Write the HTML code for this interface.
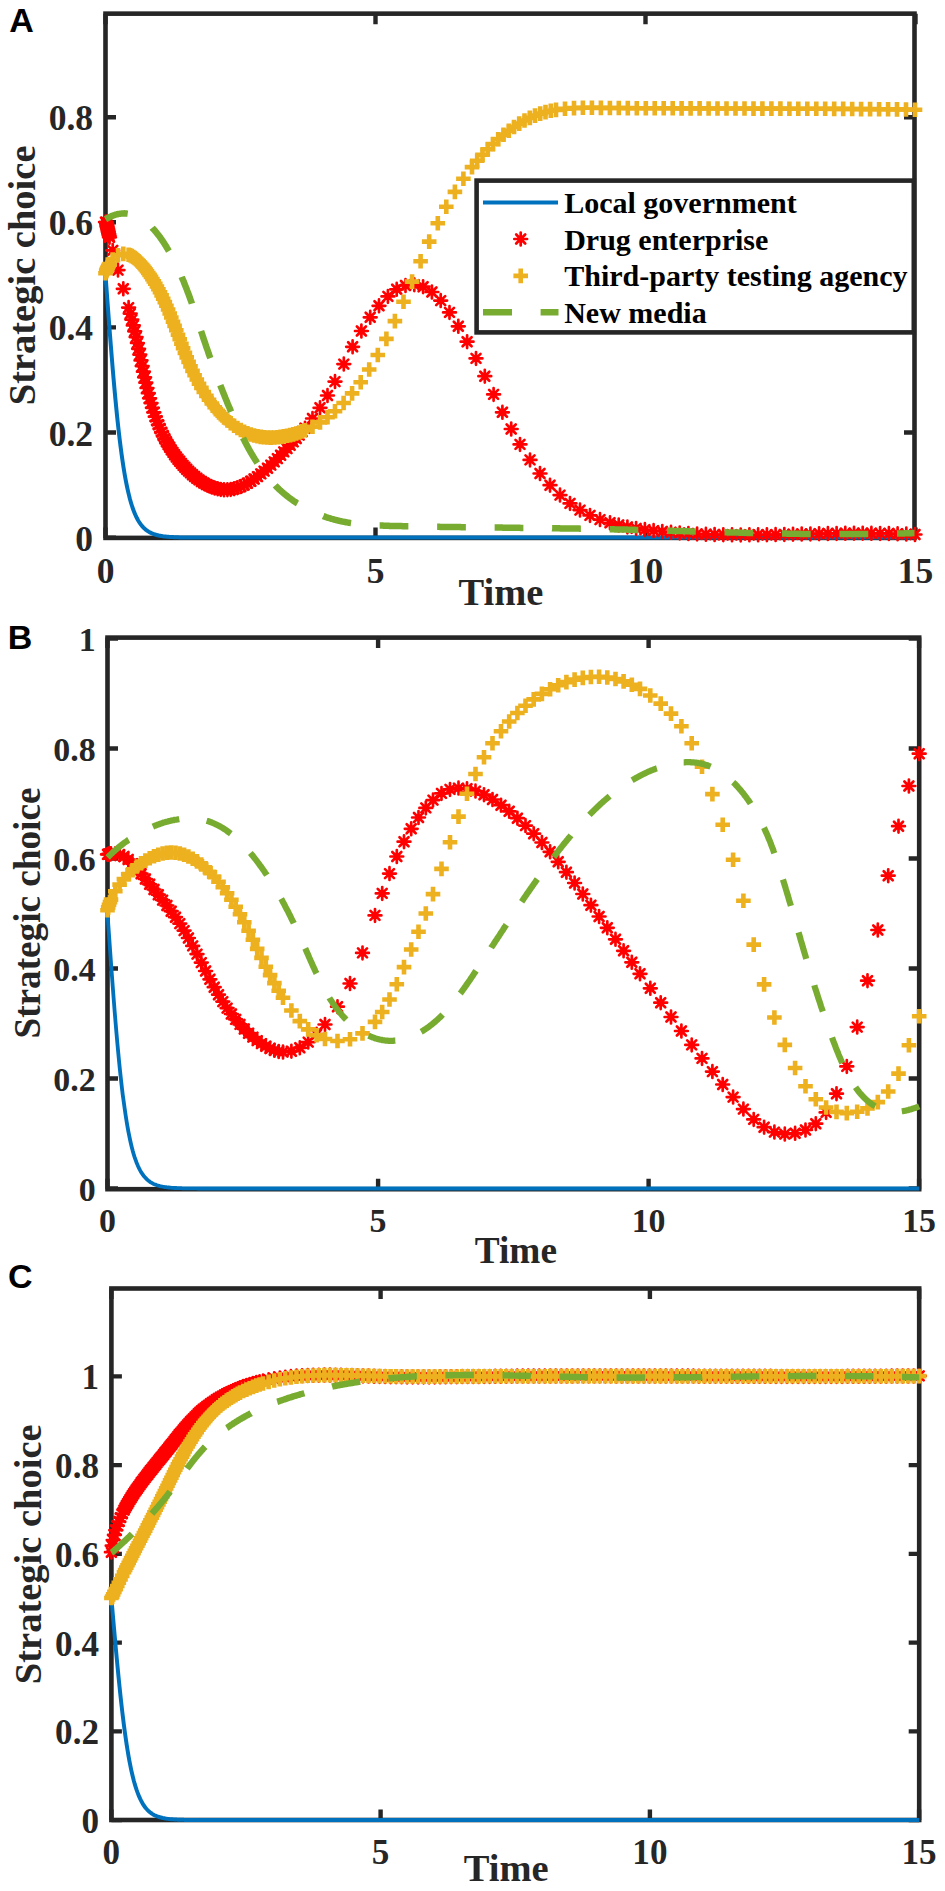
<!DOCTYPE html>
<html><head><meta charset="utf-8"><style>
html,body{margin:0;padding:0;background:#fff;width:945px;height:1891px;overflow:hidden}
svg{display:block}
.tl{font-family:"Liberation Serif",serif;font-weight:bold;font-size:35px;fill:#262626}
.al{font-family:"Liberation Serif",serif;font-weight:bold;font-size:38.5px;fill:#262626}
.lg{font-family:"Liberation Serif",serif;font-weight:bold;font-size:30px;fill:#000}
.pl{font-family:"Liberation Sans",sans-serif;font-weight:bold;font-size:34px;fill:#000}
</style></head><body>
<svg width="945" height="1891" viewBox="0 0 945 1891">
<defs>
<path id="ast" d="M-6.4,0H6.4M0,-6.4V6.4M-4.5,-4.5L4.5,4.5M-4.5,4.5L4.5,-4.5" stroke="#FF0000" stroke-width="2.7" stroke-linecap="round" fill="none"/>
<path id="pls" d="M-7.3,0H7.3M0,-7.3V7.3" stroke="#EDB120" stroke-width="4.6" fill="none"/>
</defs>
<rect width="945" height="1891" fill="#fff"/>
<rect x="105.5" y="13.65" width="809.0" height="524.25" fill="none" stroke="#262626" stroke-width="4.6"/>
<path d="M105.5,537.6h10.5M914.5,537.6h-10.5M105.5,432.5h10.5M914.5,432.5h-10.5M105.5,327.4h10.5M914.5,327.4h-10.5M105.5,222.3h10.5M914.5,222.3h-10.5M105.5,117.2h10.5M914.5,117.2h-10.5M105.5,537.9v-10.5M105.5,13.65v10.5M375.5,537.9v-10.5M375.5,13.65v10.5M645.5,537.9v-10.5M645.5,13.65v10.5M915.5,537.9v-10.5M915.5,13.65v10.5" stroke="#262626" stroke-width="4.4" fill="none"/>
<path d="M105.5,274.9 L106.4,287.1 L107.3,299.3 L108.2,311.4 L109.1,323.3 L110.0,335.1 L110.9,346.5 L111.8,357.7 L112.7,368.6 L113.6,379.1 L114.5,389.3 L115.4,399.0 L116.3,408.3 L117.2,417.2 L118.1,425.6 L119.0,433.6 L119.9,441.2 L120.8,448.3 L121.7,455.0 L122.6,461.3 L123.5,467.2 L124.4,472.7 L125.3,477.8 L126.2,482.6 L127.1,487.0 L128.0,491.1 L128.9,494.9 L129.8,498.5 L130.7,501.7 L131.6,504.7 L132.5,507.5 L133.4,510.0 L134.3,512.4 L135.2,514.5 L136.1,516.5 L137.0,518.3 L137.9,520.0 L138.8,521.5 L139.7,522.9 L140.6,524.2 L141.5,525.3 L142.4,526.4 L143.3,527.4 L144.2,528.3 L145.1,529.1 L146.0,529.8 L146.9,530.5 L147.8,531.1 L148.7,531.7 L149.6,532.2 L150.5,532.7 L151.4,533.1 L152.3,533.5 L153.2,533.9 L154.1,534.2 L155.0,534.5 L155.9,534.8 L156.8,535.0 L157.7,535.3 L158.6,535.5 L159.5,535.7 L160.4,535.8 L161.3,536.0 L162.2,536.1 L163.1,536.3 L164.0,536.4 L164.9,536.5 L165.8,536.6 L166.7,536.7 L167.6,536.8 L168.5,536.8 L169.4,536.9 L170.3,537.0 L171.2,537.0 L172.1,537.1 L173.0,537.1 L173.9,537.2 L174.8,537.2 L175.7,537.2 L176.6,537.3 L177.5,537.3 L178.4,537.3 L179.3,537.4 L180.2,537.4 L181.1,537.4 L182.0,537.4 L182.9,537.4 L183.8,537.4 L184.7,537.5 L185.6,537.5 L186.5,537.5 L187.4,537.5 L188.3,537.5 L189.2,537.5 L190.1,537.5 L191.0,537.5 L191.9,537.5 L192.8,537.5 L193.7,537.5 L194.6,537.5 L195.5,537.6 L196.4,537.6 L197.3,537.6 L198.2,537.6 L199.1,537.6 L200.0,537.6 L200.9,537.6 L201.8,537.6 L202.7,537.6 L203.6,537.6 L204.5,537.6 L205.4,537.6 L206.3,537.6 L207.2,537.6 L208.1,537.6 L209.0,537.6 L209.9,537.6 L210.8,537.6 L211.7,537.6 L212.6,537.6 L213.5,537.6 L214.4,537.6 L215.3,537.6 L216.2,537.6 L217.1,537.6 L218.0,537.6 L218.9,537.6 L219.8,537.6 L220.7,537.6 L221.6,537.6 L222.5,537.6 L223.4,537.6 L224.3,537.6 L225.2,537.6 L226.1,537.6 L227.0,537.6 L227.9,537.6 L228.8,537.6 L229.7,537.6 L230.6,537.6 L231.5,537.6 L232.4,537.6 L233.3,537.6 L234.2,537.6 L235.1,537.6 L236.0,537.6 L236.9,537.6 L237.8,537.6 L238.7,537.6 L239.6,537.6 L240.5,537.6 L241.4,537.6 L242.3,537.6 L243.2,537.6 L244.1,537.6 L245.0,537.6 L245.9,537.6 L246.8,537.6 L247.7,537.6 L248.6,537.6 L249.5,537.6 L250.4,537.6 L251.3,537.6 L252.2,537.6 L253.1,537.6 L254.0,537.6 L254.9,537.6 L255.8,537.6 L256.7,537.6 L257.6,537.6 L258.5,537.6 L259.4,537.6 L260.3,537.6 L261.2,537.6 L262.1,537.6 L263.0,537.6 L263.9,537.6 L264.8,537.6 L265.7,537.6 L266.6,537.6 L267.5,537.6 L268.4,537.6 L269.3,537.6 L270.2,537.6 L271.1,537.6 L272.0,537.6 L272.9,537.6 L273.8,537.6 L274.7,537.6 L275.6,537.6 L276.5,537.6 L277.4,537.6 L278.3,537.6 L279.2,537.6 L280.1,537.6 L281.0,537.6 L281.9,537.6 L282.8,537.6 L283.7,537.6 L284.6,537.6 L285.5,537.6 L286.4,537.6 L287.3,537.6 L288.2,537.6 L289.1,537.6 L290.0,537.6 L290.9,537.6 L291.8,537.6 L292.7,537.6 L293.6,537.6 L294.5,537.6 L295.4,537.6 L296.3,537.6 L297.2,537.6 L298.1,537.6 L299.0,537.6 L299.9,537.6 L300.8,537.6 L301.7,537.6 L302.6,537.6 L303.5,537.6 L304.4,537.6 L305.3,537.6 L306.2,537.6 L307.1,537.6 L308.0,537.6 L308.9,537.6 L309.8,537.6 L310.7,537.6 L311.6,537.6 L312.5,537.6 L313.4,537.6 L314.3,537.6 L315.2,537.6 L316.1,537.6 L317.0,537.6 L317.9,537.6 L318.8,537.6 L319.7,537.6 L320.6,537.6 L321.5,537.6 L322.4,537.6 L323.3,537.6 L324.2,537.6 L325.1,537.6 L326.0,537.6 L326.9,537.6 L327.8,537.6 L328.7,537.6 L329.6,537.6 L330.5,537.6 L331.4,537.6 L332.3,537.6 L333.2,537.6 L334.1,537.6 L335.0,537.6 L335.9,537.6 L336.8,537.6 L337.7,537.6 L338.6,537.6 L339.5,537.6 L340.4,537.6 L341.3,537.6 L342.2,537.6 L343.1,537.6 L344.0,537.6 L344.9,537.6 L345.8,537.6 L346.7,537.6 L347.6,537.6 L348.5,537.6 L349.4,537.6 L350.3,537.6 L351.2,537.6 L352.1,537.6 L353.0,537.6 L353.9,537.6 L354.8,537.6 L355.7,537.6 L356.6,537.6 L357.5,537.6 L358.4,537.6 L359.3,537.6 L360.2,537.6 L361.1,537.6 L362.0,537.6 L362.9,537.6 L363.8,537.6 L364.7,537.6 L365.6,537.6 L366.5,537.6 L367.4,537.6 L368.3,537.6 L369.2,537.6 L370.1,537.6 L371.0,537.6 L371.9,537.6 L372.8,537.6 L373.7,537.6 L374.6,537.6 L375.5,537.6 L376.4,537.6 L377.3,537.6 L378.2,537.6 L379.1,537.6 L380.0,537.6 L380.9,537.6 L381.8,537.6 L382.7,537.6 L383.6,537.6 L384.5,537.6 L385.4,537.6 L386.3,537.6 L387.2,537.6 L388.1,537.6 L389.0,537.6 L389.9,537.6 L390.8,537.6 L391.7,537.6 L392.6,537.6 L393.5,537.6 L394.4,537.6 L395.3,537.6 L396.2,537.6 L397.1,537.6 L398.0,537.6 L398.9,537.6 L399.8,537.6 L400.7,537.6 L401.6,537.6 L402.5,537.6 L403.4,537.6 L404.3,537.6 L405.2,537.6 L406.1,537.6 L407.0,537.6 L407.9,537.6 L408.8,537.6 L409.7,537.6 L410.6,537.6 L411.5,537.6 L412.4,537.6 L413.3,537.6 L414.2,537.6 L415.1,537.6 L416.0,537.6 L416.9,537.6 L417.8,537.6 L418.7,537.6 L419.6,537.6 L420.5,537.6 L421.4,537.6 L422.3,537.6 L423.2,537.6 L424.1,537.6 L425.0,537.6 L425.9,537.6 L426.8,537.6 L427.7,537.6 L428.6,537.6 L429.5,537.6 L430.4,537.6 L431.3,537.6 L432.2,537.6 L433.1,537.6 L434.0,537.6 L434.9,537.6 L435.8,537.6 L436.7,537.6 L437.6,537.6 L438.5,537.6 L439.4,537.6 L440.3,537.6 L441.2,537.6 L442.1,537.6 L443.0,537.6 L443.9,537.6 L444.8,537.6 L445.7,537.6 L446.6,537.6 L447.5,537.6 L448.4,537.6 L449.3,537.6 L450.2,537.6 L451.1,537.6 L452.0,537.6 L452.9,537.6 L453.8,537.6 L454.7,537.6 L455.6,537.6 L456.5,537.6 L457.4,537.6 L458.3,537.6 L459.2,537.6 L460.1,537.6 L461.0,537.6 L461.9,537.6 L462.8,537.6 L463.7,537.6 L464.6,537.6 L465.5,537.6 L466.4,537.6 L467.3,537.6 L468.2,537.6 L469.1,537.6 L470.0,537.6 L470.9,537.6 L471.8,537.6 L472.7,537.6 L473.6,537.6 L474.5,537.6 L475.4,537.6 L476.3,537.6 L477.2,537.6 L478.1,537.6 L479.0,537.6 L479.9,537.6 L480.8,537.6 L481.7,537.6 L482.6,537.6 L483.5,537.6 L484.4,537.6 L485.3,537.6 L486.2,537.6 L487.1,537.6 L488.0,537.6 L488.9,537.6 L489.8,537.6 L490.7,537.6 L491.6,537.6 L492.5,537.6 L493.4,537.6 L494.3,537.6 L495.2,537.6 L496.1,537.6 L497.0,537.6 L497.9,537.6 L498.8,537.6 L499.7,537.6 L500.6,537.6 L501.5,537.6 L502.4,537.6 L503.3,537.6 L504.2,537.6 L505.1,537.6 L506.0,537.6 L506.9,537.6 L507.8,537.6 L508.7,537.6 L509.6,537.6 L510.4,537.6 L511.3,537.6 L512.2,537.6 L513.1,537.6 L514.0,537.6 L514.9,537.6 L515.8,537.6 L516.7,537.6 L517.6,537.6 L518.5,537.6 L519.4,537.6 L520.3,537.6 L521.2,537.6 L522.1,537.6 L523.0,537.6 L523.9,537.6 L524.8,537.6 L525.7,537.6 L526.6,537.6 L527.5,537.6 L528.4,537.6 L529.3,537.6 L530.2,537.6 L531.1,537.6 L532.0,537.6 L532.9,537.6 L533.8,537.6 L534.7,537.6 L535.6,537.6 L536.5,537.6 L537.4,537.6 L538.3,537.6 L539.2,537.6 L540.1,537.6 L541.0,537.6 L541.9,537.6 L542.8,537.6 L543.7,537.6 L544.6,537.6 L545.5,537.6 L546.4,537.6 L547.3,537.6 L548.2,537.6 L549.1,537.6 L550.0,537.6 L550.9,537.6 L551.8,537.6 L552.7,537.6 L553.6,537.6 L554.5,537.6 L555.4,537.6 L556.3,537.6 L557.2,537.6 L558.1,537.6 L559.0,537.6 L559.9,537.6 L560.8,537.6 L561.7,537.6 L562.6,537.6 L563.5,537.6 L564.4,537.6 L565.3,537.6 L566.2,537.6 L567.1,537.6 L568.0,537.6 L568.9,537.6 L569.8,537.6 L570.7,537.6 L571.6,537.6 L572.5,537.6 L573.4,537.6 L574.3,537.6 L575.2,537.6 L576.1,537.6 L577.0,537.6 L577.9,537.6 L578.8,537.6 L579.7,537.6 L580.6,537.6 L581.5,537.6 L582.4,537.6 L583.3,537.6 L584.2,537.6 L585.1,537.6 L586.0,537.6 L586.9,537.6 L587.8,537.6 L588.7,537.6 L589.6,537.6 L590.5,537.6 L591.4,537.6 L592.3,537.6 L593.2,537.6 L594.1,537.6 L595.0,537.6 L595.9,537.6 L596.8,537.6 L597.7,537.6 L598.6,537.6 L599.5,537.6 L600.4,537.6 L601.3,537.6 L602.2,537.6 L603.1,537.6 L604.0,537.6 L604.9,537.6 L605.8,537.6 L606.7,537.6 L607.6,537.6 L608.5,537.6 L609.4,537.6 L610.3,537.6 L611.2,537.6 L612.1,537.6 L613.0,537.6 L613.9,537.6 L614.8,537.6 L615.7,537.6 L616.6,537.6 L617.5,537.6 L618.4,537.6 L619.3,537.6 L620.2,537.6 L621.1,537.6 L622.0,537.6 L622.9,537.6 L623.8,537.6 L624.7,537.6 L625.6,537.6 L626.5,537.6 L627.4,537.6 L628.3,537.6 L629.2,537.6 L630.1,537.6 L631.0,537.6 L631.9,537.6 L632.8,537.6 L633.7,537.6 L634.6,537.6 L635.5,537.6 L636.4,537.6 L637.3,537.6 L638.2,537.6 L639.1,537.6 L640.0,537.6 L640.9,537.6 L641.8,537.6 L642.7,537.6 L643.6,537.6 L644.5,537.6 L645.4,537.6 L646.3,537.6 L647.2,537.6 L648.1,537.6 L649.0,537.6 L649.9,537.6 L650.8,537.6 L651.7,537.6 L652.6,537.6 L653.5,537.6 L654.4,537.6 L655.3,537.6 L656.2,537.6 L657.1,537.6 L658.0,537.6 L658.9,537.6 L659.8,537.6 L660.7,537.6 L661.6,537.6 L662.5,537.6 L663.4,537.6 L664.3,537.6 L665.2,537.6 L666.1,537.6 L667.0,537.6 L667.9,537.6 L668.8,537.6 L669.7,537.6 L670.6,537.6 L671.5,537.6 L672.4,537.6 L673.3,537.6 L674.2,537.6 L675.1,537.6 L676.0,537.6 L676.9,537.6 L677.8,537.6 L678.7,537.6 L679.6,537.6 L680.5,537.6 L681.4,537.6 L682.3,537.6 L683.2,537.6 L684.1,537.6 L685.0,537.6 L685.9,537.6 L686.8,537.6 L687.7,537.6 L688.6,537.6 L689.5,537.6 L690.4,537.6 L691.3,537.6 L692.2,537.6 L693.1,537.6 L694.0,537.6 L694.9,537.6 L695.8,537.6 L696.7,537.6 L697.6,537.6 L698.5,537.6 L699.4,537.6 L700.3,537.6 L701.2,537.6 L702.1,537.6 L703.0,537.6 L703.9,537.6 L704.8,537.6 L705.7,537.6 L706.6,537.6 L707.5,537.6 L708.4,537.6 L709.3,537.6 L710.2,537.6 L711.1,537.6 L712.0,537.6 L712.9,537.6 L713.8,537.6 L714.7,537.6 L715.6,537.6 L716.5,537.6 L717.4,537.6 L718.3,537.6 L719.2,537.6 L720.1,537.6 L721.0,537.6 L721.9,537.6 L722.8,537.6 L723.7,537.6 L724.6,537.6 L725.5,537.6 L726.4,537.6 L727.3,537.6 L728.2,537.6 L729.1,537.6 L730.0,537.6 L730.9,537.6 L731.8,537.6 L732.7,537.6 L733.6,537.6 L734.5,537.6 L735.4,537.6 L736.3,537.6 L737.2,537.6 L738.1,537.6 L739.0,537.6 L739.9,537.6 L740.8,537.6 L741.7,537.6 L742.6,537.6 L743.5,537.6 L744.4,537.6 L745.3,537.6 L746.2,537.6 L747.1,537.6 L748.0,537.6 L748.9,537.6 L749.8,537.6 L750.7,537.6 L751.6,537.6 L752.5,537.6 L753.4,537.6 L754.3,537.6 L755.2,537.6 L756.1,537.6 L757.0,537.6 L757.9,537.6 L758.8,537.6 L759.7,537.6 L760.6,537.6 L761.5,537.6 L762.4,537.6 L763.3,537.6 L764.2,537.6 L765.1,537.6 L766.0,537.6 L766.9,537.6 L767.8,537.6 L768.7,537.6 L769.6,537.6 L770.5,537.6 L771.4,537.6 L772.3,537.6 L773.2,537.6 L774.1,537.6 L775.0,537.6 L775.9,537.6 L776.8,537.6 L777.7,537.6 L778.6,537.6 L779.5,537.6 L780.4,537.6 L781.3,537.6 L782.2,537.6 L783.1,537.6 L784.0,537.6 L784.9,537.6 L785.8,537.6 L786.7,537.6 L787.6,537.6 L788.5,537.6 L789.4,537.6 L790.3,537.6 L791.2,537.6 L792.1,537.6 L793.0,537.6 L793.9,537.6 L794.8,537.6 L795.7,537.6 L796.6,537.6 L797.5,537.6 L798.4,537.6 L799.3,537.6 L800.2,537.6 L801.1,537.6 L802.0,537.6 L802.9,537.6 L803.8,537.6 L804.7,537.6 L805.6,537.6 L806.5,537.6 L807.4,537.6 L808.3,537.6 L809.2,537.6 L810.1,537.6 L811.0,537.6 L811.9,537.6 L812.8,537.6 L813.7,537.6 L814.6,537.6 L815.5,537.6 L816.4,537.6 L817.3,537.6 L818.2,537.6 L819.1,537.6 L820.0,537.6 L820.9,537.6 L821.8,537.6 L822.7,537.6 L823.6,537.6 L824.5,537.6 L825.4,537.6 L826.3,537.6 L827.2,537.6 L828.1,537.6 L829.0,537.6 L829.9,537.6 L830.8,537.6 L831.7,537.6 L832.6,537.6 L833.5,537.6 L834.4,537.6 L835.3,537.6 L836.2,537.6 L837.1,537.6 L838.0,537.6 L838.9,537.6 L839.8,537.6 L840.7,537.6 L841.6,537.6 L842.5,537.6 L843.4,537.6 L844.3,537.6 L845.2,537.6 L846.1,537.6 L847.0,537.6 L847.9,537.6 L848.8,537.6 L849.7,537.6 L850.6,537.6 L851.5,537.6 L852.4,537.6 L853.3,537.6 L854.2,537.6 L855.1,537.6 L856.0,537.6 L856.9,537.6 L857.8,537.6 L858.7,537.6 L859.6,537.6 L860.5,537.6 L861.4,537.6 L862.3,537.6 L863.2,537.6 L864.1,537.6 L865.0,537.6 L865.9,537.6 L866.8,537.6 L867.7,537.6 L868.6,537.6 L869.5,537.6 L870.4,537.6 L871.3,537.6 L872.2,537.6 L873.1,537.6 L874.0,537.6 L874.9,537.6 L875.8,537.6 L876.7,537.6 L877.6,537.6 L878.5,537.6 L879.4,537.6 L880.3,537.6 L881.2,537.6 L882.1,537.6 L883.0,537.6 L883.9,537.6 L884.8,537.6 L885.7,537.6 L886.6,537.6 L887.5,537.6 L888.4,537.6 L889.3,537.6 L890.2,537.6 L891.1,537.6 L892.0,537.6 L892.9,537.6 L893.8,537.6 L894.7,537.6 L895.6,537.6 L896.5,537.6 L897.4,537.6 L898.3,537.6 L899.2,537.6 L900.1,537.6 L901.0,537.6 L901.9,537.6 L902.8,537.6 L903.7,537.6 L904.6,537.6 L905.5,537.6 L906.4,537.6 L907.3,537.6 L908.2,537.6 L909.1,537.6 L910.0,537.6 L910.9,537.6 L911.8,537.6 L912.7,537.6 L913.6,537.6 L914.5,537.6" fill="none" stroke="#0072BD" stroke-width="4.00" stroke-linejoin="round"/>
<g>
<use href="#ast" transform="translate(105.5,222.1) scale(1.0)"/>
<use href="#ast" transform="translate(106.2,222.1) scale(1.0)"/>
<use href="#ast" transform="translate(106.6,223.7) scale(1.0)"/>
<use href="#ast" transform="translate(106.9,225.4) scale(1.0)"/>
<use href="#ast" transform="translate(107.2,227.0) scale(1.0)"/>
<use href="#ast" transform="translate(107.6,228.7) scale(1.0)"/>
<use href="#ast" transform="translate(108.0,230.4) scale(1.0)"/>
<use href="#ast" transform="translate(108.3,232.1) scale(1.0)"/>
<use href="#ast" transform="translate(108.7,233.8) scale(1.0)"/>
<use href="#ast" transform="translate(109.1,235.6) scale(1.0)"/>
<use href="#ast" transform="translate(109.5,237.3) scale(1.0)"/>
<use href="#ast" transform="translate(112.7,250.4) scale(1.0)"/>
<use href="#ast" transform="translate(118.0,270.1) scale(1.0)"/>
<use href="#ast" transform="translate(123.3,288.8) scale(1.0)"/>
<use href="#ast" transform="translate(128.6,307.6) scale(1.0)"/>
<use href="#ast" transform="translate(130.2,313.6) scale(1.0)"/>
<use href="#ast" transform="translate(131.8,319.6) scale(1.0)"/>
<use href="#ast" transform="translate(133.3,325.4) scale(1.0)"/>
<use href="#ast" transform="translate(134.7,331.3) scale(1.0)"/>
<use href="#ast" transform="translate(136.1,337.1) scale(1.0)"/>
<use href="#ast" transform="translate(137.4,343.0) scale(1.0)"/>
<use href="#ast" transform="translate(138.6,348.8) scale(1.0)"/>
<use href="#ast" transform="translate(139.8,354.6) scale(1.0)"/>
<use href="#ast" transform="translate(141.0,360.4) scale(1.0)"/>
<use href="#ast" transform="translate(142.2,366.1) scale(1.0)"/>
<use href="#ast" transform="translate(143.4,371.7) scale(1.0)"/>
<use href="#ast" transform="translate(144.6,377.3) scale(1.0)"/>
<use href="#ast" transform="translate(145.8,382.7) scale(1.0)"/>
<use href="#ast" transform="translate(147.0,388.0) scale(1.0)"/>
<use href="#ast" transform="translate(148.3,393.2) scale(1.0)"/>
<use href="#ast" transform="translate(149.6,398.3) scale(1.0)"/>
<use href="#ast" transform="translate(151.0,403.1) scale(1.0)"/>
<use href="#ast" transform="translate(152.4,407.8) scale(1.0)"/>
<use href="#ast" transform="translate(153.8,412.4) scale(1.0)"/>
<use href="#ast" transform="translate(155.3,416.7) scale(1.0)"/>
<use href="#ast" transform="translate(156.9,420.8) scale(1.0)"/>
<use href="#ast" transform="translate(158.4,424.8) scale(1.0)"/>
<use href="#ast" transform="translate(160.0,428.5) scale(1.0)"/>
<use href="#ast" transform="translate(161.6,432.1) scale(1.0)"/>
<use href="#ast" transform="translate(163.2,435.5) scale(1.0)"/>
<use href="#ast" transform="translate(164.8,438.7) scale(1.0)"/>
<use href="#ast" transform="translate(166.4,441.7) scale(1.0)"/>
<use href="#ast" transform="translate(168.1,444.6) scale(1.0)"/>
<use href="#ast" transform="translate(169.7,447.3) scale(1.0)"/>
<use href="#ast" transform="translate(171.3,449.9) scale(1.0)"/>
<use href="#ast" transform="translate(173.0,452.4) scale(1.0)"/>
<use href="#ast" transform="translate(174.6,454.8) scale(1.0)"/>
<use href="#ast" transform="translate(176.3,457.0) scale(1.0)"/>
<use href="#ast" transform="translate(178.0,459.2) scale(1.0)"/>
<use href="#ast" transform="translate(179.7,461.3) scale(1.0)"/>
<use href="#ast" transform="translate(181.4,463.4) scale(1.0)"/>
<use href="#ast" transform="translate(183.1,465.4) scale(1.0)"/>
<use href="#ast" transform="translate(184.9,467.3) scale(1.0)"/>
<use href="#ast" transform="translate(186.7,469.2) scale(1.0)"/>
<use href="#ast" transform="translate(188.6,471.1) scale(1.0)"/>
<use href="#ast" transform="translate(190.5,472.9) scale(1.0)"/>
<use href="#ast" transform="translate(192.5,474.8) scale(1.0)"/>
<use href="#ast" transform="translate(194.6,476.5) scale(1.0)"/>
<use href="#ast" transform="translate(196.8,478.2) scale(1.0)"/>
<use href="#ast" transform="translate(199.0,479.9) scale(1.0)"/>
<use href="#ast" transform="translate(201.4,481.5) scale(1.0)"/>
<use href="#ast" transform="translate(203.8,483.0) scale(1.0)"/>
<use href="#ast" transform="translate(206.4,484.5) scale(1.0)"/>
<use href="#ast" transform="translate(209.0,485.8) scale(1.0)"/>
<use href="#ast" transform="translate(211.8,487.0) scale(1.0)"/>
<use href="#ast" transform="translate(214.7,488.0) scale(1.0)"/>
<use href="#ast" transform="translate(217.7,488.8) scale(1.0)"/>
<use href="#ast" transform="translate(220.8,489.4) scale(1.0)"/>
<use href="#ast" transform="translate(224.0,489.8) scale(1.0)"/>
<use href="#ast" transform="translate(227.4,489.7) scale(1.0)"/>
<use href="#ast" transform="translate(230.7,489.4) scale(1.0)"/>
<use href="#ast" transform="translate(234.1,488.7) scale(1.0)"/>
<use href="#ast" transform="translate(237.4,487.7) scale(1.0)"/>
<use href="#ast" transform="translate(240.8,486.5) scale(1.0)"/>
<use href="#ast" transform="translate(244.1,485.0) scale(1.0)"/>
<use href="#ast" transform="translate(247.4,483.2) scale(1.0)"/>
<use href="#ast" transform="translate(250.8,481.2) scale(1.0)"/>
<use href="#ast" transform="translate(254.1,479.0) scale(1.0)"/>
<use href="#ast" transform="translate(257.5,476.6) scale(1.0)"/>
<use href="#ast" transform="translate(260.8,473.9) scale(1.0)"/>
<use href="#ast" transform="translate(264.1,471.1) scale(1.0)"/>
<use href="#ast" transform="translate(267.5,468.2) scale(1.0)"/>
<use href="#ast" transform="translate(270.8,465.1) scale(1.0)"/>
<use href="#ast" transform="translate(274.2,461.9) scale(1.0)"/>
<use href="#ast" transform="translate(277.4,458.6) scale(1.0)"/>
<use href="#ast" transform="translate(280.6,455.3) scale(1.0)"/>
<use href="#ast" transform="translate(283.8,451.9) scale(1.0)"/>
<use href="#ast" transform="translate(287.0,448.6) scale(1.0)"/>
<use href="#ast" transform="translate(290.1,445.2) scale(1.0)"/>
<use href="#ast" transform="translate(293.2,441.9) scale(1.0)"/>
<use href="#ast" transform="translate(296.2,438.5) scale(1.0)"/>
<use href="#ast" transform="translate(299.2,435.1) scale(1.0)"/>
<use href="#ast" transform="translate(302.1,431.6) scale(1.0)"/>
<use href="#ast" transform="translate(305.0,428.2) scale(1.0)"/>
<use href="#ast" transform="translate(312.5,418.5) scale(1.0)"/>
<use href="#ast" transform="translate(320.0,407.8) scale(1.0)"/>
<use href="#ast" transform="translate(327.5,395.5) scale(1.0)"/>
<use href="#ast" transform="translate(335.0,381.6) scale(1.0)"/>
<use href="#ast" transform="translate(343.8,364.1) scale(1.0)"/>
<use href="#ast" transform="translate(352.6,346.8) scale(1.0)"/>
<use href="#ast" transform="translate(361.4,331.0) scale(1.0)"/>
<use href="#ast" transform="translate(370.2,317.3) scale(1.0)"/>
<use href="#ast" transform="translate(379.0,305.8) scale(1.0)"/>
<use href="#ast" transform="translate(387.9,296.4) scale(1.0)"/>
<use href="#ast" transform="translate(396.7,289.3) scale(1.0)"/>
<use href="#ast" transform="translate(405.5,285.5) scale(1.0)"/>
<use href="#ast" transform="translate(414.3,284.7) scale(1.0)"/>
<use href="#ast" transform="translate(423.1,286.7) scale(1.0)"/>
<use href="#ast" transform="translate(431.9,292.0) scale(1.0)"/>
<use href="#ast" transform="translate(440.7,300.6) scale(1.0)"/>
<use href="#ast" transform="translate(449.5,312.4) scale(1.0)"/>
<use href="#ast" transform="translate(458.3,326.3) scale(1.0)"/>
<use href="#ast" transform="translate(467.1,341.7) scale(1.0)"/>
<use href="#ast" transform="translate(476.0,358.4) scale(1.0)"/>
<use href="#ast" transform="translate(484.8,376.2) scale(1.0)"/>
<use href="#ast" transform="translate(493.6,394.4) scale(1.0)"/>
<use href="#ast" transform="translate(502.4,412.3) scale(1.0)"/>
<use href="#ast" transform="translate(511.2,429.0) scale(1.0)"/>
<use href="#ast" transform="translate(520.0,444.4) scale(1.0)"/>
<use href="#ast" transform="translate(530.0,459.9) scale(1.0)"/>
<use href="#ast" transform="translate(540.0,473.5) scale(1.0)"/>
<use href="#ast" transform="translate(550.0,485.2) scale(1.0)"/>
<use href="#ast" transform="translate(560.0,495.1) scale(1.0)"/>
<use href="#ast" transform="translate(570.0,503.4) scale(1.0)"/>
<use href="#ast" transform="translate(580.0,510.1) scale(1.0)"/>
<use href="#ast" transform="translate(590.0,515.4) scale(1.0)"/>
<use href="#ast" transform="translate(600.0,519.6) scale(1.0)"/>
<use href="#ast" transform="translate(610.0,522.8) scale(1.0)"/>
<use href="#ast" transform="translate(618.7,525.0) scale(1.0)"/>
<use href="#ast" transform="translate(627.4,526.9) scale(1.0)"/>
<use href="#ast" transform="translate(636.1,528.4) scale(1.0)"/>
<use href="#ast" transform="translate(644.9,529.6) scale(1.0)"/>
<use href="#ast" transform="translate(653.6,530.6) scale(1.0)"/>
<use href="#ast" transform="translate(662.3,531.5) scale(1.0)"/>
<use href="#ast" transform="translate(671.0,532.3) scale(1.0)"/>
<use href="#ast" transform="translate(679.7,532.9) scale(1.0)"/>
<use href="#ast" transform="translate(688.4,533.5) scale(1.0)"/>
<use href="#ast" transform="translate(697.1,533.9) scale(1.0)"/>
<use href="#ast" transform="translate(705.9,534.3) scale(1.0)"/>
<use href="#ast" transform="translate(714.6,534.5) scale(1.0)"/>
<use href="#ast" transform="translate(723.3,534.7) scale(1.0)"/>
<use href="#ast" transform="translate(732.0,534.8) scale(1.0)"/>
<use href="#ast" transform="translate(740.7,534.9) scale(1.0)"/>
<use href="#ast" transform="translate(749.4,534.8) scale(1.0)"/>
<use href="#ast" transform="translate(758.1,534.8) scale(1.0)"/>
<use href="#ast" transform="translate(766.9,534.7) scale(1.0)"/>
<use href="#ast" transform="translate(775.6,534.6) scale(1.0)"/>
<use href="#ast" transform="translate(784.3,534.4) scale(1.0)"/>
<use href="#ast" transform="translate(793.0,534.2) scale(1.0)"/>
<use href="#ast" transform="translate(801.7,534.0) scale(1.0)"/>
<use href="#ast" transform="translate(810.4,533.9) scale(1.0)"/>
<use href="#ast" transform="translate(819.1,533.7) scale(1.0)"/>
<use href="#ast" transform="translate(827.9,533.5) scale(1.0)"/>
<use href="#ast" transform="translate(836.6,533.4) scale(1.0)"/>
<use href="#ast" transform="translate(845.3,533.3) scale(1.0)"/>
<use href="#ast" transform="translate(854.0,533.2) scale(1.0)"/>
<use href="#ast" transform="translate(862.7,533.2) scale(1.0)"/>
<use href="#ast" transform="translate(871.4,533.3) scale(1.0)"/>
<use href="#ast" transform="translate(880.1,533.4) scale(1.0)"/>
<use href="#ast" transform="translate(888.9,533.5) scale(1.0)"/>
<use href="#ast" transform="translate(897.6,533.8) scale(1.0)"/>
<use href="#ast" transform="translate(906.3,534.1) scale(1.0)"/>
<use href="#ast" transform="translate(915.0,534.5) scale(1.0)"/>
</g><g>
<use href="#pls" transform="translate(105.5,273.2) scale(1.0)"/>
<use href="#pls" transform="translate(106.2,271.1) scale(1.0)"/>
<use href="#pls" transform="translate(106.6,270.2) scale(1.0)"/>
<use href="#pls" transform="translate(106.9,269.4) scale(1.0)"/>
<use href="#pls" transform="translate(107.2,268.6) scale(1.0)"/>
<use href="#pls" transform="translate(107.6,267.8) scale(1.0)"/>
<use href="#pls" transform="translate(108.0,267.0) scale(1.0)"/>
<use href="#pls" transform="translate(108.3,266.2) scale(1.0)"/>
<use href="#pls" transform="translate(108.7,265.5) scale(1.0)"/>
<use href="#pls" transform="translate(109.1,264.7) scale(1.0)"/>
<use href="#pls" transform="translate(109.5,264.0) scale(1.0)"/>
<use href="#pls" transform="translate(112.7,259.5) scale(1.0)"/>
<use href="#pls" transform="translate(118.0,255.3) scale(1.0)"/>
<use href="#pls" transform="translate(123.3,253.9) scale(1.0)"/>
<use href="#pls" transform="translate(128.6,254.7) scale(1.0)"/>
<use href="#pls" transform="translate(130.2,255.3) scale(1.0)"/>
<use href="#pls" transform="translate(131.8,256.1) scale(1.0)"/>
<use href="#pls" transform="translate(133.3,257.0) scale(1.0)"/>
<use href="#pls" transform="translate(134.7,258.0) scale(1.0)"/>
<use href="#pls" transform="translate(136.1,259.1) scale(1.0)"/>
<use href="#pls" transform="translate(137.4,260.2) scale(1.0)"/>
<use href="#pls" transform="translate(138.6,261.3) scale(1.0)"/>
<use href="#pls" transform="translate(139.8,262.5) scale(1.0)"/>
<use href="#pls" transform="translate(141.0,263.8) scale(1.0)"/>
<use href="#pls" transform="translate(142.2,265.1) scale(1.0)"/>
<use href="#pls" transform="translate(143.4,266.5) scale(1.0)"/>
<use href="#pls" transform="translate(144.6,268.0) scale(1.0)"/>
<use href="#pls" transform="translate(145.8,269.5) scale(1.0)"/>
<use href="#pls" transform="translate(147.0,271.2) scale(1.0)"/>
<use href="#pls" transform="translate(148.3,273.0) scale(1.0)"/>
<use href="#pls" transform="translate(149.6,274.9) scale(1.0)"/>
<use href="#pls" transform="translate(151.0,276.9) scale(1.0)"/>
<use href="#pls" transform="translate(152.4,279.1) scale(1.0)"/>
<use href="#pls" transform="translate(153.8,281.4) scale(1.0)"/>
<use href="#pls" transform="translate(155.3,283.8) scale(1.0)"/>
<use href="#pls" transform="translate(156.9,286.5) scale(1.0)"/>
<use href="#pls" transform="translate(158.4,289.3) scale(1.0)"/>
<use href="#pls" transform="translate(160.0,292.2) scale(1.0)"/>
<use href="#pls" transform="translate(161.6,295.4) scale(1.0)"/>
<use href="#pls" transform="translate(163.2,298.7) scale(1.0)"/>
<use href="#pls" transform="translate(164.8,302.1) scale(1.0)"/>
<use href="#pls" transform="translate(166.4,305.8) scale(1.0)"/>
<use href="#pls" transform="translate(168.1,309.5) scale(1.0)"/>
<use href="#pls" transform="translate(169.7,313.5) scale(1.0)"/>
<use href="#pls" transform="translate(171.3,317.5) scale(1.0)"/>
<use href="#pls" transform="translate(173.0,321.7) scale(1.0)"/>
<use href="#pls" transform="translate(174.6,325.9) scale(1.0)"/>
<use href="#pls" transform="translate(176.3,330.3) scale(1.0)"/>
<use href="#pls" transform="translate(178.0,334.8) scale(1.0)"/>
<use href="#pls" transform="translate(179.7,339.2) scale(1.0)"/>
<use href="#pls" transform="translate(181.4,343.8) scale(1.0)"/>
<use href="#pls" transform="translate(183.1,348.3) scale(1.0)"/>
<use href="#pls" transform="translate(184.9,352.9) scale(1.0)"/>
<use href="#pls" transform="translate(186.7,357.4) scale(1.0)"/>
<use href="#pls" transform="translate(188.6,361.9) scale(1.0)"/>
<use href="#pls" transform="translate(190.5,366.4) scale(1.0)"/>
<use href="#pls" transform="translate(192.5,370.9) scale(1.0)"/>
<use href="#pls" transform="translate(194.6,375.2) scale(1.0)"/>
<use href="#pls" transform="translate(196.8,379.5) scale(1.0)"/>
<use href="#pls" transform="translate(199.0,383.8) scale(1.0)"/>
<use href="#pls" transform="translate(201.4,387.9) scale(1.0)"/>
<use href="#pls" transform="translate(203.8,392.0) scale(1.0)"/>
<use href="#pls" transform="translate(206.4,395.9) scale(1.0)"/>
<use href="#pls" transform="translate(209.0,399.8) scale(1.0)"/>
<use href="#pls" transform="translate(211.8,403.5) scale(1.0)"/>
<use href="#pls" transform="translate(214.7,407.2) scale(1.0)"/>
<use href="#pls" transform="translate(217.7,410.7) scale(1.0)"/>
<use href="#pls" transform="translate(220.8,414.1) scale(1.0)"/>
<use href="#pls" transform="translate(224.0,417.4) scale(1.0)"/>
<use href="#pls" transform="translate(227.4,420.5) scale(1.0)"/>
<use href="#pls" transform="translate(230.7,423.2) scale(1.0)"/>
<use href="#pls" transform="translate(234.1,425.7) scale(1.0)"/>
<use href="#pls" transform="translate(237.4,428.0) scale(1.0)"/>
<use href="#pls" transform="translate(240.8,430.0) scale(1.0)"/>
<use href="#pls" transform="translate(244.1,431.7) scale(1.0)"/>
<use href="#pls" transform="translate(247.4,433.2) scale(1.0)"/>
<use href="#pls" transform="translate(250.8,434.5) scale(1.0)"/>
<use href="#pls" transform="translate(254.1,435.5) scale(1.0)"/>
<use href="#pls" transform="translate(257.5,436.3) scale(1.0)"/>
<use href="#pls" transform="translate(260.8,436.9) scale(1.0)"/>
<use href="#pls" transform="translate(264.1,437.3) scale(1.0)"/>
<use href="#pls" transform="translate(267.5,437.5) scale(1.0)"/>
<use href="#pls" transform="translate(270.8,437.6) scale(1.0)"/>
<use href="#pls" transform="translate(274.2,437.5) scale(1.0)"/>
<use href="#pls" transform="translate(277.4,437.3) scale(1.0)"/>
<use href="#pls" transform="translate(280.6,436.9) scale(1.0)"/>
<use href="#pls" transform="translate(283.8,436.4) scale(1.0)"/>
<use href="#pls" transform="translate(287.0,435.8) scale(1.0)"/>
<use href="#pls" transform="translate(290.1,435.1) scale(1.0)"/>
<use href="#pls" transform="translate(293.2,434.4) scale(1.0)"/>
<use href="#pls" transform="translate(296.2,433.5) scale(1.0)"/>
<use href="#pls" transform="translate(299.2,432.5) scale(1.0)"/>
<use href="#pls" transform="translate(302.1,431.4) scale(1.0)"/>
<use href="#pls" transform="translate(305.0,430.2) scale(1.0)"/>
<use href="#pls" transform="translate(312.5,426.7) scale(1.0)"/>
<use href="#pls" transform="translate(320.0,422.4) scale(1.0)"/>
<use href="#pls" transform="translate(327.5,417.2) scale(1.0)"/>
<use href="#pls" transform="translate(335.0,411.2) scale(1.0)"/>
<use href="#pls" transform="translate(343.6,403.0) scale(1.0)"/>
<use href="#pls" transform="translate(352.1,393.4) scale(1.0)"/>
<use href="#pls" transform="translate(360.7,382.2) scale(1.0)"/>
<use href="#pls" transform="translate(369.2,369.5) scale(1.0)"/>
<use href="#pls" transform="translate(377.8,355.0) scale(1.0)"/>
<use href="#pls" transform="translate(386.4,338.9) scale(1.0)"/>
<use href="#pls" transform="translate(394.9,321.1) scale(1.0)"/>
<use href="#pls" transform="translate(403.5,301.8) scale(1.0)"/>
<use href="#pls" transform="translate(412.1,281.6) scale(1.0)"/>
<use href="#pls" transform="translate(420.6,261.3) scale(1.0)"/>
<use href="#pls" transform="translate(429.2,241.6) scale(1.0)"/>
<use href="#pls" transform="translate(437.8,223.3) scale(1.0)"/>
<use href="#pls" transform="translate(446.3,206.7) scale(1.0)"/>
<use href="#pls" transform="translate(454.9,191.9) scale(1.0)"/>
<use href="#pls" transform="translate(463.4,178.8) scale(1.0)"/>
<use href="#pls" transform="translate(472.0,167.1) scale(1.0)"/>
<use href="#pls" transform="translate(477.2,160.7) scale(1.0)"/>
<use href="#pls" transform="translate(482.5,154.7) scale(1.0)"/>
<use href="#pls" transform="translate(487.8,149.2) scale(1.0)"/>
<use href="#pls" transform="translate(493.0,144.0) scale(1.0)"/>
<use href="#pls" transform="translate(498.2,139.2) scale(1.0)"/>
<use href="#pls" transform="translate(503.5,134.8) scale(1.0)"/>
<use href="#pls" transform="translate(508.8,130.7) scale(1.0)"/>
<use href="#pls" transform="translate(514.0,127.0) scale(1.0)"/>
<use href="#pls" transform="translate(519.2,123.6) scale(1.0)"/>
<use href="#pls" transform="translate(524.5,120.5) scale(1.0)"/>
<use href="#pls" transform="translate(529.8,117.9) scale(1.0)"/>
<use href="#pls" transform="translate(535.0,115.6) scale(1.0)"/>
<use href="#pls" transform="translate(540.2,113.6) scale(1.0)"/>
<use href="#pls" transform="translate(545.5,112.1) scale(1.0)"/>
<use href="#pls" transform="translate(550.8,110.8) scale(1.0)"/>
<use href="#pls" transform="translate(556.0,109.9) scale(1.0)"/>
<use href="#pls" transform="translate(565.0,108.7) scale(1.0)"/>
<use href="#pls" transform="translate(574.0,108.1) scale(1.0)"/>
<use href="#pls" transform="translate(582.9,107.8) scale(1.0)"/>
<use href="#pls" transform="translate(591.9,107.8) scale(1.0)"/>
<use href="#pls" transform="translate(600.9,107.9) scale(1.0)"/>
<use href="#pls" transform="translate(609.9,108.0) scale(1.0)"/>
<use href="#pls" transform="translate(618.8,108.0) scale(1.0)"/>
<use href="#pls" transform="translate(627.8,108.1) scale(1.0)"/>
<use href="#pls" transform="translate(636.8,108.2) scale(1.0)"/>
<use href="#pls" transform="translate(645.8,108.2) scale(1.0)"/>
<use href="#pls" transform="translate(654.7,108.3) scale(1.0)"/>
<use href="#pls" transform="translate(663.7,108.3) scale(1.0)"/>
<use href="#pls" transform="translate(672.7,108.3) scale(1.0)"/>
<use href="#pls" transform="translate(681.6,108.4) scale(1.0)"/>
<use href="#pls" transform="translate(690.6,108.4) scale(1.0)"/>
<use href="#pls" transform="translate(699.6,108.4) scale(1.0)"/>
<use href="#pls" transform="translate(708.6,108.5) scale(1.0)"/>
<use href="#pls" transform="translate(717.5,108.5) scale(1.0)"/>
<use href="#pls" transform="translate(726.5,108.5) scale(1.0)"/>
<use href="#pls" transform="translate(735.5,108.5) scale(1.0)"/>
<use href="#pls" transform="translate(744.5,108.5) scale(1.0)"/>
<use href="#pls" transform="translate(753.5,108.6) scale(1.0)"/>
<use href="#pls" transform="translate(762.4,108.6) scale(1.0)"/>
<use href="#pls" transform="translate(771.4,108.6) scale(1.0)"/>
<use href="#pls" transform="translate(780.4,108.6) scale(1.0)"/>
<use href="#pls" transform="translate(789.4,108.7) scale(1.0)"/>
<use href="#pls" transform="translate(798.3,108.7) scale(1.0)"/>
<use href="#pls" transform="translate(807.3,108.7) scale(1.0)"/>
<use href="#pls" transform="translate(816.3,108.8) scale(1.0)"/>
<use href="#pls" transform="translate(825.2,108.8) scale(1.0)"/>
<use href="#pls" transform="translate(834.2,108.9) scale(1.0)"/>
<use href="#pls" transform="translate(843.2,108.9) scale(1.0)"/>
<use href="#pls" transform="translate(852.2,109.0) scale(1.0)"/>
<use href="#pls" transform="translate(861.1,109.1) scale(1.0)"/>
<use href="#pls" transform="translate(870.1,109.1) scale(1.0)"/>
<use href="#pls" transform="translate(879.1,109.2) scale(1.0)"/>
<use href="#pls" transform="translate(888.1,109.3) scale(1.0)"/>
<use href="#pls" transform="translate(897.0,109.4) scale(1.0)"/>
<use href="#pls" transform="translate(906.0,109.5) scale(1.0)"/>
<use href="#pls" transform="translate(915.0,109.7) scale(1.0)"/>
</g>
<path d="M105.5,219.3 L106.2,218.9 L106.8,218.5 L107.5,218.1 L108.2,217.7 L108.9,217.4 L109.5,217.0 L110.2,216.7 L110.9,216.4 L111.6,216.1 L112.2,215.8 L112.9,215.6 L113.6,215.3 L114.3,215.1 L114.9,214.9 L115.6,214.7 L116.3,214.5 L117.0,214.3 L117.6,214.2 L118.3,214.0 L119.0,213.9 L119.7,213.8 L120.3,213.7 L121.0,213.6 L121.7,213.5 L122.4,213.5 L123.0,213.5 L123.7,213.5 L124.4,213.4 L125.1,213.5 L125.7,213.5 L126.4,213.5 L127.1,213.6 L127.8,213.7 L128.4,213.8 L129.1,213.9 L129.8,214.0 L130.5,214.2 L131.1,214.3 L131.8,214.5 L132.5,214.7 L133.2,214.9 L133.8,215.1 L134.5,215.4 L135.2,215.6 L135.9,215.9 L136.5,216.2 L137.2,216.5 L137.9,216.8 L138.6,217.1 L139.2,217.5 L139.9,217.9 L140.6,218.3 L141.3,218.7 L141.9,219.1 L142.6,219.6 L143.3,220.0 L144.0,220.5 L144.6,221.0 L145.3,221.5 L146.0,222.0 L146.7,222.6 L147.3,223.2 L148.0,223.7 L148.7,224.4 L149.4,225.0 L150.0,225.6 L150.7,226.3 L151.4,227.0 L152.1,227.6 L152.7,228.4 L153.4,229.1 L154.1,229.8 L154.8,230.6 L155.4,231.4 L156.1,232.2 L156.8,233.0 L157.5,233.9 L158.1,234.7 L158.8,235.6 L159.5,236.5 L160.2,237.4 L160.8,238.4 L161.5,239.3 L162.2,240.3 L162.9,241.3 L163.5,242.3 L164.2,243.3 L164.9,244.4 L165.6,245.5 L166.2,246.5 L166.9,247.7 L167.6,248.8 L168.2,249.9 L168.9,251.1 L169.6,252.3 L170.3,253.4 L170.9,254.7 L171.6,255.9 L172.3,257.2 L173.0,258.4 L173.6,259.7 L174.3,261.0 L175.0,262.4 L175.7,263.7 L176.3,265.1 L177.0,266.5 L177.7,267.9 L178.4,269.4 L179.0,270.9 L179.7,272.3 L180.4,273.9 L181.1,275.4 L181.7,277.0 L182.4,278.6 L183.1,280.2 L183.8,281.8 L184.4,283.5 L185.1,285.2 L185.8,286.9 L186.5,288.7 L187.1,290.4 L187.8,292.2 L188.5,294.0 L189.2,295.9 L189.8,297.7 L190.5,299.6 L191.2,301.5 L191.9,303.5 L192.5,305.4 L193.2,307.4 L193.9,309.4 L194.6,311.4 L195.2,313.4 L195.9,315.4 L196.6,317.4 L197.3,319.5 L197.9,321.5 L198.6,323.6 L199.3,325.6 L200.0,327.7 L200.6,329.7 L201.3,331.8 L202.0,333.8 L202.7,335.9 L203.3,337.9 L204.0,339.9 L204.7,341.9 L205.4,343.9 L206.0,345.9 L206.7,347.8 L207.4,349.8 L208.1,351.7 L208.7,353.7 L209.4,355.6 L210.1,357.5 L210.8,359.4 L211.4,361.3 L212.1,363.2 L212.8,365.1 L213.5,366.9 L214.1,368.8 L214.8,370.6 L215.5,372.4 L216.2,374.3 L216.8,376.1 L217.5,377.9 L218.2,379.6 L218.9,381.4 L219.5,383.2 L220.2,384.9 L220.9,386.7 L221.6,388.4 L222.2,390.1 L222.9,391.8 L223.6,393.5 L224.3,395.2 L224.9,396.9 L225.6,398.5 L226.3,400.2 L227.0,401.8 L227.6,403.5 L228.3,405.1 L229.0,406.7 L229.7,408.3 L230.3,409.9 L231.0,411.5 L231.7,413.1 L232.3,414.7 L233.0,416.2 L233.7,417.8 L234.4,419.3 L235.0,420.8 L235.7,422.4 L236.4,423.9 L237.1,425.3 L237.7,426.8 L238.4,428.3 L239.1,429.7 L239.8,431.2 L240.4,432.6 L241.1,434.0 L241.8,435.4 L242.5,436.7 L243.1,438.1 L243.8,439.4 L244.5,440.8 L245.2,442.1 L245.8,443.4 L246.5,444.7 L247.2,445.9 L247.9,447.2 L248.5,448.4 L249.2,449.6 L249.9,450.8 L250.6,452.0 L251.2,453.2 L251.9,454.3 L252.6,455.4 L253.3,456.6 L253.9,457.7 L254.6,458.8 L255.3,459.8 L256.0,460.9 L256.6,461.9 L257.3,463.0 L258.0,464.0 L258.7,465.0 L259.3,466.0 L260.0,466.9 L260.7,467.9 L261.4,468.8 L262.0,469.8 L262.7,470.7 L263.4,471.6 L264.1,472.5 L264.7,473.4 L265.4,474.2 L266.1,475.1 L266.8,475.9 L267.4,476.8 L268.1,477.6 L268.8,478.4 L269.5,479.2 L270.1,479.9 L270.8,480.7 L271.5,481.5 L272.2,482.2 L272.8,482.9 L273.5,483.7 L274.2,484.4 L274.9,485.1 L275.5,485.8 L276.2,486.4 L276.9,487.1 L277.6,487.8 L278.2,488.4 L278.9,489.1 L279.6,489.7 L280.3,490.3 L280.9,490.9 L281.6,491.5 L282.3,492.1 L283.0,492.7 L283.6,493.3 L284.3,493.8 L285.0,494.4 L285.7,494.9 L286.3,495.5 L287.0,496.0 L287.7,496.5 L288.4,497.1 L289.0,497.6 L289.7,498.1 L290.4,498.6 L291.1,499.1 L291.7,499.6 L292.4,500.0 L293.1,500.5 L293.7,501.0 L294.4,501.4 L295.1,501.9 L295.8,502.3 L296.4,502.8 L297.1,503.2 L297.8,503.6 L298.5,504.1 L299.1,504.5 L299.8,504.9 L300.5,505.3 L301.2,505.7 L301.8,506.1 L302.5,506.5 L303.2,506.9 L303.9,507.2 L304.5,507.6 L305.2,508.0 L305.9,508.4 L306.6,508.7 L307.2,509.1 L307.9,509.4 L308.6,509.8 L309.3,510.1 L309.9,510.4 L310.6,510.8 L311.3,511.1 L312.0,511.4 L312.6,511.7 L313.3,512.0 L314.0,512.3 L314.7,512.6 L315.3,512.9 L316.0,513.2 L316.7,513.5 L317.4,513.8 L318.0,514.1 L318.7,514.4 L319.4,514.6 L320.1,514.9 L320.7,515.2 L321.4,515.4 L322.1,515.7 L322.8,515.9 L323.4,516.2 L324.1,516.4 L324.8,516.7 L325.5,516.9 L326.1,517.1 L326.8,517.3 L327.5,517.6 L328.2,517.8 L328.8,518.0 L329.5,518.2 L330.2,518.4 L330.9,518.6 L331.5,518.8 L332.2,519.0 L332.9,519.2 L333.6,519.4 L334.2,519.6 L334.9,519.8 L335.6,519.9 L336.3,520.1 L336.9,520.3 L337.6,520.4 L338.3,520.6 L339.0,520.8 L339.6,520.9 L340.3,521.1 L341.0,521.2 L341.7,521.4 L342.3,521.5 L343.0,521.6 L343.7,521.8 L344.4,521.9 L345.0,522.0 L345.7,522.2 L346.4,522.3 L347.1,522.4 L347.7,522.5 L348.4,522.6 L349.1,522.8 L349.8,522.9 L350.4,523.0 L351.1,523.1 L351.8,523.2 L352.5,523.3 L353.1,523.4 L353.8,523.5 L354.5,523.5 L355.1,523.6 L355.8,523.7 L356.5,523.8 L357.2,523.9 L357.8,524.0 L358.5,524.0 L359.2,524.1 L359.9,524.2 L360.5,524.2 L361.2,524.3 L361.9,524.4 L362.6,524.4 L363.2,524.5 L363.9,524.6 L364.6,524.6 L365.3,524.7 L365.9,524.7 L366.6,524.8 L367.3,524.8 L368.0,524.9 L368.6,524.9 L369.3,525.0 L370.0,525.0 L370.7,525.1 L371.3,525.1 L372.0,525.2 L372.7,525.2 L373.4,525.2 L374.0,525.3 L374.7,525.3 L375.4,525.3 L376.1,525.4 L376.7,525.4 L377.4,525.4 L378.1,525.5 L378.8,525.5 L379.4,525.5 L380.1,525.5 L380.8,525.6 L381.5,525.6 L382.1,525.6 L382.8,525.6 L383.5,525.7 L384.2,525.7 L384.8,525.7 L385.5,525.7 L386.2,525.8 L386.9,525.8 L387.5,525.8 L388.2,525.8 L388.9,525.8 L389.6,525.9 L390.2,525.9 L390.9,525.9 L391.6,525.9 L392.3,525.9 L392.9,525.9 L393.6,526.0 L394.3,526.0 L395.0,526.0 L395.6,526.0 L396.3,526.0 L397.0,526.0 L397.7,526.0 L398.3,526.1 L399.0,526.1 L399.7,526.1 L400.4,526.1 L401.0,526.1 L401.7,526.1 L402.4,526.2 L403.1,526.2 L403.7,526.2 L404.4,526.2 L405.1,526.2 L405.8,526.2 L406.4,526.2 L407.1,526.3 L407.8,526.3 L408.5,526.3 L409.1,526.3 L409.8,526.3 L410.5,526.3 L411.2,526.3 L411.8,526.4 L412.5,526.4 L413.2,526.4 L413.9,526.4 L414.5,526.4 L415.2,526.4 L415.9,526.4 L416.6,526.4 L417.2,526.5 L417.9,526.5 L418.6,526.5 L419.2,526.5 L419.9,526.5 L420.6,526.5 L421.3,526.5 L421.9,526.5 L422.6,526.6 L423.3,526.6 L424.0,526.6 L424.6,526.6 L425.3,526.6 L426.0,526.6 L426.7,526.6 L427.3,526.6 L428.0,526.7 L428.7,526.7 L429.4,526.7 L430.0,526.7 L430.7,526.7 L431.4,526.7 L432.1,526.7 L432.7,526.7 L433.4,526.7 L434.1,526.8 L434.8,526.8 L435.4,526.8 L436.1,526.8 L436.8,526.8 L437.5,526.8 L438.1,526.8 L438.8,526.8 L439.5,526.8 L440.2,526.9 L440.8,526.9 L441.5,526.9 L442.2,526.9 L442.9,526.9 L443.5,526.9 L444.2,526.9 L444.9,526.9 L445.6,526.9 L446.2,526.9 L446.9,527.0 L447.6,527.0 L448.3,527.0 L448.9,527.0 L449.6,527.0 L450.3,527.0 L451.0,527.0 L451.6,527.0 L452.3,527.0 L453.0,527.0 L453.7,527.0 L454.3,527.1 L455.0,527.1 L455.7,527.1 L456.4,527.1 L457.0,527.1 L457.7,527.1 L458.4,527.1 L459.1,527.1 L459.7,527.1 L460.4,527.1 L461.1,527.2 L461.8,527.2 L462.4,527.2 L463.1,527.2 L463.8,527.2 L464.5,527.2 L465.1,527.2 L465.8,527.2 L466.5,527.2 L467.2,527.2 L467.8,527.2 L468.5,527.2 L469.2,527.3 L469.9,527.3 L470.5,527.3 L471.2,527.3 L471.9,527.3 L472.6,527.3 L473.2,527.3 L473.9,527.3 L474.6,527.3 L475.3,527.3 L475.9,527.3 L476.6,527.3 L477.3,527.4 L478.0,527.4 L478.6,527.4 L479.3,527.4 L480.0,527.4 L480.6,527.4 L481.3,527.4 L482.0,527.4 L482.7,527.4 L483.3,527.4 L484.0,527.4 L484.7,527.4 L485.4,527.5 L486.0,527.5 L486.7,527.5 L487.4,527.5 L488.1,527.5 L488.7,527.5 L489.4,527.5 L490.1,527.5 L490.8,527.5 L491.4,527.5 L492.1,527.5 L492.8,527.5 L493.5,527.5 L494.1,527.6 L494.8,527.6 L495.5,527.6 L496.2,527.6 L496.8,527.6 L497.5,527.6 L498.2,527.6 L498.9,527.6 L499.5,527.6 L500.2,527.6 L500.9,527.6 L501.6,527.6 L502.2,527.6 L502.9,527.7 L503.6,527.7 L504.3,527.7 L504.9,527.7 L505.6,527.7 L506.3,527.7 L507.0,527.7 L507.6,527.7 L508.3,527.7 L509.0,527.7 L509.7,527.7 L510.3,527.7 L511.0,527.7 L511.7,527.8 L512.4,527.8 L513.0,527.8 L513.7,527.8 L514.4,527.8 L515.1,527.8 L515.7,527.8 L516.4,527.8 L517.1,527.8 L517.8,527.8 L518.4,527.8 L519.1,527.8 L519.8,527.8 L520.5,527.9 L521.1,527.9 L521.8,527.9 L522.5,527.9 L523.2,527.9 L523.8,527.9 L524.5,527.9 L525.2,527.9 L525.9,527.9 L526.5,527.9 L527.2,527.9 L527.9,527.9 L528.6,527.9 L529.2,528.0 L529.9,528.0 L530.6,528.0 L531.3,528.0 L531.9,528.0 L532.6,528.0 L533.3,528.0 L534.0,528.0 L534.6,528.0 L535.3,528.0 L536.0,528.0 L536.7,528.0 L537.3,528.1 L538.0,528.1 L538.7,528.1 L539.4,528.1 L540.0,528.1 L540.7,528.1 L541.4,528.1 L542.0,528.1 L542.7,528.1 L543.4,528.1 L544.1,528.1 L544.7,528.1 L545.4,528.2 L546.1,528.2 L546.8,528.2 L547.4,528.2 L548.1,528.2 L548.8,528.2 L549.5,528.2 L550.1,528.2 L550.8,528.2 L551.5,528.2 L552.2,528.2 L552.8,528.3 L553.5,528.3 L554.2,528.3 L554.9,528.3 L555.5,528.3 L556.2,528.3 L556.9,528.3 L557.6,528.3 L558.2,528.3 L558.9,528.3 L559.6,528.3 L560.3,528.4 L560.9,528.4 L561.6,528.4 L562.3,528.4 L563.0,528.4 L563.6,528.4 L564.3,528.4 L565.0,528.4 L565.7,528.4 L566.3,528.4 L567.0,528.5 L567.7,528.5 L568.4,528.5 L569.0,528.5 L569.7,528.5 L570.4,528.5 L571.1,528.5 L571.7,528.5 L572.4,528.5 L573.1,528.6 L573.8,528.6 L574.4,528.6 L575.1,528.6 L575.8,528.6 L576.5,528.6 L577.1,528.6 L577.8,528.6 L578.5,528.6 L579.2,528.6 L579.8,528.7 L580.5,528.7 L581.2,528.7 L581.9,528.7 L582.5,528.7 L583.2,528.7 L583.9,528.7 L584.6,528.7 L585.2,528.8 L585.9,528.8 L586.6,528.8 L587.3,528.8 L587.9,528.8 L588.6,528.8 L589.3,528.8 L590.0,528.8 L590.6,528.9 L591.3,528.9 L592.0,528.9 L592.7,528.9 L593.3,528.9 L594.0,528.9 L594.7,528.9 L595.4,528.9 L596.0,529.0 L596.7,529.0 L597.4,529.0 L598.1,529.0 L598.7,529.0 L599.4,529.0 L600.1,529.0 L600.8,529.0 L601.4,529.1 L602.1,529.1 L602.8,529.1 L603.4,529.1 L604.1,529.1 L604.8,529.1 L605.5,529.1 L606.1,529.2 L606.8,529.2 L607.5,529.2 L608.2,529.2 L608.8,529.2 L609.5,529.2 L610.2,529.2 L610.9,529.3 L611.5,529.3 L612.2,529.3 L612.9,529.3 L613.6,529.3 L614.2,529.3 L614.9,529.4 L615.6,529.4 L616.3,529.4 L616.9,529.4 L617.6,529.4 L618.3,529.4 L619.0,529.4 L619.6,529.5 L620.3,529.5 L621.0,529.5 L621.7,529.5 L622.3,529.5 L623.0,529.5 L623.7,529.6 L624.4,529.6 L625.0,529.6 L625.7,529.6 L626.4,529.6 L627.1,529.6 L627.7,529.7 L628.4,529.7 L629.1,529.7 L629.8,529.7 L630.4,529.7 L631.1,529.7 L631.8,529.8 L632.5,529.8 L633.1,529.8 L633.8,529.8 L634.5,529.8 L635.2,529.8 L635.8,529.9 L636.5,529.9 L637.2,529.9 L637.9,529.9 L638.5,529.9 L639.2,529.9 L639.9,530.0 L640.6,530.0 L641.2,530.0 L641.9,530.0 L642.6,530.0 L643.3,530.1 L643.9,530.1 L644.6,530.1 L645.3,530.1 L646.0,530.1 L646.6,530.1 L647.3,530.2 L648.0,530.2 L648.7,530.2 L649.3,530.2 L650.0,530.2 L650.7,530.3 L651.4,530.3 L652.0,530.3 L652.7,530.3 L653.4,530.3 L654.1,530.3 L654.7,530.4 L655.4,530.4 L656.1,530.4 L656.8,530.4 L657.4,530.4 L658.1,530.5 L658.8,530.5 L659.5,530.5 L660.1,530.5 L660.8,530.5 L661.5,530.5 L662.2,530.6 L662.8,530.6 L663.5,530.6 L664.2,530.6 L664.9,530.6 L665.5,530.7 L666.2,530.7 L666.9,530.7 L667.5,530.7 L668.2,530.7 L668.9,530.7 L669.6,530.8 L670.2,530.8 L670.9,530.8 L671.6,530.8 L672.3,530.8 L672.9,530.9 L673.6,530.9 L674.3,530.9 L675.0,530.9 L675.6,530.9 L676.3,531.0 L677.0,531.0 L677.7,531.0 L678.3,531.0 L679.0,531.0 L679.7,531.1 L680.4,531.1 L681.0,531.1 L681.7,531.1 L682.4,531.1 L683.1,531.1 L683.7,531.2 L684.4,531.2 L685.1,531.2 L685.8,531.2 L686.4,531.2 L687.1,531.3 L687.8,531.3 L688.5,531.3 L689.1,531.3 L689.8,531.3 L690.5,531.4 L691.2,531.4 L691.8,531.4 L692.5,531.4 L693.2,531.4 L693.9,531.4 L694.5,531.5 L695.2,531.5 L695.9,531.5 L696.6,531.5 L697.2,531.5 L697.9,531.6 L698.6,531.6 L699.3,531.6 L699.9,531.6 L700.6,531.6 L701.3,531.7 L702.0,531.7 L702.6,531.7 L703.3,531.7 L704.0,531.7 L704.7,531.7 L705.3,531.8 L706.0,531.8 L706.7,531.8 L707.4,531.8 L708.0,531.8 L708.7,531.9 L709.4,531.9 L710.1,531.9 L710.7,531.9 L711.4,531.9 L712.1,532.0 L712.8,532.0 L713.4,532.0 L714.1,532.0 L714.8,532.0 L715.5,532.0 L716.1,532.1 L716.8,532.1 L717.5,532.1 L718.2,532.1 L718.8,532.1 L719.5,532.2 L720.2,532.2 L720.9,532.2 L721.5,532.2 L722.2,532.2 L722.9,532.2 L723.6,532.3 L724.2,532.3 L724.9,532.3 L725.6,532.3 L726.3,532.3 L726.9,532.3 L727.6,532.4 L728.3,532.4 L728.9,532.4 L729.6,532.4 L730.3,532.4 L731.0,532.5 L731.6,532.5 L732.3,532.5 L733.0,532.5 L733.7,532.5 L734.3,532.5 L735.0,532.6 L735.7,532.6 L736.4,532.6 L737.0,532.6 L737.7,532.6 L738.4,532.6 L739.1,532.7 L739.7,532.7 L740.4,532.7 L741.1,532.7 L741.8,532.7 L742.4,532.7 L743.1,532.8 L743.8,532.8 L744.5,532.8 L745.1,532.8 L745.8,532.8 L746.5,532.8 L747.2,532.9 L747.8,532.9 L748.5,532.9 L749.2,532.9 L749.9,532.9 L750.5,532.9 L751.2,532.9 L751.9,533.0 L752.6,533.0 L753.2,533.0 L753.9,533.0 L754.6,533.0 L755.3,533.0 L755.9,533.1 L756.6,533.1 L757.3,533.1 L758.0,533.1 L758.6,533.1 L759.3,533.1 L760.0,533.1 L760.7,533.2 L761.3,533.2 L762.0,533.2 L762.7,533.2 L763.4,533.2 L764.0,533.2 L764.7,533.2 L765.4,533.3 L766.1,533.3 L766.7,533.3 L767.4,533.3 L768.1,533.3 L768.8,533.3 L769.4,533.3 L770.1,533.4 L770.8,533.4 L771.5,533.4 L772.1,533.4 L772.8,533.4 L773.5,533.4 L774.2,533.4 L774.8,533.4 L775.5,533.5 L776.2,533.5 L776.9,533.5 L777.5,533.5 L778.2,533.5 L778.9,533.5 L779.6,533.5 L780.2,533.5 L780.9,533.6 L781.6,533.6 L782.3,533.6 L782.9,533.6 L783.6,533.6 L784.3,533.6 L785.0,533.6 L785.6,533.6 L786.3,533.6 L787.0,533.7 L787.7,533.7 L788.3,533.7 L789.0,533.7 L789.7,533.7 L790.3,533.7 L791.0,533.7 L791.7,533.7 L792.4,533.7 L793.0,533.7 L793.7,533.8 L794.4,533.8 L795.1,533.8 L795.7,533.8 L796.4,533.8 L797.1,533.8 L797.8,533.8 L798.4,533.8 L799.1,533.8 L799.8,533.8 L800.5,533.9 L801.1,533.9 L801.8,533.9 L802.5,533.9 L803.2,533.9 L803.8,533.9 L804.5,533.9 L805.2,533.9 L805.9,533.9 L806.5,533.9 L807.2,533.9 L807.9,533.9 L808.6,533.9 L809.2,534.0 L809.9,534.0 L810.6,534.0 L811.3,534.0 L811.9,534.0 L812.6,534.0 L813.3,534.0 L814.0,534.0 L814.6,534.0 L815.3,534.0 L816.0,534.0 L816.7,534.0 L817.3,534.0 L818.0,534.0 L818.7,534.0 L819.4,534.0 L820.0,534.1 L820.7,534.1 L821.4,534.1 L822.1,534.1 L822.7,534.1 L823.4,534.1 L824.1,534.1 L824.8,534.1 L825.4,534.1 L826.1,534.1 L826.8,534.1 L827.5,534.1 L828.1,534.1 L828.8,534.1 L829.5,534.1 L830.2,534.1 L830.8,534.1 L831.5,534.1 L832.2,534.1 L832.9,534.1 L833.5,534.1 L834.2,534.1 L834.9,534.1 L835.6,534.1 L836.2,534.1 L836.9,534.1 L837.6,534.1 L838.3,534.1 L838.9,534.1 L839.6,534.1 L840.3,534.1 L841.0,534.1 L841.6,534.1 L842.3,534.1 L843.0,534.1 L843.7,534.1 L844.3,534.1 L845.0,534.1 L845.7,534.1 L846.4,534.1 L847.0,534.1 L847.7,534.1 L848.4,534.1 L849.1,534.1 L849.7,534.1 L850.4,534.1 L851.1,534.1 L851.8,534.1 L852.4,534.1 L853.1,534.1 L853.8,534.1 L854.4,534.1 L855.1,534.1 L855.8,534.1 L856.5,534.1 L857.1,534.1 L857.8,534.1 L858.5,534.1 L859.2,534.1 L859.8,534.1 L860.5,534.1 L861.2,534.1 L861.9,534.1 L862.5,534.1 L863.2,534.1 L863.9,534.0 L864.6,534.0 L865.2,534.0 L865.9,534.0 L866.6,534.0 L867.3,534.0 L867.9,534.0 L868.6,534.0 L869.3,534.0 L870.0,534.0 L870.6,534.0 L871.3,534.0 L872.0,534.0 L872.7,534.0 L873.3,534.0 L874.0,533.9 L874.7,533.9 L875.4,533.9 L876.0,533.9 L876.7,533.9 L877.4,533.9 L878.1,533.9 L878.7,533.9 L879.4,533.9 L880.1,533.9 L880.8,533.9 L881.4,533.8 L882.1,533.8 L882.8,533.8 L883.5,533.8 L884.1,533.8 L884.8,533.8 L885.5,533.8 L886.2,533.8 L886.8,533.7 L887.5,533.7 L888.2,533.7 L888.9,533.7 L889.5,533.7 L890.2,533.7 L890.9,533.7 L891.6,533.7 L892.2,533.6 L892.9,533.6 L893.6,533.6 L894.3,533.6 L894.9,533.6 L895.6,533.6 L896.3,533.6 L897.0,533.5 L897.6,533.5 L898.3,533.5 L899.0,533.5 L899.7,533.5 L900.3,533.5 L901.0,533.4 L901.7,533.4 L902.4,533.4 L903.0,533.4 L903.7,533.4 L904.4,533.4 L905.1,533.3 L905.7,533.3 L906.4,533.3 L907.1,533.3 L907.8,533.3 L908.4,533.3 L909.1,533.2 L909.8,533.2 L910.5,533.2 L911.1,533.2 L911.8,533.2 L912.5,533.1 L913.2,533.1 L913.8,533.1 L914.5,533.1" fill="none" stroke="#77AC30" stroke-width="6.50" stroke-dasharray="28.780 28.780" stroke-dashoffset="5.36"/>
<text x="93.0" y="550.6" class="tl" style="font-size:35.50px" text-anchor="end">0</text>
<text x="93.0" y="445.5" class="tl" style="font-size:35.50px" text-anchor="end">0.2</text>
<text x="93.0" y="340.4" class="tl" style="font-size:35.50px" text-anchor="end">0.4</text>
<text x="93.0" y="235.3" class="tl" style="font-size:35.50px" text-anchor="end">0.6</text>
<text x="93.0" y="130.2" class="tl" style="font-size:35.50px" text-anchor="end">0.8</text>
<text x="105.5" y="582.7" class="tl" style="font-size:35.50px" text-anchor="middle">0</text>
<text x="375.5" y="582.7" class="tl" style="font-size:35.50px" text-anchor="middle">5</text>
<text x="645.5" y="582.7" class="tl" style="font-size:35.50px" text-anchor="middle">10</text>
<text x="915.5" y="582.7" class="tl" style="font-size:35.50px" text-anchor="middle">15</text>
<rect x="107.5" y="637.6" width="811.7" height="551.6" fill="none" stroke="#262626" stroke-width="4.6"/>
<path d="M107.5,1188.5h10.5M919.2,1188.5h-10.5M107.5,1078.5h10.5M919.2,1078.5h-10.5M107.5,968.5h10.5M919.2,968.5h-10.5M107.5,858.5h10.5M919.2,858.5h-10.5M107.5,748.5h10.5M919.2,748.5h-10.5M107.5,638.5h10.5M919.2,638.5h-10.5M107.5,1189.2v-10.5M107.5,637.6v10.5M378.1,1189.2v-10.5M378.1,637.6v10.5M648.6,1189.2v-10.5M648.6,637.6v10.5M919.1,1189.2v-10.5M919.1,637.6v10.5" stroke="#262626" stroke-width="4.4" fill="none"/>
<path d="M107.5,913.5 L108.4,926.3 L109.3,939.1 L110.2,951.8 L111.1,964.3 L112.0,976.6 L112.9,988.6 L113.8,1000.4 L114.7,1011.8 L115.6,1022.8 L116.5,1033.4 L117.4,1043.6 L118.3,1053.3 L119.2,1062.6 L120.1,1071.5 L121.0,1079.8 L121.9,1087.8 L122.8,1095.2 L123.8,1102.2 L124.7,1108.8 L125.6,1115.0 L126.5,1120.7 L127.4,1126.1 L128.3,1131.1 L129.2,1135.7 L130.1,1140.0 L131.0,1144.0 L131.9,1147.7 L132.8,1151.1 L133.7,1154.2 L134.6,1157.1 L135.5,1159.7 L136.4,1162.2 L137.3,1164.4 L138.2,1166.5 L139.1,1168.4 L140.0,1170.1 L140.9,1171.7 L141.8,1173.2 L142.7,1174.5 L143.6,1175.7 L144.5,1176.8 L145.4,1177.8 L146.3,1178.8 L147.2,1179.6 L148.1,1180.4 L149.0,1181.1 L149.9,1181.8 L150.8,1182.4 L151.7,1182.9 L152.6,1183.4 L153.5,1183.9 L154.5,1184.3 L155.4,1184.6 L156.3,1185.0 L157.2,1185.3 L158.1,1185.6 L159.0,1185.8 L159.9,1186.1 L160.8,1186.3 L161.7,1186.5 L162.6,1186.7 L163.5,1186.8 L164.4,1187.0 L165.3,1187.1 L166.2,1187.2 L167.1,1187.3 L168.0,1187.5 L168.9,1187.5 L169.8,1187.6 L170.7,1187.7 L171.6,1187.8 L172.5,1187.8 L173.4,1187.9 L174.3,1188.0 L175.2,1188.0 L176.1,1188.0 L177.0,1188.1 L177.9,1188.1 L178.8,1188.2 L179.7,1188.2 L180.6,1188.2 L181.5,1188.2 L182.4,1188.3 L183.3,1188.3 L184.2,1188.3 L185.1,1188.3 L186.1,1188.3 L187.0,1188.4 L187.9,1188.4 L188.8,1188.4 L189.7,1188.4 L190.6,1188.4 L191.5,1188.4 L192.4,1188.4 L193.3,1188.4 L194.2,1188.4 L195.1,1188.4 L196.0,1188.4 L196.9,1188.4 L197.8,1188.5 L198.7,1188.5 L199.6,1188.5 L200.5,1188.5 L201.4,1188.5 L202.3,1188.5 L203.2,1188.5 L204.1,1188.5 L205.0,1188.5 L205.9,1188.5 L206.8,1188.5 L207.7,1188.5 L208.6,1188.5 L209.5,1188.5 L210.4,1188.5 L211.3,1188.5 L212.2,1188.5 L213.1,1188.5 L214.0,1188.5 L214.9,1188.5 L215.8,1188.5 L216.7,1188.5 L217.7,1188.5 L218.6,1188.5 L219.5,1188.5 L220.4,1188.5 L221.3,1188.5 L222.2,1188.5 L223.1,1188.5 L224.0,1188.5 L224.9,1188.5 L225.8,1188.5 L226.7,1188.5 L227.6,1188.5 L228.5,1188.5 L229.4,1188.5 L230.3,1188.5 L231.2,1188.5 L232.1,1188.5 L233.0,1188.5 L233.9,1188.5 L234.8,1188.5 L235.7,1188.5 L236.6,1188.5 L237.5,1188.5 L238.4,1188.5 L239.3,1188.5 L240.2,1188.5 L241.1,1188.5 L242.0,1188.5 L242.9,1188.5 L243.8,1188.5 L244.7,1188.5 L245.6,1188.5 L246.5,1188.5 L247.4,1188.5 L248.4,1188.5 L249.3,1188.5 L250.2,1188.5 L251.1,1188.5 L252.0,1188.5 L252.9,1188.5 L253.8,1188.5 L254.7,1188.5 L255.6,1188.5 L256.5,1188.5 L257.4,1188.5 L258.3,1188.5 L259.2,1188.5 L260.1,1188.5 L261.0,1188.5 L261.9,1188.5 L262.8,1188.5 L263.7,1188.5 L264.6,1188.5 L265.5,1188.5 L266.4,1188.5 L267.3,1188.5 L268.2,1188.5 L269.1,1188.5 L270.0,1188.5 L270.9,1188.5 L271.8,1188.5 L272.7,1188.5 L273.6,1188.5 L274.5,1188.5 L275.4,1188.5 L276.3,1188.5 L277.2,1188.5 L278.1,1188.5 L279.0,1188.5 L280.0,1188.5 L280.9,1188.5 L281.8,1188.5 L282.7,1188.5 L283.6,1188.5 L284.5,1188.5 L285.4,1188.5 L286.3,1188.5 L287.2,1188.5 L288.1,1188.5 L289.0,1188.5 L289.9,1188.5 L290.8,1188.5 L291.7,1188.5 L292.6,1188.5 L293.5,1188.5 L294.4,1188.5 L295.3,1188.5 L296.2,1188.5 L297.1,1188.5 L298.0,1188.5 L298.9,1188.5 L299.8,1188.5 L300.7,1188.5 L301.6,1188.5 L302.5,1188.5 L303.4,1188.5 L304.3,1188.5 L305.2,1188.5 L306.1,1188.5 L307.0,1188.5 L307.9,1188.5 L308.8,1188.5 L309.7,1188.5 L310.7,1188.5 L311.6,1188.5 L312.5,1188.5 L313.4,1188.5 L314.3,1188.5 L315.2,1188.5 L316.1,1188.5 L317.0,1188.5 L317.9,1188.5 L318.8,1188.5 L319.7,1188.5 L320.6,1188.5 L321.5,1188.5 L322.4,1188.5 L323.3,1188.5 L324.2,1188.5 L325.1,1188.5 L326.0,1188.5 L326.9,1188.5 L327.8,1188.5 L328.7,1188.5 L329.6,1188.5 L330.5,1188.5 L331.4,1188.5 L332.3,1188.5 L333.2,1188.5 L334.1,1188.5 L335.0,1188.5 L335.9,1188.5 L336.8,1188.5 L337.7,1188.5 L338.6,1188.5 L339.5,1188.5 L340.4,1188.5 L341.3,1188.5 L342.3,1188.5 L343.2,1188.5 L344.1,1188.5 L345.0,1188.5 L345.9,1188.5 L346.8,1188.5 L347.7,1188.5 L348.6,1188.5 L349.5,1188.5 L350.4,1188.5 L351.3,1188.5 L352.2,1188.5 L353.1,1188.5 L354.0,1188.5 L354.9,1188.5 L355.8,1188.5 L356.7,1188.5 L357.6,1188.5 L358.5,1188.5 L359.4,1188.5 L360.3,1188.5 L361.2,1188.5 L362.1,1188.5 L363.0,1188.5 L363.9,1188.5 L364.8,1188.5 L365.7,1188.5 L366.6,1188.5 L367.5,1188.5 L368.4,1188.5 L369.3,1188.5 L370.2,1188.5 L371.1,1188.5 L372.0,1188.5 L373.0,1188.5 L373.9,1188.5 L374.8,1188.5 L375.7,1188.5 L376.6,1188.5 L377.5,1188.5 L378.4,1188.5 L379.3,1188.5 L380.2,1188.5 L381.1,1188.5 L382.0,1188.5 L382.9,1188.5 L383.8,1188.5 L384.7,1188.5 L385.6,1188.5 L386.5,1188.5 L387.4,1188.5 L388.3,1188.5 L389.2,1188.5 L390.1,1188.5 L391.0,1188.5 L391.9,1188.5 L392.8,1188.5 L393.7,1188.5 L394.6,1188.5 L395.5,1188.5 L396.4,1188.5 L397.3,1188.5 L398.2,1188.5 L399.1,1188.5 L400.0,1188.5 L400.9,1188.5 L401.8,1188.5 L402.7,1188.5 L403.6,1188.5 L404.6,1188.5 L405.5,1188.5 L406.4,1188.5 L407.3,1188.5 L408.2,1188.5 L409.1,1188.5 L410.0,1188.5 L410.9,1188.5 L411.8,1188.5 L412.7,1188.5 L413.6,1188.5 L414.5,1188.5 L415.4,1188.5 L416.3,1188.5 L417.2,1188.5 L418.1,1188.5 L419.0,1188.5 L419.9,1188.5 L420.8,1188.5 L421.7,1188.5 L422.6,1188.5 L423.5,1188.5 L424.4,1188.5 L425.3,1188.5 L426.2,1188.5 L427.1,1188.5 L428.0,1188.5 L428.9,1188.5 L429.8,1188.5 L430.7,1188.5 L431.6,1188.5 L432.5,1188.5 L433.4,1188.5 L434.3,1188.5 L435.2,1188.5 L436.2,1188.5 L437.1,1188.5 L438.0,1188.5 L438.9,1188.5 L439.8,1188.5 L440.7,1188.5 L441.6,1188.5 L442.5,1188.5 L443.4,1188.5 L444.3,1188.5 L445.2,1188.5 L446.1,1188.5 L447.0,1188.5 L447.9,1188.5 L448.8,1188.5 L449.7,1188.5 L450.6,1188.5 L451.5,1188.5 L452.4,1188.5 L453.3,1188.5 L454.2,1188.5 L455.1,1188.5 L456.0,1188.5 L456.9,1188.5 L457.8,1188.5 L458.7,1188.5 L459.6,1188.5 L460.5,1188.5 L461.4,1188.5 L462.3,1188.5 L463.2,1188.5 L464.1,1188.5 L465.0,1188.5 L465.9,1188.5 L466.9,1188.5 L467.8,1188.5 L468.7,1188.5 L469.6,1188.5 L470.5,1188.5 L471.4,1188.5 L472.3,1188.5 L473.2,1188.5 L474.1,1188.5 L475.0,1188.5 L475.9,1188.5 L476.8,1188.5 L477.7,1188.5 L478.6,1188.5 L479.5,1188.5 L480.4,1188.5 L481.3,1188.5 L482.2,1188.5 L483.1,1188.5 L484.0,1188.5 L484.9,1188.5 L485.8,1188.5 L486.7,1188.5 L487.6,1188.5 L488.5,1188.5 L489.4,1188.5 L490.3,1188.5 L491.2,1188.5 L492.1,1188.5 L493.0,1188.5 L493.9,1188.5 L494.8,1188.5 L495.7,1188.5 L496.6,1188.5 L497.5,1188.5 L498.5,1188.5 L499.4,1188.5 L500.3,1188.5 L501.2,1188.5 L502.1,1188.5 L503.0,1188.5 L503.9,1188.5 L504.8,1188.5 L505.7,1188.5 L506.6,1188.5 L507.5,1188.5 L508.4,1188.5 L509.3,1188.5 L510.2,1188.5 L511.1,1188.5 L512.0,1188.5 L512.9,1188.5 L513.8,1188.5 L514.7,1188.5 L515.6,1188.5 L516.5,1188.5 L517.4,1188.5 L518.3,1188.5 L519.2,1188.5 L520.1,1188.5 L521.0,1188.5 L521.9,1188.5 L522.8,1188.5 L523.7,1188.5 L524.6,1188.5 L525.5,1188.5 L526.4,1188.5 L527.3,1188.5 L528.2,1188.5 L529.2,1188.5 L530.1,1188.5 L531.0,1188.5 L531.9,1188.5 L532.8,1188.5 L533.7,1188.5 L534.6,1188.5 L535.5,1188.5 L536.4,1188.5 L537.3,1188.5 L538.2,1188.5 L539.1,1188.5 L540.0,1188.5 L540.9,1188.5 L541.8,1188.5 L542.7,1188.5 L543.6,1188.5 L544.5,1188.5 L545.4,1188.5 L546.3,1188.5 L547.2,1188.5 L548.1,1188.5 L549.0,1188.5 L549.9,1188.5 L550.8,1188.5 L551.7,1188.5 L552.6,1188.5 L553.5,1188.5 L554.4,1188.5 L555.3,1188.5 L556.2,1188.5 L557.1,1188.5 L558.0,1188.5 L558.9,1188.5 L559.8,1188.5 L560.8,1188.5 L561.7,1188.5 L562.6,1188.5 L563.5,1188.5 L564.4,1188.5 L565.3,1188.5 L566.2,1188.5 L567.1,1188.5 L568.0,1188.5 L568.9,1188.5 L569.8,1188.5 L570.7,1188.5 L571.6,1188.5 L572.5,1188.5 L573.4,1188.5 L574.3,1188.5 L575.2,1188.5 L576.1,1188.5 L577.0,1188.5 L577.9,1188.5 L578.8,1188.5 L579.7,1188.5 L580.6,1188.5 L581.5,1188.5 L582.4,1188.5 L583.3,1188.5 L584.2,1188.5 L585.1,1188.5 L586.0,1188.5 L586.9,1188.5 L587.8,1188.5 L588.7,1188.5 L589.6,1188.5 L590.5,1188.5 L591.5,1188.5 L592.4,1188.5 L593.3,1188.5 L594.2,1188.5 L595.1,1188.5 L596.0,1188.5 L596.9,1188.5 L597.8,1188.5 L598.7,1188.5 L599.6,1188.5 L600.5,1188.5 L601.4,1188.5 L602.3,1188.5 L603.2,1188.5 L604.1,1188.5 L605.0,1188.5 L605.9,1188.5 L606.8,1188.5 L607.7,1188.5 L608.6,1188.5 L609.5,1188.5 L610.4,1188.5 L611.3,1188.5 L612.2,1188.5 L613.1,1188.5 L614.0,1188.5 L614.9,1188.5 L615.8,1188.5 L616.7,1188.5 L617.6,1188.5 L618.5,1188.5 L619.4,1188.5 L620.3,1188.5 L621.2,1188.5 L622.1,1188.5 L623.1,1188.5 L624.0,1188.5 L624.9,1188.5 L625.8,1188.5 L626.7,1188.5 L627.6,1188.5 L628.5,1188.5 L629.4,1188.5 L630.3,1188.5 L631.2,1188.5 L632.1,1188.5 L633.0,1188.5 L633.9,1188.5 L634.8,1188.5 L635.7,1188.5 L636.6,1188.5 L637.5,1188.5 L638.4,1188.5 L639.3,1188.5 L640.2,1188.5 L641.1,1188.5 L642.0,1188.5 L642.9,1188.5 L643.8,1188.5 L644.7,1188.5 L645.6,1188.5 L646.5,1188.5 L647.4,1188.5 L648.3,1188.5 L649.2,1188.5 L650.1,1188.5 L651.0,1188.5 L651.9,1188.5 L652.8,1188.5 L653.7,1188.5 L654.7,1188.5 L655.6,1188.5 L656.5,1188.5 L657.4,1188.5 L658.3,1188.5 L659.2,1188.5 L660.1,1188.5 L661.0,1188.5 L661.9,1188.5 L662.8,1188.5 L663.7,1188.5 L664.6,1188.5 L665.5,1188.5 L666.4,1188.5 L667.3,1188.5 L668.2,1188.5 L669.1,1188.5 L670.0,1188.5 L670.9,1188.5 L671.8,1188.5 L672.7,1188.5 L673.6,1188.5 L674.5,1188.5 L675.4,1188.5 L676.3,1188.5 L677.2,1188.5 L678.1,1188.5 L679.0,1188.5 L679.9,1188.5 L680.8,1188.5 L681.7,1188.5 L682.6,1188.5 L683.5,1188.5 L684.4,1188.5 L685.4,1188.5 L686.3,1188.5 L687.2,1188.5 L688.1,1188.5 L689.0,1188.5 L689.9,1188.5 L690.8,1188.5 L691.7,1188.5 L692.6,1188.5 L693.5,1188.5 L694.4,1188.5 L695.3,1188.5 L696.2,1188.5 L697.1,1188.5 L698.0,1188.5 L698.9,1188.5 L699.8,1188.5 L700.7,1188.5 L701.6,1188.5 L702.5,1188.5 L703.4,1188.5 L704.3,1188.5 L705.2,1188.5 L706.1,1188.5 L707.0,1188.5 L707.9,1188.5 L708.8,1188.5 L709.7,1188.5 L710.6,1188.5 L711.5,1188.5 L712.4,1188.5 L713.3,1188.5 L714.2,1188.5 L715.1,1188.5 L716.0,1188.5 L717.0,1188.5 L717.9,1188.5 L718.8,1188.5 L719.7,1188.5 L720.6,1188.5 L721.5,1188.5 L722.4,1188.5 L723.3,1188.5 L724.2,1188.5 L725.1,1188.5 L726.0,1188.5 L726.9,1188.5 L727.8,1188.5 L728.7,1188.5 L729.6,1188.5 L730.5,1188.5 L731.4,1188.5 L732.3,1188.5 L733.2,1188.5 L734.1,1188.5 L735.0,1188.5 L735.9,1188.5 L736.8,1188.5 L737.7,1188.5 L738.6,1188.5 L739.5,1188.5 L740.4,1188.5 L741.3,1188.5 L742.2,1188.5 L743.1,1188.5 L744.0,1188.5 L744.9,1188.5 L745.8,1188.5 L746.7,1188.5 L747.7,1188.5 L748.6,1188.5 L749.5,1188.5 L750.4,1188.5 L751.3,1188.5 L752.2,1188.5 L753.1,1188.5 L754.0,1188.5 L754.9,1188.5 L755.8,1188.5 L756.7,1188.5 L757.6,1188.5 L758.5,1188.5 L759.4,1188.5 L760.3,1188.5 L761.2,1188.5 L762.1,1188.5 L763.0,1188.5 L763.9,1188.5 L764.8,1188.5 L765.7,1188.5 L766.6,1188.5 L767.5,1188.5 L768.4,1188.5 L769.3,1188.5 L770.2,1188.5 L771.1,1188.5 L772.0,1188.5 L772.9,1188.5 L773.8,1188.5 L774.7,1188.5 L775.6,1188.5 L776.5,1188.5 L777.4,1188.5 L778.3,1188.5 L779.3,1188.5 L780.2,1188.5 L781.1,1188.5 L782.0,1188.5 L782.9,1188.5 L783.8,1188.5 L784.7,1188.5 L785.6,1188.5 L786.5,1188.5 L787.4,1188.5 L788.3,1188.5 L789.2,1188.5 L790.1,1188.5 L791.0,1188.5 L791.9,1188.5 L792.8,1188.5 L793.7,1188.5 L794.6,1188.5 L795.5,1188.5 L796.4,1188.5 L797.3,1188.5 L798.2,1188.5 L799.1,1188.5 L800.0,1188.5 L800.9,1188.5 L801.8,1188.5 L802.7,1188.5 L803.6,1188.5 L804.5,1188.5 L805.4,1188.5 L806.3,1188.5 L807.2,1188.5 L808.1,1188.5 L809.0,1188.5 L810.0,1188.5 L810.9,1188.5 L811.8,1188.5 L812.7,1188.5 L813.6,1188.5 L814.5,1188.5 L815.4,1188.5 L816.3,1188.5 L817.2,1188.5 L818.1,1188.5 L819.0,1188.5 L819.9,1188.5 L820.8,1188.5 L821.7,1188.5 L822.6,1188.5 L823.5,1188.5 L824.4,1188.5 L825.3,1188.5 L826.2,1188.5 L827.1,1188.5 L828.0,1188.5 L828.9,1188.5 L829.8,1188.5 L830.7,1188.5 L831.6,1188.5 L832.5,1188.5 L833.4,1188.5 L834.3,1188.5 L835.2,1188.5 L836.1,1188.5 L837.0,1188.5 L837.9,1188.5 L838.8,1188.5 L839.7,1188.5 L840.6,1188.5 L841.6,1188.5 L842.5,1188.5 L843.4,1188.5 L844.3,1188.5 L845.2,1188.5 L846.1,1188.5 L847.0,1188.5 L847.9,1188.5 L848.8,1188.5 L849.7,1188.5 L850.6,1188.5 L851.5,1188.5 L852.4,1188.5 L853.3,1188.5 L854.2,1188.5 L855.1,1188.5 L856.0,1188.5 L856.9,1188.5 L857.8,1188.5 L858.7,1188.5 L859.6,1188.5 L860.5,1188.5 L861.4,1188.5 L862.3,1188.5 L863.2,1188.5 L864.1,1188.5 L865.0,1188.5 L865.9,1188.5 L866.8,1188.5 L867.7,1188.5 L868.6,1188.5 L869.5,1188.5 L870.4,1188.5 L871.3,1188.5 L872.2,1188.5 L873.2,1188.5 L874.1,1188.5 L875.0,1188.5 L875.9,1188.5 L876.8,1188.5 L877.7,1188.5 L878.6,1188.5 L879.5,1188.5 L880.4,1188.5 L881.3,1188.5 L882.2,1188.5 L883.1,1188.5 L884.0,1188.5 L884.9,1188.5 L885.8,1188.5 L886.7,1188.5 L887.6,1188.5 L888.5,1188.5 L889.4,1188.5 L890.3,1188.5 L891.2,1188.5 L892.1,1188.5 L893.0,1188.5 L893.9,1188.5 L894.8,1188.5 L895.7,1188.5 L896.6,1188.5 L897.5,1188.5 L898.4,1188.5 L899.3,1188.5 L900.2,1188.5 L901.1,1188.5 L902.0,1188.5 L902.9,1188.5 L903.9,1188.5 L904.8,1188.5 L905.7,1188.5 L906.6,1188.5 L907.5,1188.5 L908.4,1188.5 L909.3,1188.5 L910.2,1188.5 L911.1,1188.5 L912.0,1188.5 L912.9,1188.5 L913.8,1188.5 L914.7,1188.5 L915.6,1188.5 L916.5,1188.5 L917.4,1188.5 L918.3,1188.5 L919.2,1188.5" fill="none" stroke="#0072BD" stroke-width="3.82" stroke-linejoin="round"/>
<g>
<use href="#ast" transform="translate(107.5,854.4) scale(1.0)"/>
<use href="#ast" transform="translate(108.2,854.2) scale(1.0)"/>
<use href="#ast" transform="translate(109.0,854.0) scale(1.0)"/>
<use href="#ast" transform="translate(110.0,853.9) scale(1.0)"/>
<use href="#ast" transform="translate(111.0,853.8) scale(1.0)"/>
<use href="#ast" transform="translate(115.3,853.7) scale(1.0)"/>
<use href="#ast" transform="translate(119.6,854.6) scale(1.0)"/>
<use href="#ast" transform="translate(123.9,856.5) scale(1.0)"/>
<use href="#ast" transform="translate(128.2,859.5) scale(1.0)"/>
<use href="#ast" transform="translate(132.5,863.6) scale(1.0)"/>
<use href="#ast" transform="translate(136.8,868.4) scale(1.0)"/>
<use href="#ast" transform="translate(141.1,873.7) scale(1.0)"/>
<use href="#ast" transform="translate(145.4,879.0) scale(1.0)"/>
<use href="#ast" transform="translate(149.7,884.3) scale(1.0)"/>
<use href="#ast" transform="translate(154.0,889.5) scale(1.0)"/>
<use href="#ast" transform="translate(158.3,894.7) scale(1.0)"/>
<use href="#ast" transform="translate(162.6,900.1) scale(1.0)"/>
<use href="#ast" transform="translate(166.9,905.5) scale(1.0)"/>
<use href="#ast" transform="translate(171.2,911.2) scale(1.0)"/>
<use href="#ast" transform="translate(175.5,917.2) scale(1.0)"/>
<use href="#ast" transform="translate(179.8,923.6) scale(1.0)"/>
<use href="#ast" transform="translate(184.1,930.6) scale(1.0)"/>
<use href="#ast" transform="translate(188.4,938.0) scale(1.0)"/>
<use href="#ast" transform="translate(192.7,945.9) scale(1.0)"/>
<use href="#ast" transform="translate(197.0,954.1) scale(1.0)"/>
<use href="#ast" transform="translate(201.3,962.6) scale(1.0)"/>
<use href="#ast" transform="translate(205.6,971.0) scale(1.0)"/>
<use href="#ast" transform="translate(209.9,979.3) scale(1.0)"/>
<use href="#ast" transform="translate(214.2,987.2) scale(1.0)"/>
<use href="#ast" transform="translate(218.5,994.7) scale(1.0)"/>
<use href="#ast" transform="translate(222.8,1001.6) scale(1.0)"/>
<use href="#ast" transform="translate(227.1,1008.1) scale(1.0)"/>
<use href="#ast" transform="translate(231.4,1014.0) scale(1.0)"/>
<use href="#ast" transform="translate(235.7,1019.4) scale(1.0)"/>
<use href="#ast" transform="translate(240.0,1024.4) scale(1.0)"/>
<use href="#ast" transform="translate(244.3,1029.0) scale(1.0)"/>
<use href="#ast" transform="translate(248.6,1033.2) scale(1.0)"/>
<use href="#ast" transform="translate(252.9,1037.1) scale(1.0)"/>
<use href="#ast" transform="translate(257.2,1040.6) scale(1.0)"/>
<use href="#ast" transform="translate(261.5,1043.6) scale(1.0)"/>
<use href="#ast" transform="translate(265.8,1046.3) scale(1.0)"/>
<use href="#ast" transform="translate(270.1,1048.5) scale(1.0)"/>
<use href="#ast" transform="translate(274.4,1050.3) scale(1.0)"/>
<use href="#ast" transform="translate(278.7,1051.5) scale(1.0)"/>
<use href="#ast" transform="translate(283.0,1052.0) scale(1.0)"/>
<use href="#ast" transform="translate(291.4,1051.2) scale(1.0)"/>
<use href="#ast" transform="translate(299.8,1047.8) scale(1.0)"/>
<use href="#ast" transform="translate(308.2,1042.1) scale(1.0)"/>
<use href="#ast" transform="translate(316.6,1034.2) scale(1.0)"/>
<use href="#ast" transform="translate(325.0,1024.5) scale(1.0)"/>
<use href="#ast" transform="translate(337.5,1006.7) scale(1.0)"/>
<use href="#ast" transform="translate(350.0,983.5) scale(1.0)"/>
<use href="#ast" transform="translate(362.5,952.9) scale(1.0)"/>
<use href="#ast" transform="translate(375.0,915.4) scale(1.0)"/>
<use href="#ast" transform="translate(382.2,893.4) scale(1.0)"/>
<use href="#ast" transform="translate(389.5,873.6) scale(1.0)"/>
<use href="#ast" transform="translate(396.8,856.5) scale(1.0)"/>
<use href="#ast" transform="translate(404.0,841.7) scale(1.0)"/>
<use href="#ast" transform="translate(411.2,828.8) scale(1.0)"/>
<use href="#ast" transform="translate(418.5,817.5) scale(1.0)"/>
<use href="#ast" transform="translate(425.8,807.9) scale(1.0)"/>
<use href="#ast" transform="translate(433.0,800.1) scale(1.0)"/>
<use href="#ast" transform="translate(441.5,793.4) scale(1.0)"/>
<use href="#ast" transform="translate(450.0,789.4) scale(1.0)"/>
<use href="#ast" transform="translate(458.5,788.1) scale(1.0)"/>
<use href="#ast" transform="translate(467.0,788.7) scale(1.0)"/>
<use href="#ast" transform="translate(475.5,791.1) scale(1.0)"/>
<use href="#ast" transform="translate(484.0,794.7) scale(1.0)"/>
<use href="#ast" transform="translate(492.5,799.5) scale(1.0)"/>
<use href="#ast" transform="translate(501.0,805.2) scale(1.0)"/>
<use href="#ast" transform="translate(509.2,811.3) scale(1.0)"/>
<use href="#ast" transform="translate(517.4,818.2) scale(1.0)"/>
<use href="#ast" transform="translate(525.5,825.6) scale(1.0)"/>
<use href="#ast" transform="translate(533.7,833.7) scale(1.0)"/>
<use href="#ast" transform="translate(541.9,842.5) scale(1.0)"/>
<use href="#ast" transform="translate(550.1,851.8) scale(1.0)"/>
<use href="#ast" transform="translate(558.2,861.8) scale(1.0)"/>
<use href="#ast" transform="translate(566.4,872.2) scale(1.0)"/>
<use href="#ast" transform="translate(574.6,883.0) scale(1.0)"/>
<use href="#ast" transform="translate(582.8,894.0) scale(1.0)"/>
<use href="#ast" transform="translate(590.9,905.2) scale(1.0)"/>
<use href="#ast" transform="translate(599.1,916.5) scale(1.0)"/>
<use href="#ast" transform="translate(607.3,927.8) scale(1.0)"/>
<use href="#ast" transform="translate(615.5,939.3) scale(1.0)"/>
<use href="#ast" transform="translate(623.6,950.8) scale(1.0)"/>
<use href="#ast" transform="translate(631.8,962.3) scale(1.0)"/>
<use href="#ast" transform="translate(640.0,973.8) scale(1.0)"/>
<use href="#ast" transform="translate(650.3,988.3) scale(1.0)"/>
<use href="#ast" transform="translate(660.7,1002.7) scale(1.0)"/>
<use href="#ast" transform="translate(671.0,1017.0) scale(1.0)"/>
<use href="#ast" transform="translate(681.4,1031.0) scale(1.0)"/>
<use href="#ast" transform="translate(691.7,1044.9) scale(1.0)"/>
<use href="#ast" transform="translate(702.0,1058.4) scale(1.0)"/>
<use href="#ast" transform="translate(712.4,1071.6) scale(1.0)"/>
<use href="#ast" transform="translate(722.7,1084.5) scale(1.0)"/>
<use href="#ast" transform="translate(733.1,1097.1) scale(1.0)"/>
<use href="#ast" transform="translate(743.4,1109.1) scale(1.0)"/>
<use href="#ast" transform="translate(753.7,1119.4) scale(1.0)"/>
<use href="#ast" transform="translate(764.1,1127.2) scale(1.0)"/>
<use href="#ast" transform="translate(774.4,1132.1) scale(1.0)"/>
<use href="#ast" transform="translate(784.8,1134.1) scale(1.0)"/>
<use href="#ast" transform="translate(795.1,1133.3) scale(1.0)"/>
<use href="#ast" transform="translate(805.5,1130.0) scale(1.0)"/>
<use href="#ast" transform="translate(815.8,1123.7) scale(1.0)"/>
<use href="#ast" transform="translate(826.1,1112.4) scale(1.0)"/>
<use href="#ast" transform="translate(836.5,1093.7) scale(1.0)"/>
<use href="#ast" transform="translate(846.8,1066.4) scale(1.0)"/>
<use href="#ast" transform="translate(857.2,1027.1) scale(1.0)"/>
<use href="#ast" transform="translate(867.5,980.7) scale(1.0)"/>
<use href="#ast" transform="translate(877.8,930.0) scale(1.0)"/>
<use href="#ast" transform="translate(888.2,875.7) scale(1.0)"/>
<use href="#ast" transform="translate(898.5,826.2) scale(1.0)"/>
<use href="#ast" transform="translate(908.9,786.0) scale(1.0)"/>
<use href="#ast" transform="translate(919.2,753.7) scale(1.0)"/>
</g><g>
<use href="#pls" transform="translate(107.5,910.2) scale(1.0)"/>
<use href="#pls" transform="translate(108.2,907.4) scale(1.0)"/>
<use href="#pls" transform="translate(109.0,904.7) scale(1.0)"/>
<use href="#pls" transform="translate(110.0,902.1) scale(1.0)"/>
<use href="#pls" transform="translate(111.0,899.6) scale(1.0)"/>
<use href="#pls" transform="translate(115.3,891.2) scale(1.0)"/>
<use href="#pls" transform="translate(119.6,884.6) scale(1.0)"/>
<use href="#pls" transform="translate(123.9,879.1) scale(1.0)"/>
<use href="#pls" transform="translate(128.2,874.3) scale(1.0)"/>
<use href="#pls" transform="translate(132.5,870.2) scale(1.0)"/>
<use href="#pls" transform="translate(136.8,866.5) scale(1.0)"/>
<use href="#pls" transform="translate(141.1,863.3) scale(1.0)"/>
<use href="#pls" transform="translate(145.4,860.6) scale(1.0)"/>
<use href="#pls" transform="translate(149.7,858.2) scale(1.0)"/>
<use href="#pls" transform="translate(154.0,856.2) scale(1.0)"/>
<use href="#pls" transform="translate(158.3,854.7) scale(1.0)"/>
<use href="#pls" transform="translate(162.6,853.5) scale(1.0)"/>
<use href="#pls" transform="translate(166.9,852.8) scale(1.0)"/>
<use href="#pls" transform="translate(171.2,852.5) scale(1.0)"/>
<use href="#pls" transform="translate(175.5,852.8) scale(1.0)"/>
<use href="#pls" transform="translate(179.8,853.5) scale(1.0)"/>
<use href="#pls" transform="translate(184.1,854.8) scale(1.0)"/>
<use href="#pls" transform="translate(188.4,856.5) scale(1.0)"/>
<use href="#pls" transform="translate(192.7,858.7) scale(1.0)"/>
<use href="#pls" transform="translate(197.0,861.4) scale(1.0)"/>
<use href="#pls" transform="translate(201.3,864.5) scale(1.0)"/>
<use href="#pls" transform="translate(205.6,868.2) scale(1.0)"/>
<use href="#pls" transform="translate(209.9,872.2) scale(1.0)"/>
<use href="#pls" transform="translate(214.2,876.8) scale(1.0)"/>
<use href="#pls" transform="translate(218.5,881.8) scale(1.0)"/>
<use href="#pls" transform="translate(222.8,887.3) scale(1.0)"/>
<use href="#pls" transform="translate(227.1,893.3) scale(1.0)"/>
<use href="#pls" transform="translate(231.4,899.7) scale(1.0)"/>
<use href="#pls" transform="translate(235.7,906.7) scale(1.0)"/>
<use href="#pls" transform="translate(240.0,914.2) scale(1.0)"/>
<use href="#pls" transform="translate(244.3,922.2) scale(1.0)"/>
<use href="#pls" transform="translate(248.6,930.8) scale(1.0)"/>
<use href="#pls" transform="translate(252.9,939.8) scale(1.0)"/>
<use href="#pls" transform="translate(257.2,948.9) scale(1.0)"/>
<use href="#pls" transform="translate(261.5,957.9) scale(1.0)"/>
<use href="#pls" transform="translate(265.8,966.7) scale(1.0)"/>
<use href="#pls" transform="translate(270.1,975.1) scale(1.0)"/>
<use href="#pls" transform="translate(274.4,983.1) scale(1.0)"/>
<use href="#pls" transform="translate(278.7,990.7) scale(1.0)"/>
<use href="#pls" transform="translate(283.0,997.8) scale(1.0)"/>
<use href="#pls" transform="translate(291.4,1010.5) scale(1.0)"/>
<use href="#pls" transform="translate(299.8,1021.1) scale(1.0)"/>
<use href="#pls" transform="translate(308.2,1029.4) scale(1.0)"/>
<use href="#pls" transform="translate(316.6,1035.3) scale(1.0)"/>
<use href="#pls" transform="translate(325.0,1039.0) scale(1.0)"/>
<use href="#pls" transform="translate(337.5,1041.0) scale(1.0)"/>
<use href="#pls" transform="translate(350.0,1039.3) scale(1.0)"/>
<use href="#pls" transform="translate(362.5,1033.4) scale(1.0)"/>
<use href="#pls" transform="translate(375.0,1021.9) scale(1.0)"/>
<use href="#pls" transform="translate(382.2,1012.0) scale(1.0)"/>
<use href="#pls" transform="translate(389.5,999.5) scale(1.0)"/>
<use href="#pls" transform="translate(396.8,984.3) scale(1.0)"/>
<use href="#pls" transform="translate(404.0,967.1) scale(1.0)"/>
<use href="#pls" transform="translate(411.2,949.5) scale(1.0)"/>
<use href="#pls" transform="translate(418.5,931.8) scale(1.0)"/>
<use href="#pls" transform="translate(425.8,913.5) scale(1.0)"/>
<use href="#pls" transform="translate(433.0,894.1) scale(1.0)"/>
<use href="#pls" transform="translate(441.5,868.9) scale(1.0)"/>
<use href="#pls" transform="translate(450.0,842.3) scale(1.0)"/>
<use href="#pls" transform="translate(458.5,816.6) scale(1.0)"/>
<use href="#pls" transform="translate(467.0,793.7) scale(1.0)"/>
<use href="#pls" transform="translate(475.5,774.0) scale(1.0)"/>
<use href="#pls" transform="translate(484.0,757.3) scale(1.0)"/>
<use href="#pls" transform="translate(492.5,743.3) scale(1.0)"/>
<use href="#pls" transform="translate(501.0,731.3) scale(1.0)"/>
<use href="#pls" transform="translate(509.2,721.5) scale(1.0)"/>
<use href="#pls" transform="translate(517.4,713.0) scale(1.0)"/>
<use href="#pls" transform="translate(525.5,705.7) scale(1.0)"/>
<use href="#pls" transform="translate(533.7,699.4) scale(1.0)"/>
<use href="#pls" transform="translate(541.9,693.9) scale(1.0)"/>
<use href="#pls" transform="translate(550.1,689.2) scale(1.0)"/>
<use href="#pls" transform="translate(558.2,685.3) scale(1.0)"/>
<use href="#pls" transform="translate(566.4,682.1) scale(1.0)"/>
<use href="#pls" transform="translate(574.6,679.6) scale(1.0)"/>
<use href="#pls" transform="translate(582.8,677.9) scale(1.0)"/>
<use href="#pls" transform="translate(590.9,677.0) scale(1.0)"/>
<use href="#pls" transform="translate(599.1,676.8) scale(1.0)"/>
<use href="#pls" transform="translate(607.3,677.5) scale(1.0)"/>
<use href="#pls" transform="translate(615.5,679.0) scale(1.0)"/>
<use href="#pls" transform="translate(623.6,681.4) scale(1.0)"/>
<use href="#pls" transform="translate(631.8,684.7) scale(1.0)"/>
<use href="#pls" transform="translate(640.0,688.9) scale(1.0)"/>
<use href="#pls" transform="translate(650.3,695.5) scale(1.0)"/>
<use href="#pls" transform="translate(660.7,703.6) scale(1.0)"/>
<use href="#pls" transform="translate(671.0,713.6) scale(1.0)"/>
<use href="#pls" transform="translate(681.4,726.2) scale(1.0)"/>
<use href="#pls" transform="translate(691.7,743.2) scale(1.0)"/>
<use href="#pls" transform="translate(702.0,766.7) scale(1.0)"/>
<use href="#pls" transform="translate(712.4,794.1) scale(1.0)"/>
<use href="#pls" transform="translate(722.7,824.8) scale(1.0)"/>
<use href="#pls" transform="translate(733.1,859.7) scale(1.0)"/>
<use href="#pls" transform="translate(743.4,900.7) scale(1.0)"/>
<use href="#pls" transform="translate(753.7,944.6) scale(1.0)"/>
<use href="#pls" transform="translate(764.1,984.4) scale(1.0)"/>
<use href="#pls" transform="translate(774.4,1017.5) scale(1.0)"/>
<use href="#pls" transform="translate(784.8,1044.9) scale(1.0)"/>
<use href="#pls" transform="translate(795.1,1068.0) scale(1.0)"/>
<use href="#pls" transform="translate(805.5,1086.3) scale(1.0)"/>
<use href="#pls" transform="translate(815.8,1099.3) scale(1.0)"/>
<use href="#pls" transform="translate(826.1,1107.5) scale(1.0)"/>
<use href="#pls" transform="translate(836.5,1111.9) scale(1.0)"/>
<use href="#pls" transform="translate(846.8,1113.1) scale(1.0)"/>
<use href="#pls" transform="translate(857.2,1111.8) scale(1.0)"/>
<use href="#pls" transform="translate(867.5,1108.4) scale(1.0)"/>
<use href="#pls" transform="translate(877.8,1102.1) scale(1.0)"/>
<use href="#pls" transform="translate(888.2,1091.5) scale(1.0)"/>
<use href="#pls" transform="translate(898.5,1073.6) scale(1.0)"/>
<use href="#pls" transform="translate(908.9,1045.2) scale(1.0)"/>
<use href="#pls" transform="translate(919.2,1016.2) scale(1.0)"/>
</g>
<path d="M107.5,857.7 L108.2,857.0 L108.9,856.3 L109.5,855.6 L110.2,854.9 L110.9,854.3 L111.6,853.6 L112.2,853.0 L112.9,852.3 L113.6,851.7 L114.3,851.1 L114.9,850.5 L115.6,849.9 L116.3,849.3 L117.0,848.7 L117.7,848.2 L118.3,847.6 L119.0,847.0 L119.7,846.5 L120.4,845.9 L121.0,845.4 L121.7,844.9 L122.4,844.4 L123.1,843.8 L123.7,843.3 L124.4,842.8 L125.1,842.3 L125.8,841.8 L126.5,841.4 L127.1,840.9 L127.8,840.4 L128.5,839.9 L129.2,839.5 L129.8,839.0 L130.5,838.6 L131.2,838.1 L131.9,837.7 L132.5,837.2 L133.2,836.8 L133.9,836.4 L134.6,836.0 L135.3,835.6 L135.9,835.2 L136.6,834.8 L137.3,834.4 L138.0,834.0 L138.6,833.6 L139.3,833.2 L140.0,832.8 L140.7,832.4 L141.3,832.1 L142.0,831.7 L142.7,831.4 L143.4,831.0 L144.1,830.7 L144.7,830.3 L145.4,830.0 L146.1,829.6 L146.8,829.3 L147.4,829.0 L148.1,828.7 L148.8,828.4 L149.5,828.0 L150.1,827.7 L150.8,827.4 L151.5,827.1 L152.2,826.9 L152.9,826.6 L153.5,826.3 L154.2,826.0 L154.9,825.7 L155.6,825.5 L156.2,825.2 L156.9,825.0 L157.6,824.7 L158.3,824.4 L159.0,824.2 L159.6,824.0 L160.3,823.7 L161.0,823.5 L161.7,823.3 L162.3,823.1 L163.0,822.8 L163.7,822.6 L164.4,822.4 L165.0,822.2 L165.7,822.0 L166.4,821.8 L167.1,821.7 L167.8,821.5 L168.4,821.3 L169.1,821.1 L169.8,821.0 L170.5,820.8 L171.1,820.6 L171.8,820.5 L172.5,820.3 L173.2,820.2 L173.8,820.1 L174.5,819.9 L175.2,819.8 L175.9,819.7 L176.6,819.6 L177.2,819.5 L177.9,819.4 L178.6,819.3 L179.3,819.2 L179.9,819.1 L180.6,819.0 L181.3,818.9 L182.0,818.9 L182.6,818.8 L183.3,818.7 L184.0,818.7 L184.7,818.6 L185.4,818.6 L186.0,818.6 L186.7,818.5 L187.4,818.5 L188.1,818.5 L188.7,818.5 L189.4,818.5 L190.1,818.5 L190.8,818.5 L191.4,818.5 L192.1,818.5 L192.8,818.6 L193.5,818.6 L194.2,818.6 L194.8,818.7 L195.5,818.7 L196.2,818.8 L196.9,818.9 L197.5,819.0 L198.2,819.0 L198.9,819.1 L199.6,819.2 L200.2,819.3 L200.9,819.5 L201.6,819.6 L202.3,819.7 L203.0,819.9 L203.6,820.0 L204.3,820.2 L205.0,820.3 L205.7,820.5 L206.3,820.7 L207.0,820.9 L207.7,821.1 L208.4,821.3 L209.0,821.5 L209.7,821.8 L210.4,822.0 L211.1,822.3 L211.8,822.5 L212.4,822.8 L213.1,823.1 L213.8,823.4 L214.5,823.6 L215.1,824.0 L215.8,824.3 L216.5,824.6 L217.2,824.9 L217.8,825.3 L218.5,825.6 L219.2,826.0 L219.9,826.4 L220.6,826.7 L221.2,827.1 L221.9,827.5 L222.6,827.9 L223.3,828.4 L223.9,828.8 L224.6,829.2 L225.3,829.7 L226.0,830.1 L226.6,830.6 L227.3,831.1 L228.0,831.6 L228.7,832.1 L229.4,832.6 L230.0,833.1 L230.7,833.6 L231.4,834.1 L232.1,834.7 L232.7,835.2 L233.4,835.8 L234.1,836.4 L234.8,837.0 L235.4,837.5 L236.1,838.1 L236.8,838.8 L237.5,839.4 L238.2,840.0 L238.8,840.6 L239.5,841.3 L240.2,841.9 L240.9,842.6 L241.5,843.3 L242.2,844.0 L242.9,844.7 L243.6,845.4 L244.3,846.1 L244.9,846.8 L245.6,847.6 L246.3,848.3 L247.0,849.0 L247.6,849.8 L248.3,850.6 L249.0,851.4 L249.7,852.2 L250.3,853.0 L251.0,853.8 L251.7,854.6 L252.4,855.4 L253.1,856.2 L253.7,857.1 L254.4,857.9 L255.1,858.8 L255.8,859.7 L256.4,860.5 L257.1,861.4 L257.8,862.3 L258.5,863.2 L259.1,864.1 L259.8,865.1 L260.5,866.0 L261.2,866.9 L261.9,867.9 L262.5,868.8 L263.2,869.8 L263.9,870.8 L264.6,871.8 L265.2,872.7 L265.9,873.7 L266.6,874.7 L267.3,875.8 L267.9,876.8 L268.6,877.8 L269.3,878.9 L270.0,879.9 L270.7,881.0 L271.3,882.0 L272.0,883.1 L272.7,884.2 L273.4,885.3 L274.0,886.4 L274.7,887.5 L275.4,888.7 L276.1,889.8 L276.7,890.9 L277.4,892.1 L278.1,893.3 L278.8,894.5 L279.5,895.6 L280.1,896.9 L280.8,898.1 L281.5,899.3 L282.2,900.5 L282.8,901.8 L283.5,903.0 L284.2,904.3 L284.9,905.6 L285.5,906.9 L286.2,908.2 L286.9,909.5 L287.6,910.8 L288.3,912.1 L288.9,913.5 L289.6,914.8 L290.3,916.2 L291.0,917.6 L291.6,918.9 L292.3,920.3 L293.0,921.7 L293.7,923.1 L294.3,924.6 L295.0,926.0 L295.7,927.4 L296.4,928.9 L297.1,930.3 L297.7,931.8 L298.4,933.3 L299.1,934.7 L299.8,936.2 L300.4,937.7 L301.1,939.2 L301.8,940.7 L302.5,942.2 L303.1,943.7 L303.8,945.3 L304.5,946.8 L305.2,948.3 L305.9,949.8 L306.5,951.4 L307.2,952.9 L307.9,954.4 L308.6,956.0 L309.2,957.5 L309.9,959.0 L310.6,960.6 L311.3,962.1 L311.9,963.6 L312.6,965.1 L313.3,966.6 L314.0,968.1 L314.7,969.6 L315.3,971.0 L316.0,972.5 L316.7,973.9 L317.4,975.4 L318.0,976.8 L318.7,978.2 L319.4,979.6 L320.1,980.9 L320.7,982.3 L321.4,983.6 L322.1,984.9 L322.8,986.2 L323.5,987.5 L324.1,988.7 L324.8,989.9 L325.5,991.2 L326.2,992.4 L326.8,993.5 L327.5,994.7 L328.2,995.8 L328.9,997.0 L329.5,998.1 L330.2,999.1 L330.9,1000.2 L331.6,1001.2 L332.3,1002.3 L332.9,1003.3 L333.6,1004.3 L334.3,1005.2 L335.0,1006.2 L335.6,1007.1 L336.3,1008.1 L337.0,1009.0 L337.7,1009.8 L338.4,1010.7 L339.0,1011.6 L339.7,1012.4 L340.4,1013.2 L341.1,1014.0 L341.7,1014.8 L342.4,1015.6 L343.1,1016.3 L343.8,1017.1 L344.4,1017.8 L345.1,1018.5 L345.8,1019.2 L346.5,1019.9 L347.2,1020.5 L347.8,1021.2 L348.5,1021.8 L349.2,1022.5 L349.9,1023.1 L350.5,1023.7 L351.2,1024.3 L351.9,1024.9 L352.6,1025.4 L353.2,1026.0 L353.9,1026.5 L354.6,1027.0 L355.3,1027.6 L356.0,1028.1 L356.6,1028.6 L357.3,1029.1 L358.0,1029.5 L358.7,1030.0 L359.3,1030.4 L360.0,1030.9 L360.7,1031.3 L361.4,1031.7 L362.0,1032.2 L362.7,1032.6 L363.4,1033.0 L364.1,1033.3 L364.8,1033.7 L365.4,1034.1 L366.1,1034.4 L366.8,1034.8 L367.5,1035.1 L368.1,1035.4 L368.8,1035.7 L369.5,1036.1 L370.2,1036.3 L370.8,1036.6 L371.5,1036.9 L372.2,1037.2 L372.9,1037.4 L373.6,1037.7 L374.2,1037.9 L374.9,1038.2 L375.6,1038.4 L376.3,1038.6 L376.9,1038.8 L377.6,1039.0 L378.3,1039.2 L379.0,1039.3 L379.6,1039.5 L380.3,1039.7 L381.0,1039.8 L381.7,1039.9 L382.4,1040.1 L383.0,1040.2 L383.7,1040.3 L384.4,1040.4 L385.1,1040.5 L385.7,1040.6 L386.4,1040.6 L387.1,1040.7 L387.8,1040.7 L388.4,1040.8 L389.1,1040.8 L389.8,1040.8 L390.5,1040.8 L391.2,1040.8 L391.8,1040.8 L392.5,1040.8 L393.2,1040.8 L393.9,1040.7 L394.5,1040.7 L395.2,1040.6 L395.9,1040.6 L396.6,1040.5 L397.2,1040.4 L397.9,1040.3 L398.6,1040.2 L399.3,1040.1 L400.0,1039.9 L400.6,1039.8 L401.3,1039.7 L402.0,1039.5 L402.7,1039.4 L403.3,1039.2 L404.0,1039.0 L404.7,1038.8 L405.4,1038.6 L406.0,1038.4 L406.7,1038.2 L407.4,1038.0 L408.1,1037.8 L408.8,1037.6 L409.4,1037.3 L410.1,1037.1 L410.8,1036.8 L411.5,1036.5 L412.1,1036.3 L412.8,1036.0 L413.5,1035.7 L414.2,1035.4 L414.8,1035.1 L415.5,1034.7 L416.2,1034.4 L416.9,1034.1 L417.6,1033.7 L418.2,1033.4 L418.9,1033.0 L419.6,1032.7 L420.3,1032.3 L420.9,1031.9 L421.6,1031.5 L422.3,1031.1 L423.0,1030.7 L423.7,1030.3 L424.3,1029.8 L425.0,1029.4 L425.7,1028.9 L426.4,1028.5 L427.0,1028.0 L427.7,1027.5 L428.4,1027.1 L429.1,1026.6 L429.7,1026.1 L430.4,1025.5 L431.1,1025.0 L431.8,1024.5 L432.5,1023.9 L433.1,1023.4 L433.8,1022.8 L434.5,1022.3 L435.2,1021.7 L435.8,1021.1 L436.5,1020.5 L437.2,1019.9 L437.9,1019.3 L438.5,1018.6 L439.2,1018.0 L439.9,1017.4 L440.6,1016.7 L441.3,1016.0 L441.9,1015.4 L442.6,1014.7 L443.3,1014.0 L444.0,1013.3 L444.6,1012.6 L445.3,1011.8 L446.0,1011.1 L446.7,1010.4 L447.3,1009.6 L448.0,1008.8 L448.7,1008.1 L449.4,1007.3 L450.1,1006.5 L450.7,1005.7 L451.4,1004.9 L452.1,1004.1 L452.8,1003.3 L453.4,1002.4 L454.1,1001.6 L454.8,1000.7 L455.5,999.9 L456.1,999.0 L456.8,998.1 L457.5,997.2 L458.2,996.3 L458.9,995.4 L459.5,994.5 L460.2,993.6 L460.9,992.7 L461.6,991.8 L462.2,990.8 L462.9,989.9 L463.6,989.0 L464.3,988.0 L464.9,987.0 L465.6,986.1 L466.3,985.1 L467.0,984.1 L467.7,983.1 L468.3,982.2 L469.0,981.2 L469.7,980.2 L470.4,979.2 L471.0,978.2 L471.7,977.2 L472.4,976.2 L473.1,975.2 L473.7,974.2 L474.4,973.1 L475.1,972.1 L475.8,971.1 L476.5,970.1 L477.1,969.1 L477.8,968.1 L478.5,967.1 L479.2,966.0 L479.8,965.0 L480.5,964.0 L481.2,963.0 L481.9,961.9 L482.5,960.9 L483.2,959.9 L483.9,958.9 L484.6,957.8 L485.3,956.8 L485.9,955.8 L486.6,954.8 L487.3,953.7 L488.0,952.7 L488.6,951.7 L489.3,950.6 L490.0,949.6 L490.7,948.6 L491.3,947.5 L492.0,946.5 L492.7,945.5 L493.4,944.4 L494.1,943.4 L494.7,942.4 L495.4,941.3 L496.1,940.3 L496.8,939.3 L497.4,938.2 L498.1,937.2 L498.8,936.2 L499.5,935.1 L500.1,934.1 L500.8,933.1 L501.5,932.0 L502.2,931.0 L502.9,930.0 L503.5,928.9 L504.2,927.9 L504.9,926.9 L505.6,925.8 L506.2,924.8 L506.9,923.8 L507.6,922.8 L508.3,921.7 L508.9,920.7 L509.6,919.7 L510.3,918.7 L511.0,917.6 L511.7,916.6 L512.3,915.6 L513.0,914.6 L513.7,913.6 L514.4,912.5 L515.0,911.5 L515.7,910.5 L516.4,909.5 L517.1,908.5 L517.8,907.5 L518.4,906.5 L519.1,905.5 L519.8,904.5 L520.5,903.5 L521.1,902.5 L521.8,901.5 L522.5,900.5 L523.2,899.5 L523.8,898.5 L524.5,897.5 L525.2,896.5 L525.9,895.5 L526.6,894.5 L527.2,893.5 L527.9,892.5 L528.6,891.6 L529.3,890.6 L529.9,889.6 L530.6,888.6 L531.3,887.7 L532.0,886.7 L532.6,885.7 L533.3,884.8 L534.0,883.8 L534.7,882.8 L535.4,881.9 L536.0,880.9 L536.7,880.0 L537.4,879.0 L538.1,878.1 L538.7,877.1 L539.4,876.2 L540.1,875.3 L540.8,874.3 L541.4,873.4 L542.1,872.5 L542.8,871.5 L543.5,870.6 L544.2,869.7 L544.8,868.8 L545.5,867.8 L546.2,866.9 L546.9,866.0 L547.5,865.1 L548.2,864.2 L548.9,863.3 L549.6,862.4 L550.2,861.5 L550.9,860.6 L551.6,859.7 L552.3,858.8 L553.0,857.9 L553.6,857.0 L554.3,856.2 L555.0,855.3 L555.7,854.4 L556.3,853.5 L557.0,852.7 L557.7,851.8 L558.4,850.9 L559.0,850.1 L559.7,849.2 L560.4,848.4 L561.1,847.5 L561.8,846.7 L562.4,845.8 L563.1,845.0 L563.8,844.1 L564.5,843.3 L565.1,842.5 L565.8,841.7 L566.5,840.8 L567.2,840.0 L567.8,839.2 L568.5,838.4 L569.2,837.5 L569.9,836.7 L570.6,835.9 L571.2,835.1 L571.9,834.3 L572.6,833.5 L573.3,832.7 L573.9,831.9 L574.6,831.1 L575.3,830.4 L576.0,829.6 L576.6,828.8 L577.3,828.0 L578.0,827.3 L578.7,826.5 L579.4,825.7 L580.0,825.0 L580.7,824.2 L581.4,823.5 L582.1,822.7 L582.7,822.0 L583.4,821.3 L584.1,820.5 L584.8,819.8 L585.4,819.1 L586.1,818.3 L586.8,817.6 L587.5,816.9 L588.2,816.2 L588.8,815.5 L589.5,814.8 L590.2,814.1 L590.9,813.4 L591.5,812.7 L592.2,812.1 L592.9,811.4 L593.6,810.7 L594.2,810.1 L594.9,809.4 L595.6,808.7 L596.3,808.1 L597.0,807.4 L597.6,806.8 L598.3,806.2 L599.0,805.5 L599.7,804.9 L600.3,804.3 L601.0,803.6 L601.7,803.0 L602.4,802.4 L603.0,801.8 L603.7,801.2 L604.4,800.6 L605.1,800.0 L605.8,799.4 L606.4,798.9 L607.1,798.3 L607.8,797.7 L608.5,797.1 L609.1,796.6 L609.8,796.0 L610.5,795.5 L611.2,794.9 L611.9,794.4 L612.5,793.8 L613.2,793.3 L613.9,792.8 L614.6,792.3 L615.2,791.7 L615.9,791.2 L616.6,790.7 L617.3,790.2 L617.9,789.7 L618.6,789.2 L619.3,788.7 L620.0,788.2 L620.7,787.7 L621.3,787.3 L622.0,786.8 L622.7,786.3 L623.4,785.8 L624.0,785.4 L624.7,784.9 L625.4,784.5 L626.1,784.0 L626.7,783.6 L627.4,783.2 L628.1,782.7 L628.8,782.3 L629.5,781.9 L630.1,781.4 L630.8,781.0 L631.5,780.6 L632.2,780.2 L632.8,779.8 L633.5,779.4 L634.2,779.0 L634.9,778.6 L635.5,778.2 L636.2,777.9 L636.9,777.5 L637.6,777.1 L638.3,776.7 L638.9,776.4 L639.6,776.0 L640.3,775.7 L641.0,775.3 L641.6,775.0 L642.3,774.6 L643.0,774.3 L643.7,773.9 L644.3,773.6 L645.0,773.3 L645.7,773.0 L646.4,772.6 L647.1,772.3 L647.7,772.0 L648.4,771.7 L649.1,771.4 L649.8,771.1 L650.4,770.8 L651.1,770.5 L651.8,770.3 L652.5,770.0 L653.1,769.7 L653.8,769.4 L654.5,769.2 L655.2,768.9 L655.9,768.7 L656.5,768.4 L657.2,768.2 L657.9,767.9 L658.6,767.7 L659.2,767.4 L659.9,767.2 L660.6,767.0 L661.3,766.8 L661.9,766.6 L662.6,766.3 L663.3,766.1 L664.0,765.9 L664.7,765.7 L665.3,765.5 L666.0,765.4 L666.7,765.2 L667.4,765.0 L668.0,764.8 L668.7,764.7 L669.4,764.5 L670.1,764.3 L670.7,764.2 L671.4,764.0 L672.1,763.9 L672.8,763.8 L673.5,763.6 L674.1,763.5 L674.8,763.4 L675.5,763.3 L676.2,763.2 L676.8,763.1 L677.5,763.0 L678.2,762.9 L678.9,762.8 L679.5,762.7 L680.2,762.6 L680.9,762.5 L681.6,762.5 L682.3,762.4 L682.9,762.4 L683.6,762.3 L684.3,762.3 L685.0,762.3 L685.6,762.2 L686.3,762.2 L687.0,762.2 L687.7,762.2 L688.3,762.2 L689.0,762.2 L689.7,762.2 L690.4,762.2 L691.1,762.3 L691.7,762.3 L692.4,762.3 L693.1,762.4 L693.8,762.4 L694.4,762.5 L695.1,762.6 L695.8,762.7 L696.5,762.7 L697.2,762.8 L697.8,762.9 L698.5,763.1 L699.2,763.2 L699.9,763.3 L700.5,763.4 L701.2,763.6 L701.9,763.7 L702.6,763.9 L703.2,764.1 L703.9,764.3 L704.6,764.5 L705.3,764.7 L706.0,764.9 L706.6,765.1 L707.3,765.3 L708.0,765.6 L708.7,765.8 L709.3,766.1 L710.0,766.4 L710.7,766.7 L711.4,767.0 L712.0,767.3 L712.7,767.6 L713.4,767.9 L714.1,768.2 L714.8,768.6 L715.4,768.9 L716.1,769.3 L716.8,769.7 L717.5,770.1 L718.1,770.5 L718.8,770.9 L719.5,771.3 L720.2,771.7 L720.8,772.2 L721.5,772.6 L722.2,773.1 L722.9,773.6 L723.6,774.1 L724.2,774.6 L724.9,775.1 L725.6,775.6 L726.3,776.1 L726.9,776.7 L727.6,777.2 L728.3,777.8 L729.0,778.4 L729.6,779.0 L730.3,779.6 L731.0,780.2 L731.7,780.8 L732.4,781.4 L733.0,782.1 L733.7,782.7 L734.4,783.4 L735.1,784.1 L735.7,784.8 L736.4,785.5 L737.1,786.2 L737.8,787.0 L738.4,787.7 L739.1,788.5 L739.8,789.3 L740.5,790.0 L741.2,790.9 L741.8,791.7 L742.5,792.5 L743.2,793.3 L743.9,794.2 L744.5,795.1 L745.2,796.0 L745.9,796.9 L746.6,797.8 L747.2,798.7 L747.9,799.7 L748.6,800.6 L749.3,801.6 L750.0,802.6 L750.6,803.6 L751.3,804.7 L752.0,805.7 L752.7,806.8 L753.3,807.9 L754.0,809.0 L754.7,810.1 L755.4,811.2 L756.0,812.4 L756.7,813.6 L757.4,814.8 L758.1,816.0 L758.8,817.3 L759.4,818.5 L760.1,819.8 L760.8,821.2 L761.5,822.5 L762.1,823.9 L762.8,825.2 L763.5,826.7 L764.2,828.1 L764.8,829.6 L765.5,831.1 L766.2,832.6 L766.9,834.1 L767.6,835.7 L768.2,837.3 L768.9,839.0 L769.6,840.6 L770.3,842.3 L770.9,844.0 L771.6,845.8 L772.3,847.6 L773.0,849.4 L773.6,851.3 L774.3,853.1 L775.0,855.0 L775.7,857.0 L776.4,858.9 L777.0,860.9 L777.7,863.0 L778.4,865.0 L779.1,867.1 L779.7,869.2 L780.4,871.3 L781.1,873.5 L781.8,875.6 L782.4,877.8 L783.1,880.0 L783.8,882.2 L784.5,884.5 L785.2,886.7 L785.8,888.9 L786.5,891.2 L787.2,893.5 L787.9,895.7 L788.5,898.0 L789.2,900.3 L789.9,902.6 L790.6,904.9 L791.3,907.2 L791.9,909.5 L792.6,911.9 L793.3,914.2 L794.0,916.5 L794.6,918.8 L795.3,921.2 L796.0,923.5 L796.7,925.9 L797.3,928.2 L798.0,930.5 L798.7,932.9 L799.4,935.2 L800.1,937.6 L800.7,939.9 L801.4,942.2 L802.1,944.6 L802.8,946.9 L803.4,949.2 L804.1,951.5 L804.8,953.8 L805.5,956.1 L806.1,958.4 L806.8,960.7 L807.5,963.0 L808.2,965.3 L808.9,967.5 L809.5,969.8 L810.2,972.0 L810.9,974.2 L811.6,976.5 L812.2,978.7 L812.9,980.9 L813.6,983.0 L814.3,985.2 L814.9,987.4 L815.6,989.5 L816.3,991.6 L817.0,993.8 L817.7,995.9 L818.3,998.0 L819.0,1000.0 L819.7,1002.1 L820.4,1004.2 L821.0,1006.2 L821.7,1008.2 L822.4,1010.3 L823.1,1012.3 L823.7,1014.2 L824.4,1016.2 L825.1,1018.2 L825.8,1020.1 L826.5,1022.1 L827.1,1024.0 L827.8,1025.9 L828.5,1027.8 L829.2,1029.7 L829.8,1031.6 L830.5,1033.4 L831.2,1035.3 L831.9,1037.1 L832.5,1038.9 L833.2,1040.8 L833.9,1042.6 L834.6,1044.3 L835.3,1046.1 L835.9,1047.8 L836.6,1049.6 L837.3,1051.3 L838.0,1053.0 L838.6,1054.6 L839.3,1056.3 L840.0,1057.9 L840.7,1059.4 L841.3,1061.0 L842.0,1062.5 L842.7,1064.0 L843.4,1065.5 L844.1,1067.0 L844.7,1068.4 L845.4,1069.8 L846.1,1071.1 L846.8,1072.4 L847.4,1073.8 L848.1,1075.0 L848.8,1076.3 L849.5,1077.5 L850.1,1078.7 L850.8,1079.9 L851.5,1081.0 L852.2,1082.1 L852.9,1083.2 L853.5,1084.3 L854.2,1085.3 L854.9,1086.3 L855.6,1087.3 L856.2,1088.2 L856.9,1089.2 L857.6,1090.1 L858.3,1091.0 L858.9,1091.8 L859.6,1092.7 L860.3,1093.5 L861.0,1094.3 L861.7,1095.0 L862.3,1095.8 L863.0,1096.5 L863.7,1097.2 L864.4,1097.9 L865.0,1098.6 L865.7,1099.2 L866.4,1099.8 L867.1,1100.4 L867.7,1101.0 L868.4,1101.6 L869.1,1102.1 L869.8,1102.7 L870.5,1103.2 L871.1,1103.7 L871.8,1104.1 L872.5,1104.6 L873.2,1105.0 L873.8,1105.5 L874.5,1105.9 L875.2,1106.3 L875.9,1106.6 L876.6,1107.0 L877.2,1107.4 L877.9,1107.7 L878.6,1108.0 L879.3,1108.3 L879.9,1108.6 L880.6,1108.9 L881.3,1109.1 L882.0,1109.4 L882.6,1109.6 L883.3,1109.8 L884.0,1110.0 L884.7,1110.2 L885.4,1110.4 L886.0,1110.6 L886.7,1110.7 L887.4,1110.9 L888.1,1111.0 L888.7,1111.1 L889.4,1111.2 L890.1,1111.3 L890.8,1111.4 L891.4,1111.5 L892.1,1111.5 L892.8,1111.6 L893.5,1111.6 L894.2,1111.6 L894.8,1111.6 L895.5,1111.7 L896.2,1111.7 L896.9,1111.6 L897.5,1111.6 L898.2,1111.6 L898.9,1111.5 L899.6,1111.5 L900.2,1111.4 L900.9,1111.4 L901.6,1111.3 L902.3,1111.2 L903.0,1111.1 L903.6,1111.0 L904.3,1110.9 L905.0,1110.7 L905.7,1110.6 L906.3,1110.5 L907.0,1110.3 L907.7,1110.2 L908.4,1110.0 L909.0,1109.8 L909.7,1109.6 L910.4,1109.4 L911.1,1109.2 L911.8,1109.0 L912.4,1108.8 L913.1,1108.6 L913.8,1108.4 L914.5,1108.1 L915.1,1107.9 L915.8,1107.7 L916.5,1107.4 L917.2,1107.1 L917.8,1106.9 L918.5,1106.6 L919.2,1106.3" fill="none" stroke="#77AC30" stroke-width="6.21" stroke-dasharray="27.600 27.600" stroke-dashoffset="54.94"/>
<text x="95.6" y="1200.9" class="tl" style="font-size:33.90px" text-anchor="end">0</text>
<text x="95.6" y="1090.9" class="tl" style="font-size:33.90px" text-anchor="end">0.2</text>
<text x="95.6" y="980.9" class="tl" style="font-size:33.90px" text-anchor="end">0.4</text>
<text x="95.6" y="870.9" class="tl" style="font-size:33.90px" text-anchor="end">0.6</text>
<text x="95.6" y="760.9" class="tl" style="font-size:33.90px" text-anchor="end">0.8</text>
<text x="95.6" y="650.9" class="tl" style="font-size:33.90px" text-anchor="end">1</text>
<text x="107.5" y="1232.0" class="tl" style="font-size:33.90px" text-anchor="middle">0</text>
<text x="378.1" y="1232.0" class="tl" style="font-size:33.90px" text-anchor="middle">5</text>
<text x="648.6" y="1232.0" class="tl" style="font-size:33.90px" text-anchor="middle">10</text>
<text x="919.1" y="1232.0" class="tl" style="font-size:33.90px" text-anchor="middle">15</text>
<rect x="111.4" y="1288.5" width="807.8000000000001" height="531.5" fill="none" stroke="#262626" stroke-width="4.6"/>
<path d="M111.4,1820.1h10.5M919.2,1820.1h-10.5M111.4,1731.4h10.5M919.2,1731.4h-10.5M111.4,1642.6h10.5M919.2,1642.6h-10.5M111.4,1553.9h10.5M919.2,1553.9h-10.5M111.4,1465.1h10.5M919.2,1465.1h-10.5M111.4,1376.4h10.5M919.2,1376.4h-10.5M111.4,1820.0v-10.5M111.4,1288.5v10.5M380.6,1820.0v-10.5M380.6,1288.5v10.5M649.9,1820.0v-10.5M649.9,1288.5v10.5M919.1,1820.0v-10.5M919.1,1288.5v10.5" stroke="#262626" stroke-width="4.4" fill="none"/>
<path d="M111.4,1598.2 L112.3,1608.6 L113.2,1618.9 L114.1,1629.1 L115.0,1639.2 L115.9,1649.2 L116.8,1658.9 L117.7,1668.3 L118.6,1677.5 L119.5,1686.4 L120.4,1695.0 L121.3,1703.2 L122.2,1711.1 L123.1,1718.6 L124.0,1725.7 L124.9,1732.4 L125.8,1738.8 L126.7,1744.9 L127.6,1750.5 L128.5,1755.8 L129.4,1760.8 L130.3,1765.4 L131.2,1769.8 L132.1,1773.8 L133.0,1777.5 L133.9,1781.0 L134.8,1784.2 L135.7,1787.1 L136.6,1789.9 L137.5,1792.4 L138.4,1794.7 L139.3,1796.9 L140.2,1798.9 L141.1,1800.7 L142.0,1802.3 L142.8,1803.9 L143.7,1805.3 L144.6,1806.5 L145.5,1807.7 L146.4,1808.8 L147.3,1809.8 L148.2,1810.7 L149.1,1811.5 L150.0,1812.3 L150.9,1812.9 L151.8,1813.6 L152.7,1814.2 L153.6,1814.7 L154.5,1815.2 L155.4,1815.6 L156.3,1816.0 L157.2,1816.4 L158.1,1816.7 L159.0,1817.0 L159.9,1817.3 L160.8,1817.5 L161.7,1817.7 L162.6,1818.0 L163.5,1818.1 L164.4,1818.3 L165.3,1818.5 L166.2,1818.6 L167.1,1818.8 L168.0,1818.9 L168.9,1819.0 L169.8,1819.1 L170.7,1819.2 L171.6,1819.3 L172.5,1819.3 L173.4,1819.4 L174.3,1819.5 L175.2,1819.5 L176.1,1819.6 L177.0,1819.6 L177.9,1819.7 L178.8,1819.7 L179.7,1819.7 L180.6,1819.8 L181.5,1819.8 L182.4,1819.8 L183.3,1819.8 L184.2,1819.9 L185.1,1819.9 L186.0,1819.9 L186.9,1819.9 L187.8,1819.9 L188.7,1820.0 L189.6,1820.0 L190.5,1820.0 L191.4,1820.0 L192.3,1820.0 L193.2,1820.0 L194.1,1820.0 L195.0,1820.0 L195.9,1820.0 L196.8,1820.0 L197.7,1820.0 L198.6,1820.0 L199.5,1820.1 L200.4,1820.1 L201.3,1820.1 L202.2,1820.1 L203.1,1820.1 L204.0,1820.1 L204.8,1820.1 L205.7,1820.1 L206.6,1820.1 L207.5,1820.1 L208.4,1820.1 L209.3,1820.1 L210.2,1820.1 L211.1,1820.1 L212.0,1820.1 L212.9,1820.1 L213.8,1820.1 L214.7,1820.1 L215.6,1820.1 L216.5,1820.1 L217.4,1820.1 L218.3,1820.1 L219.2,1820.1 L220.1,1820.1 L221.0,1820.1 L221.9,1820.1 L222.8,1820.1 L223.7,1820.1 L224.6,1820.1 L225.5,1820.1 L226.4,1820.1 L227.3,1820.1 L228.2,1820.1 L229.1,1820.1 L230.0,1820.1 L230.9,1820.1 L231.8,1820.1 L232.7,1820.1 L233.6,1820.1 L234.5,1820.1 L235.4,1820.1 L236.3,1820.1 L237.2,1820.1 L238.1,1820.1 L239.0,1820.1 L239.9,1820.1 L240.8,1820.1 L241.7,1820.1 L242.6,1820.1 L243.5,1820.1 L244.4,1820.1 L245.3,1820.1 L246.2,1820.1 L247.1,1820.1 L248.0,1820.1 L248.9,1820.1 L249.8,1820.1 L250.7,1820.1 L251.6,1820.1 L252.5,1820.1 L253.4,1820.1 L254.3,1820.1 L255.2,1820.1 L256.1,1820.1 L257.0,1820.1 L257.9,1820.1 L258.8,1820.1 L259.7,1820.1 L260.6,1820.1 L261.5,1820.1 L262.4,1820.1 L263.3,1820.1 L264.2,1820.1 L265.1,1820.1 L266.0,1820.1 L266.8,1820.1 L267.7,1820.1 L268.6,1820.1 L269.5,1820.1 L270.4,1820.1 L271.3,1820.1 L272.2,1820.1 L273.1,1820.1 L274.0,1820.1 L274.9,1820.1 L275.8,1820.1 L276.7,1820.1 L277.6,1820.1 L278.5,1820.1 L279.4,1820.1 L280.3,1820.1 L281.2,1820.1 L282.1,1820.1 L283.0,1820.1 L283.9,1820.1 L284.8,1820.1 L285.7,1820.1 L286.6,1820.1 L287.5,1820.1 L288.4,1820.1 L289.3,1820.1 L290.2,1820.1 L291.1,1820.1 L292.0,1820.1 L292.9,1820.1 L293.8,1820.1 L294.7,1820.1 L295.6,1820.1 L296.5,1820.1 L297.4,1820.1 L298.3,1820.1 L299.2,1820.1 L300.1,1820.1 L301.0,1820.1 L301.9,1820.1 L302.8,1820.1 L303.7,1820.1 L304.6,1820.1 L305.5,1820.1 L306.4,1820.1 L307.3,1820.1 L308.2,1820.1 L309.1,1820.1 L310.0,1820.1 L310.9,1820.1 L311.8,1820.1 L312.7,1820.1 L313.6,1820.1 L314.5,1820.1 L315.4,1820.1 L316.3,1820.1 L317.2,1820.1 L318.1,1820.1 L319.0,1820.1 L319.9,1820.1 L320.8,1820.1 L321.7,1820.1 L322.6,1820.1 L323.5,1820.1 L324.4,1820.1 L325.3,1820.1 L326.2,1820.1 L327.1,1820.1 L328.0,1820.1 L328.9,1820.1 L329.7,1820.1 L330.6,1820.1 L331.5,1820.1 L332.4,1820.1 L333.3,1820.1 L334.2,1820.1 L335.1,1820.1 L336.0,1820.1 L336.9,1820.1 L337.8,1820.1 L338.7,1820.1 L339.6,1820.1 L340.5,1820.1 L341.4,1820.1 L342.3,1820.1 L343.2,1820.1 L344.1,1820.1 L345.0,1820.1 L345.9,1820.1 L346.8,1820.1 L347.7,1820.1 L348.6,1820.1 L349.5,1820.1 L350.4,1820.1 L351.3,1820.1 L352.2,1820.1 L353.1,1820.1 L354.0,1820.1 L354.9,1820.1 L355.8,1820.1 L356.7,1820.1 L357.6,1820.1 L358.5,1820.1 L359.4,1820.1 L360.3,1820.1 L361.2,1820.1 L362.1,1820.1 L363.0,1820.1 L363.9,1820.1 L364.8,1820.1 L365.7,1820.1 L366.6,1820.1 L367.5,1820.1 L368.4,1820.1 L369.3,1820.1 L370.2,1820.1 L371.1,1820.1 L372.0,1820.1 L372.9,1820.1 L373.8,1820.1 L374.7,1820.1 L375.6,1820.1 L376.5,1820.1 L377.4,1820.1 L378.3,1820.1 L379.2,1820.1 L380.1,1820.1 L381.0,1820.1 L381.9,1820.1 L382.8,1820.1 L383.7,1820.1 L384.6,1820.1 L385.5,1820.1 L386.4,1820.1 L387.3,1820.1 L388.2,1820.1 L389.1,1820.1 L390.0,1820.1 L390.9,1820.1 L391.7,1820.1 L392.6,1820.1 L393.5,1820.1 L394.4,1820.1 L395.3,1820.1 L396.2,1820.1 L397.1,1820.1 L398.0,1820.1 L398.9,1820.1 L399.8,1820.1 L400.7,1820.1 L401.6,1820.1 L402.5,1820.1 L403.4,1820.1 L404.3,1820.1 L405.2,1820.1 L406.1,1820.1 L407.0,1820.1 L407.9,1820.1 L408.8,1820.1 L409.7,1820.1 L410.6,1820.1 L411.5,1820.1 L412.4,1820.1 L413.3,1820.1 L414.2,1820.1 L415.1,1820.1 L416.0,1820.1 L416.9,1820.1 L417.8,1820.1 L418.7,1820.1 L419.6,1820.1 L420.5,1820.1 L421.4,1820.1 L422.3,1820.1 L423.2,1820.1 L424.1,1820.1 L425.0,1820.1 L425.9,1820.1 L426.8,1820.1 L427.7,1820.1 L428.6,1820.1 L429.5,1820.1 L430.4,1820.1 L431.3,1820.1 L432.2,1820.1 L433.1,1820.1 L434.0,1820.1 L434.9,1820.1 L435.8,1820.1 L436.7,1820.1 L437.6,1820.1 L438.5,1820.1 L439.4,1820.1 L440.3,1820.1 L441.2,1820.1 L442.1,1820.1 L443.0,1820.1 L443.9,1820.1 L444.8,1820.1 L445.7,1820.1 L446.6,1820.1 L447.5,1820.1 L448.4,1820.1 L449.3,1820.1 L450.2,1820.1 L451.1,1820.1 L452.0,1820.1 L452.9,1820.1 L453.7,1820.1 L454.6,1820.1 L455.5,1820.1 L456.4,1820.1 L457.3,1820.1 L458.2,1820.1 L459.1,1820.1 L460.0,1820.1 L460.9,1820.1 L461.8,1820.1 L462.7,1820.1 L463.6,1820.1 L464.5,1820.1 L465.4,1820.1 L466.3,1820.1 L467.2,1820.1 L468.1,1820.1 L469.0,1820.1 L469.9,1820.1 L470.8,1820.1 L471.7,1820.1 L472.6,1820.1 L473.5,1820.1 L474.4,1820.1 L475.3,1820.1 L476.2,1820.1 L477.1,1820.1 L478.0,1820.1 L478.9,1820.1 L479.8,1820.1 L480.7,1820.1 L481.6,1820.1 L482.5,1820.1 L483.4,1820.1 L484.3,1820.1 L485.2,1820.1 L486.1,1820.1 L487.0,1820.1 L487.9,1820.1 L488.8,1820.1 L489.7,1820.1 L490.6,1820.1 L491.5,1820.1 L492.4,1820.1 L493.3,1820.1 L494.2,1820.1 L495.1,1820.1 L496.0,1820.1 L496.9,1820.1 L497.8,1820.1 L498.7,1820.1 L499.6,1820.1 L500.5,1820.1 L501.4,1820.1 L502.3,1820.1 L503.2,1820.1 L504.1,1820.1 L505.0,1820.1 L505.9,1820.1 L506.8,1820.1 L507.7,1820.1 L508.6,1820.1 L509.5,1820.1 L510.4,1820.1 L511.3,1820.1 L512.2,1820.1 L513.1,1820.1 L514.0,1820.1 L514.9,1820.1 L515.7,1820.1 L516.6,1820.1 L517.5,1820.1 L518.4,1820.1 L519.3,1820.1 L520.2,1820.1 L521.1,1820.1 L522.0,1820.1 L522.9,1820.1 L523.8,1820.1 L524.7,1820.1 L525.6,1820.1 L526.5,1820.1 L527.4,1820.1 L528.3,1820.1 L529.2,1820.1 L530.1,1820.1 L531.0,1820.1 L531.9,1820.1 L532.8,1820.1 L533.7,1820.1 L534.6,1820.1 L535.5,1820.1 L536.4,1820.1 L537.3,1820.1 L538.2,1820.1 L539.1,1820.1 L540.0,1820.1 L540.9,1820.1 L541.8,1820.1 L542.7,1820.1 L543.6,1820.1 L544.5,1820.1 L545.4,1820.1 L546.3,1820.1 L547.2,1820.1 L548.1,1820.1 L549.0,1820.1 L549.9,1820.1 L550.8,1820.1 L551.7,1820.1 L552.6,1820.1 L553.5,1820.1 L554.4,1820.1 L555.3,1820.1 L556.2,1820.1 L557.1,1820.1 L558.0,1820.1 L558.9,1820.1 L559.8,1820.1 L560.7,1820.1 L561.6,1820.1 L562.5,1820.1 L563.4,1820.1 L564.3,1820.1 L565.2,1820.1 L566.1,1820.1 L567.0,1820.1 L567.9,1820.1 L568.8,1820.1 L569.7,1820.1 L570.6,1820.1 L571.5,1820.1 L572.4,1820.1 L573.3,1820.1 L574.2,1820.1 L575.1,1820.1 L576.0,1820.1 L576.9,1820.1 L577.7,1820.1 L578.6,1820.1 L579.5,1820.1 L580.4,1820.1 L581.3,1820.1 L582.2,1820.1 L583.1,1820.1 L584.0,1820.1 L584.9,1820.1 L585.8,1820.1 L586.7,1820.1 L587.6,1820.1 L588.5,1820.1 L589.4,1820.1 L590.3,1820.1 L591.2,1820.1 L592.1,1820.1 L593.0,1820.1 L593.9,1820.1 L594.8,1820.1 L595.7,1820.1 L596.6,1820.1 L597.5,1820.1 L598.4,1820.1 L599.3,1820.1 L600.2,1820.1 L601.1,1820.1 L602.0,1820.1 L602.9,1820.1 L603.8,1820.1 L604.7,1820.1 L605.6,1820.1 L606.5,1820.1 L607.4,1820.1 L608.3,1820.1 L609.2,1820.1 L610.1,1820.1 L611.0,1820.1 L611.9,1820.1 L612.8,1820.1 L613.7,1820.1 L614.6,1820.1 L615.5,1820.1 L616.4,1820.1 L617.3,1820.1 L618.2,1820.1 L619.1,1820.1 L620.0,1820.1 L620.9,1820.1 L621.8,1820.1 L622.7,1820.1 L623.6,1820.1 L624.5,1820.1 L625.4,1820.1 L626.3,1820.1 L627.2,1820.1 L628.1,1820.1 L629.0,1820.1 L629.9,1820.1 L630.8,1820.1 L631.7,1820.1 L632.6,1820.1 L633.5,1820.1 L634.4,1820.1 L635.3,1820.1 L636.2,1820.1 L637.1,1820.1 L638.0,1820.1 L638.9,1820.1 L639.7,1820.1 L640.6,1820.1 L641.5,1820.1 L642.4,1820.1 L643.3,1820.1 L644.2,1820.1 L645.1,1820.1 L646.0,1820.1 L646.9,1820.1 L647.8,1820.1 L648.7,1820.1 L649.6,1820.1 L650.5,1820.1 L651.4,1820.1 L652.3,1820.1 L653.2,1820.1 L654.1,1820.1 L655.0,1820.1 L655.9,1820.1 L656.8,1820.1 L657.7,1820.1 L658.6,1820.1 L659.5,1820.1 L660.4,1820.1 L661.3,1820.1 L662.2,1820.1 L663.1,1820.1 L664.0,1820.1 L664.9,1820.1 L665.8,1820.1 L666.7,1820.1 L667.6,1820.1 L668.5,1820.1 L669.4,1820.1 L670.3,1820.1 L671.2,1820.1 L672.1,1820.1 L673.0,1820.1 L673.9,1820.1 L674.8,1820.1 L675.7,1820.1 L676.6,1820.1 L677.5,1820.1 L678.4,1820.1 L679.3,1820.1 L680.2,1820.1 L681.1,1820.1 L682.0,1820.1 L682.9,1820.1 L683.8,1820.1 L684.7,1820.1 L685.6,1820.1 L686.5,1820.1 L687.4,1820.1 L688.3,1820.1 L689.2,1820.1 L690.1,1820.1 L691.0,1820.1 L691.9,1820.1 L692.8,1820.1 L693.7,1820.1 L694.6,1820.1 L695.5,1820.1 L696.4,1820.1 L697.3,1820.1 L698.2,1820.1 L699.1,1820.1 L700.0,1820.1 L700.9,1820.1 L701.7,1820.1 L702.6,1820.1 L703.5,1820.1 L704.4,1820.1 L705.3,1820.1 L706.2,1820.1 L707.1,1820.1 L708.0,1820.1 L708.9,1820.1 L709.8,1820.1 L710.7,1820.1 L711.6,1820.1 L712.5,1820.1 L713.4,1820.1 L714.3,1820.1 L715.2,1820.1 L716.1,1820.1 L717.0,1820.1 L717.9,1820.1 L718.8,1820.1 L719.7,1820.1 L720.6,1820.1 L721.5,1820.1 L722.4,1820.1 L723.3,1820.1 L724.2,1820.1 L725.1,1820.1 L726.0,1820.1 L726.9,1820.1 L727.8,1820.1 L728.7,1820.1 L729.6,1820.1 L730.5,1820.1 L731.4,1820.1 L732.3,1820.1 L733.2,1820.1 L734.1,1820.1 L735.0,1820.1 L735.9,1820.1 L736.8,1820.1 L737.7,1820.1 L738.6,1820.1 L739.5,1820.1 L740.4,1820.1 L741.3,1820.1 L742.2,1820.1 L743.1,1820.1 L744.0,1820.1 L744.9,1820.1 L745.8,1820.1 L746.7,1820.1 L747.6,1820.1 L748.5,1820.1 L749.4,1820.1 L750.3,1820.1 L751.2,1820.1 L752.1,1820.1 L753.0,1820.1 L753.9,1820.1 L754.8,1820.1 L755.7,1820.1 L756.6,1820.1 L757.5,1820.1 L758.4,1820.1 L759.3,1820.1 L760.2,1820.1 L761.1,1820.1 L762.0,1820.1 L762.9,1820.1 L763.8,1820.1 L764.6,1820.1 L765.5,1820.1 L766.4,1820.1 L767.3,1820.1 L768.2,1820.1 L769.1,1820.1 L770.0,1820.1 L770.9,1820.1 L771.8,1820.1 L772.7,1820.1 L773.6,1820.1 L774.5,1820.1 L775.4,1820.1 L776.3,1820.1 L777.2,1820.1 L778.1,1820.1 L779.0,1820.1 L779.9,1820.1 L780.8,1820.1 L781.7,1820.1 L782.6,1820.1 L783.5,1820.1 L784.4,1820.1 L785.3,1820.1 L786.2,1820.1 L787.1,1820.1 L788.0,1820.1 L788.9,1820.1 L789.8,1820.1 L790.7,1820.1 L791.6,1820.1 L792.5,1820.1 L793.4,1820.1 L794.3,1820.1 L795.2,1820.1 L796.1,1820.1 L797.0,1820.1 L797.9,1820.1 L798.8,1820.1 L799.7,1820.1 L800.6,1820.1 L801.5,1820.1 L802.4,1820.1 L803.3,1820.1 L804.2,1820.1 L805.1,1820.1 L806.0,1820.1 L806.9,1820.1 L807.8,1820.1 L808.7,1820.1 L809.6,1820.1 L810.5,1820.1 L811.4,1820.1 L812.3,1820.1 L813.2,1820.1 L814.1,1820.1 L815.0,1820.1 L815.9,1820.1 L816.8,1820.1 L817.7,1820.1 L818.6,1820.1 L819.5,1820.1 L820.4,1820.1 L821.3,1820.1 L822.2,1820.1 L823.1,1820.1 L824.0,1820.1 L824.9,1820.1 L825.8,1820.1 L826.6,1820.1 L827.5,1820.1 L828.4,1820.1 L829.3,1820.1 L830.2,1820.1 L831.1,1820.1 L832.0,1820.1 L832.9,1820.1 L833.8,1820.1 L834.7,1820.1 L835.6,1820.1 L836.5,1820.1 L837.4,1820.1 L838.3,1820.1 L839.2,1820.1 L840.1,1820.1 L841.0,1820.1 L841.9,1820.1 L842.8,1820.1 L843.7,1820.1 L844.6,1820.1 L845.5,1820.1 L846.4,1820.1 L847.3,1820.1 L848.2,1820.1 L849.1,1820.1 L850.0,1820.1 L850.9,1820.1 L851.8,1820.1 L852.7,1820.1 L853.6,1820.1 L854.5,1820.1 L855.4,1820.1 L856.3,1820.1 L857.2,1820.1 L858.1,1820.1 L859.0,1820.1 L859.9,1820.1 L860.8,1820.1 L861.7,1820.1 L862.6,1820.1 L863.5,1820.1 L864.4,1820.1 L865.3,1820.1 L866.2,1820.1 L867.1,1820.1 L868.0,1820.1 L868.9,1820.1 L869.8,1820.1 L870.7,1820.1 L871.6,1820.1 L872.5,1820.1 L873.4,1820.1 L874.3,1820.1 L875.2,1820.1 L876.1,1820.1 L877.0,1820.1 L877.9,1820.1 L878.8,1820.1 L879.7,1820.1 L880.6,1820.1 L881.5,1820.1 L882.4,1820.1 L883.3,1820.1 L884.2,1820.1 L885.1,1820.1 L886.0,1820.1 L886.9,1820.1 L887.8,1820.1 L888.6,1820.1 L889.5,1820.1 L890.4,1820.1 L891.3,1820.1 L892.2,1820.1 L893.1,1820.1 L894.0,1820.1 L894.9,1820.1 L895.8,1820.1 L896.7,1820.1 L897.6,1820.1 L898.5,1820.1 L899.4,1820.1 L900.3,1820.1 L901.2,1820.1 L902.1,1820.1 L903.0,1820.1 L903.9,1820.1 L904.8,1820.1 L905.7,1820.1 L906.6,1820.1 L907.5,1820.1 L908.4,1820.1 L909.3,1820.1 L910.2,1820.1 L911.1,1820.1 L912.0,1820.1 L912.9,1820.1 L913.8,1820.1 L914.7,1820.1 L915.6,1820.1 L916.5,1820.1 L917.4,1820.1 L918.3,1820.1 L919.2,1820.1" fill="none" stroke="#0072BD" stroke-width="3.96" stroke-linejoin="round"/>
<g>
<use href="#ast" transform="translate(111.4,1552.2) scale(1.0)"/>
<use href="#ast" transform="translate(112.2,1545.7) scale(1.0)"/>
<use href="#ast" transform="translate(113.2,1540.1) scale(1.0)"/>
<use href="#ast" transform="translate(114.4,1534.9) scale(1.0)"/>
<use href="#ast" transform="translate(115.8,1530.2) scale(1.0)"/>
<use href="#ast" transform="translate(117.3,1525.7) scale(1.0)"/>
<use href="#ast" transform="translate(118.8,1521.5) scale(1.0)"/>
<use href="#ast" transform="translate(120.5,1517.6) scale(1.0)"/>
<use href="#ast" transform="translate(122.2,1513.8) scale(1.0)"/>
<use href="#ast" transform="translate(124.0,1510.1) scale(1.0)"/>
<use href="#ast" transform="translate(125.1,1507.9) scale(1.0)"/>
<use href="#ast" transform="translate(126.3,1505.8) scale(1.0)"/>
<use href="#ast" transform="translate(127.5,1503.7) scale(1.0)"/>
<use href="#ast" transform="translate(128.7,1501.7) scale(1.0)"/>
<use href="#ast" transform="translate(129.9,1499.6) scale(1.0)"/>
<use href="#ast" transform="translate(131.1,1497.7) scale(1.0)"/>
<use href="#ast" transform="translate(132.3,1495.7) scale(1.0)"/>
<use href="#ast" transform="translate(133.6,1493.8) scale(1.0)"/>
<use href="#ast" transform="translate(134.8,1491.9) scale(1.0)"/>
<use href="#ast" transform="translate(136.1,1490.0) scale(1.0)"/>
<use href="#ast" transform="translate(137.4,1488.2) scale(1.0)"/>
<use href="#ast" transform="translate(138.7,1486.4) scale(1.0)"/>
<use href="#ast" transform="translate(140.0,1484.6) scale(1.0)"/>
<use href="#ast" transform="translate(141.2,1482.8) scale(1.0)"/>
<use href="#ast" transform="translate(142.5,1481.1) scale(1.0)"/>
<use href="#ast" transform="translate(143.9,1479.3) scale(1.0)"/>
<use href="#ast" transform="translate(145.2,1477.6) scale(1.0)"/>
<use href="#ast" transform="translate(146.5,1475.9) scale(1.0)"/>
<use href="#ast" transform="translate(147.8,1474.2) scale(1.0)"/>
<use href="#ast" transform="translate(149.1,1472.5) scale(1.0)"/>
<use href="#ast" transform="translate(150.4,1470.8) scale(1.0)"/>
<use href="#ast" transform="translate(151.8,1469.2) scale(1.0)"/>
<use href="#ast" transform="translate(153.1,1467.5) scale(1.0)"/>
<use href="#ast" transform="translate(154.4,1465.9) scale(1.0)"/>
<use href="#ast" transform="translate(155.7,1464.2) scale(1.0)"/>
<use href="#ast" transform="translate(157.0,1462.6) scale(1.0)"/>
<use href="#ast" transform="translate(158.4,1460.9) scale(1.0)"/>
<use href="#ast" transform="translate(159.7,1459.3) scale(1.0)"/>
<use href="#ast" transform="translate(161.0,1457.7) scale(1.0)"/>
<use href="#ast" transform="translate(162.3,1456.1) scale(1.0)"/>
<use href="#ast" transform="translate(163.6,1454.5) scale(1.0)"/>
<use href="#ast" transform="translate(164.9,1452.8) scale(1.0)"/>
<use href="#ast" transform="translate(166.2,1451.2) scale(1.0)"/>
<use href="#ast" transform="translate(167.5,1449.6) scale(1.0)"/>
<use href="#ast" transform="translate(168.8,1448.0) scale(1.0)"/>
<use href="#ast" transform="translate(170.1,1446.3) scale(1.0)"/>
<use href="#ast" transform="translate(171.4,1444.7) scale(1.0)"/>
<use href="#ast" transform="translate(172.7,1443.1) scale(1.0)"/>
<use href="#ast" transform="translate(174.0,1441.4) scale(1.0)"/>
<use href="#ast" transform="translate(175.3,1439.8) scale(1.0)"/>
<use href="#ast" transform="translate(176.6,1438.1) scale(1.0)"/>
<use href="#ast" transform="translate(177.9,1436.5) scale(1.0)"/>
<use href="#ast" transform="translate(179.2,1434.8) scale(1.0)"/>
<use href="#ast" transform="translate(180.6,1433.2) scale(1.0)"/>
<use href="#ast" transform="translate(182.0,1431.6) scale(1.0)"/>
<use href="#ast" transform="translate(183.3,1429.9) scale(1.0)"/>
<use href="#ast" transform="translate(184.7,1428.3) scale(1.0)"/>
<use href="#ast" transform="translate(186.1,1426.6) scale(1.0)"/>
<use href="#ast" transform="translate(187.6,1425.0) scale(1.0)"/>
<use href="#ast" transform="translate(189.0,1423.4) scale(1.0)"/>
<use href="#ast" transform="translate(190.5,1421.8) scale(1.0)"/>
<use href="#ast" transform="translate(192.0,1420.2) scale(1.0)"/>
<use href="#ast" transform="translate(193.5,1418.6) scale(1.0)"/>
<use href="#ast" transform="translate(195.1,1417.0) scale(1.0)"/>
<use href="#ast" transform="translate(196.7,1415.4) scale(1.0)"/>
<use href="#ast" transform="translate(198.3,1413.8) scale(1.0)"/>
<use href="#ast" transform="translate(199.9,1412.3) scale(1.0)"/>
<use href="#ast" transform="translate(201.6,1410.8) scale(1.0)"/>
<use href="#ast" transform="translate(203.3,1409.3) scale(1.0)"/>
<use href="#ast" transform="translate(205.1,1407.9) scale(1.0)"/>
<use href="#ast" transform="translate(206.8,1406.5) scale(1.0)"/>
<use href="#ast" transform="translate(208.7,1405.1) scale(1.0)"/>
<use href="#ast" transform="translate(210.5,1403.7) scale(1.0)"/>
<use href="#ast" transform="translate(212.4,1402.4) scale(1.0)"/>
<use href="#ast" transform="translate(214.3,1401.1) scale(1.0)"/>
<use href="#ast" transform="translate(216.3,1399.8) scale(1.0)"/>
<use href="#ast" transform="translate(218.3,1398.5) scale(1.0)"/>
<use href="#ast" transform="translate(220.4,1397.3) scale(1.0)"/>
<use href="#ast" transform="translate(222.4,1396.1) scale(1.0)"/>
<use href="#ast" transform="translate(224.5,1395.0) scale(1.0)"/>
<use href="#ast" transform="translate(226.7,1393.8) scale(1.0)"/>
<use href="#ast" transform="translate(228.8,1392.8) scale(1.0)"/>
<use href="#ast" transform="translate(231.0,1391.7) scale(1.0)"/>
<use href="#ast" transform="translate(233.2,1390.7) scale(1.0)"/>
<use href="#ast" transform="translate(235.5,1389.7) scale(1.0)"/>
<use href="#ast" transform="translate(237.7,1388.8) scale(1.0)"/>
<use href="#ast" transform="translate(240.0,1387.8) scale(1.0)"/>
<use href="#ast" transform="translate(243.2,1386.6) scale(1.0)"/>
<use href="#ast" transform="translate(246.4,1385.5) scale(1.0)"/>
<use href="#ast" transform="translate(249.7,1384.5) scale(1.0)"/>
<use href="#ast" transform="translate(253.0,1383.5) scale(1.0)"/>
<use href="#ast" transform="translate(256.3,1382.5) scale(1.0)"/>
<use href="#ast" transform="translate(259.6,1381.7) scale(1.0)"/>
<use href="#ast" transform="translate(263.0,1380.9) scale(1.0)"/>
<use href="#ast" transform="translate(268.6,1379.7) scale(1.0)"/>
<use href="#ast" transform="translate(274.2,1378.7) scale(1.0)"/>
<use href="#ast" transform="translate(279.8,1377.9) scale(1.0)"/>
<use href="#ast" transform="translate(285.3,1377.2) scale(1.0)"/>
<use href="#ast" transform="translate(290.9,1376.6) scale(1.0)"/>
<use href="#ast" transform="translate(296.5,1376.1) scale(1.0)"/>
<use href="#ast" transform="translate(302.1,1375.7) scale(1.0)"/>
<use href="#ast" transform="translate(307.7,1375.5) scale(1.0)"/>
<use href="#ast" transform="translate(313.2,1375.3) scale(1.0)"/>
<use href="#ast" transform="translate(318.8,1375.2) scale(1.0)"/>
<use href="#ast" transform="translate(324.4,1375.1) scale(1.0)"/>
<use href="#ast" transform="translate(330.0,1375.1) scale(1.0)"/>
<use href="#ast" transform="translate(335.5,1375.2) scale(1.0)"/>
<use href="#ast" transform="translate(341.0,1375.3) scale(1.0)"/>
<use href="#ast" transform="translate(346.5,1375.4) scale(1.0)"/>
<use href="#ast" transform="translate(352.0,1375.6) scale(1.0)"/>
<use href="#ast" transform="translate(357.5,1375.8) scale(1.0)"/>
<use href="#ast" transform="translate(363.0,1375.9) scale(1.0)"/>
<use href="#ast" transform="translate(368.5,1376.1) scale(1.0)"/>
<use href="#ast" transform="translate(374.1,1376.3) scale(1.0)"/>
<use href="#ast" transform="translate(379.6,1376.4) scale(1.0)"/>
<use href="#ast" transform="translate(385.1,1376.6) scale(1.0)"/>
<use href="#ast" transform="translate(390.6,1376.7) scale(1.0)"/>
<use href="#ast" transform="translate(396.1,1376.7) scale(1.0)"/>
<use href="#ast" transform="translate(401.6,1376.8) scale(1.0)"/>
<use href="#ast" transform="translate(407.1,1376.9) scale(1.0)"/>
<use href="#ast" transform="translate(412.6,1376.9) scale(1.0)"/>
<use href="#ast" transform="translate(418.1,1376.9) scale(1.0)"/>
<use href="#ast" transform="translate(423.6,1376.9) scale(1.0)"/>
<use href="#ast" transform="translate(429.1,1376.9) scale(1.0)"/>
<use href="#ast" transform="translate(434.6,1376.9) scale(1.0)"/>
<use href="#ast" transform="translate(440.1,1376.8) scale(1.0)"/>
<use href="#ast" transform="translate(445.6,1376.8) scale(1.0)"/>
<use href="#ast" transform="translate(451.1,1376.7) scale(1.0)"/>
<use href="#ast" transform="translate(456.7,1376.7) scale(1.0)"/>
<use href="#ast" transform="translate(462.2,1376.6) scale(1.0)"/>
<use href="#ast" transform="translate(467.7,1376.6) scale(1.0)"/>
<use href="#ast" transform="translate(473.2,1376.5) scale(1.0)"/>
<use href="#ast" transform="translate(478.7,1376.5) scale(1.0)"/>
<use href="#ast" transform="translate(484.2,1376.4) scale(1.0)"/>
<use href="#ast" transform="translate(489.7,1376.4) scale(1.0)"/>
<use href="#ast" transform="translate(495.2,1376.3) scale(1.0)"/>
<use href="#ast" transform="translate(500.7,1376.3) scale(1.0)"/>
<use href="#ast" transform="translate(506.2,1376.2) scale(1.0)"/>
<use href="#ast" transform="translate(511.7,1376.2) scale(1.0)"/>
<use href="#ast" transform="translate(517.2,1376.1) scale(1.0)"/>
<use href="#ast" transform="translate(522.7,1376.1) scale(1.0)"/>
<use href="#ast" transform="translate(528.2,1376.1) scale(1.0)"/>
<use href="#ast" transform="translate(533.7,1376.1) scale(1.0)"/>
<use href="#ast" transform="translate(539.2,1376.0) scale(1.0)"/>
<use href="#ast" transform="translate(544.8,1376.0) scale(1.0)"/>
<use href="#ast" transform="translate(550.3,1376.0) scale(1.0)"/>
<use href="#ast" transform="translate(555.8,1376.0) scale(1.0)"/>
<use href="#ast" transform="translate(561.3,1376.0) scale(1.0)"/>
<use href="#ast" transform="translate(566.8,1376.0) scale(1.0)"/>
<use href="#ast" transform="translate(572.3,1376.0) scale(1.0)"/>
<use href="#ast" transform="translate(577.8,1375.9) scale(1.0)"/>
<use href="#ast" transform="translate(583.3,1375.9) scale(1.0)"/>
<use href="#ast" transform="translate(588.8,1375.9) scale(1.0)"/>
<use href="#ast" transform="translate(594.3,1375.9) scale(1.0)"/>
<use href="#ast" transform="translate(599.8,1375.9) scale(1.0)"/>
<use href="#ast" transform="translate(605.3,1375.9) scale(1.0)"/>
<use href="#ast" transform="translate(610.8,1375.9) scale(1.0)"/>
<use href="#ast" transform="translate(616.3,1376.0) scale(1.0)"/>
<use href="#ast" transform="translate(621.8,1376.0) scale(1.0)"/>
<use href="#ast" transform="translate(627.4,1376.0) scale(1.0)"/>
<use href="#ast" transform="translate(632.9,1376.0) scale(1.0)"/>
<use href="#ast" transform="translate(638.4,1376.0) scale(1.0)"/>
<use href="#ast" transform="translate(643.9,1376.0) scale(1.0)"/>
<use href="#ast" transform="translate(649.4,1376.0) scale(1.0)"/>
<use href="#ast" transform="translate(654.9,1376.0) scale(1.0)"/>
<use href="#ast" transform="translate(660.4,1376.0) scale(1.0)"/>
<use href="#ast" transform="translate(665.9,1376.1) scale(1.0)"/>
<use href="#ast" transform="translate(671.4,1376.1) scale(1.0)"/>
<use href="#ast" transform="translate(676.9,1376.1) scale(1.0)"/>
<use href="#ast" transform="translate(682.4,1376.1) scale(1.0)"/>
<use href="#ast" transform="translate(687.9,1376.1) scale(1.0)"/>
<use href="#ast" transform="translate(693.4,1376.1) scale(1.0)"/>
<use href="#ast" transform="translate(698.9,1376.2) scale(1.0)"/>
<use href="#ast" transform="translate(704.4,1376.2) scale(1.0)"/>
<use href="#ast" transform="translate(710.0,1376.2) scale(1.0)"/>
<use href="#ast" transform="translate(715.5,1376.2) scale(1.0)"/>
<use href="#ast" transform="translate(721.0,1376.2) scale(1.0)"/>
<use href="#ast" transform="translate(726.5,1376.2) scale(1.0)"/>
<use href="#ast" transform="translate(732.0,1376.3) scale(1.0)"/>
<use href="#ast" transform="translate(737.5,1376.3) scale(1.0)"/>
<use href="#ast" transform="translate(743.0,1376.3) scale(1.0)"/>
<use href="#ast" transform="translate(748.5,1376.3) scale(1.0)"/>
<use href="#ast" transform="translate(754.0,1376.3) scale(1.0)"/>
<use href="#ast" transform="translate(759.5,1376.3) scale(1.0)"/>
<use href="#ast" transform="translate(765.0,1376.3) scale(1.0)"/>
<use href="#ast" transform="translate(770.5,1376.3) scale(1.0)"/>
<use href="#ast" transform="translate(776.0,1376.4) scale(1.0)"/>
<use href="#ast" transform="translate(781.5,1376.4) scale(1.0)"/>
<use href="#ast" transform="translate(787.0,1376.4) scale(1.0)"/>
<use href="#ast" transform="translate(792.5,1376.4) scale(1.0)"/>
<use href="#ast" transform="translate(798.1,1376.4) scale(1.0)"/>
<use href="#ast" transform="translate(803.6,1376.4) scale(1.0)"/>
<use href="#ast" transform="translate(809.1,1376.4) scale(1.0)"/>
<use href="#ast" transform="translate(814.6,1376.4) scale(1.0)"/>
<use href="#ast" transform="translate(820.1,1376.4) scale(1.0)"/>
<use href="#ast" transform="translate(825.6,1376.4) scale(1.0)"/>
<use href="#ast" transform="translate(831.1,1376.4) scale(1.0)"/>
<use href="#ast" transform="translate(836.6,1376.4) scale(1.0)"/>
<use href="#ast" transform="translate(842.1,1376.4) scale(1.0)"/>
<use href="#ast" transform="translate(847.6,1376.3) scale(1.0)"/>
<use href="#ast" transform="translate(853.1,1376.3) scale(1.0)"/>
<use href="#ast" transform="translate(858.6,1376.3) scale(1.0)"/>
<use href="#ast" transform="translate(864.1,1376.3) scale(1.0)"/>
<use href="#ast" transform="translate(869.6,1376.3) scale(1.0)"/>
<use href="#ast" transform="translate(875.1,1376.2) scale(1.0)"/>
<use href="#ast" transform="translate(880.7,1376.2) scale(1.0)"/>
<use href="#ast" transform="translate(886.2,1376.2) scale(1.0)"/>
<use href="#ast" transform="translate(891.7,1376.1) scale(1.0)"/>
<use href="#ast" transform="translate(897.2,1376.1) scale(1.0)"/>
<use href="#ast" transform="translate(902.7,1376.1) scale(1.0)"/>
<use href="#ast" transform="translate(908.2,1376.0) scale(1.0)"/>
<use href="#ast" transform="translate(913.7,1376.0) scale(1.0)"/>
<use href="#ast" transform="translate(919.2,1375.9) scale(1.0)"/>
</g><g>
<use href="#pls" transform="translate(111.4,1598.0) scale(1.0)"/>
<use href="#pls" transform="translate(112.2,1596.6) scale(1.0)"/>
<use href="#pls" transform="translate(113.2,1594.4) scale(1.0)"/>
<use href="#pls" transform="translate(114.4,1591.9) scale(1.0)"/>
<use href="#pls" transform="translate(115.8,1589.1) scale(1.0)"/>
<use href="#pls" transform="translate(117.3,1586.0) scale(1.0)"/>
<use href="#pls" transform="translate(118.8,1582.8) scale(1.0)"/>
<use href="#pls" transform="translate(120.5,1579.4) scale(1.0)"/>
<use href="#pls" transform="translate(122.2,1575.9) scale(1.0)"/>
<use href="#pls" transform="translate(124.0,1572.3) scale(1.0)"/>
<use href="#pls" transform="translate(125.1,1570.0) scale(1.0)"/>
<use href="#pls" transform="translate(126.3,1567.6) scale(1.0)"/>
<use href="#pls" transform="translate(127.5,1565.3) scale(1.0)"/>
<use href="#pls" transform="translate(128.7,1562.9) scale(1.0)"/>
<use href="#pls" transform="translate(129.9,1560.5) scale(1.0)"/>
<use href="#pls" transform="translate(131.1,1558.1) scale(1.0)"/>
<use href="#pls" transform="translate(132.3,1555.7) scale(1.0)"/>
<use href="#pls" transform="translate(133.6,1553.2) scale(1.0)"/>
<use href="#pls" transform="translate(134.8,1550.8) scale(1.0)"/>
<use href="#pls" transform="translate(136.1,1548.3) scale(1.0)"/>
<use href="#pls" transform="translate(137.4,1545.8) scale(1.0)"/>
<use href="#pls" transform="translate(138.7,1543.3) scale(1.0)"/>
<use href="#pls" transform="translate(140.0,1540.8) scale(1.0)"/>
<use href="#pls" transform="translate(141.2,1538.2) scale(1.0)"/>
<use href="#pls" transform="translate(142.5,1535.7) scale(1.0)"/>
<use href="#pls" transform="translate(143.9,1533.1) scale(1.0)"/>
<use href="#pls" transform="translate(145.2,1530.6) scale(1.0)"/>
<use href="#pls" transform="translate(146.5,1528.0) scale(1.0)"/>
<use href="#pls" transform="translate(147.8,1525.4) scale(1.0)"/>
<use href="#pls" transform="translate(149.1,1522.8) scale(1.0)"/>
<use href="#pls" transform="translate(150.4,1520.2) scale(1.0)"/>
<use href="#pls" transform="translate(151.8,1517.6) scale(1.0)"/>
<use href="#pls" transform="translate(153.1,1515.0) scale(1.0)"/>
<use href="#pls" transform="translate(154.4,1512.4) scale(1.0)"/>
<use href="#pls" transform="translate(155.7,1509.7) scale(1.0)"/>
<use href="#pls" transform="translate(157.0,1507.1) scale(1.0)"/>
<use href="#pls" transform="translate(158.4,1504.4) scale(1.0)"/>
<use href="#pls" transform="translate(159.7,1501.8) scale(1.0)"/>
<use href="#pls" transform="translate(161.0,1499.1) scale(1.0)"/>
<use href="#pls" transform="translate(162.3,1496.4) scale(1.0)"/>
<use href="#pls" transform="translate(163.6,1493.8) scale(1.0)"/>
<use href="#pls" transform="translate(164.9,1491.1) scale(1.0)"/>
<use href="#pls" transform="translate(166.2,1488.4) scale(1.0)"/>
<use href="#pls" transform="translate(167.5,1485.7) scale(1.0)"/>
<use href="#pls" transform="translate(168.8,1483.0) scale(1.0)"/>
<use href="#pls" transform="translate(170.1,1480.4) scale(1.0)"/>
<use href="#pls" transform="translate(171.4,1477.7) scale(1.0)"/>
<use href="#pls" transform="translate(172.7,1475.0) scale(1.0)"/>
<use href="#pls" transform="translate(174.0,1472.3) scale(1.0)"/>
<use href="#pls" transform="translate(175.3,1469.7) scale(1.0)"/>
<use href="#pls" transform="translate(176.6,1467.1) scale(1.0)"/>
<use href="#pls" transform="translate(177.9,1464.4) scale(1.0)"/>
<use href="#pls" transform="translate(179.2,1461.8) scale(1.0)"/>
<use href="#pls" transform="translate(180.6,1459.2) scale(1.0)"/>
<use href="#pls" transform="translate(182.0,1456.6) scale(1.0)"/>
<use href="#pls" transform="translate(183.3,1454.1) scale(1.0)"/>
<use href="#pls" transform="translate(184.7,1451.5) scale(1.0)"/>
<use href="#pls" transform="translate(186.1,1449.0) scale(1.0)"/>
<use href="#pls" transform="translate(187.6,1446.5) scale(1.0)"/>
<use href="#pls" transform="translate(189.0,1444.0) scale(1.0)"/>
<use href="#pls" transform="translate(190.5,1441.6) scale(1.0)"/>
<use href="#pls" transform="translate(192.0,1439.2) scale(1.0)"/>
<use href="#pls" transform="translate(193.5,1436.8) scale(1.0)"/>
<use href="#pls" transform="translate(195.1,1434.4) scale(1.0)"/>
<use href="#pls" transform="translate(196.7,1432.1) scale(1.0)"/>
<use href="#pls" transform="translate(198.3,1429.8) scale(1.0)"/>
<use href="#pls" transform="translate(199.9,1427.5) scale(1.0)"/>
<use href="#pls" transform="translate(201.6,1425.3) scale(1.0)"/>
<use href="#pls" transform="translate(203.3,1423.1) scale(1.0)"/>
<use href="#pls" transform="translate(205.1,1420.9) scale(1.0)"/>
<use href="#pls" transform="translate(206.8,1418.8) scale(1.0)"/>
<use href="#pls" transform="translate(208.7,1416.7) scale(1.0)"/>
<use href="#pls" transform="translate(210.5,1414.7) scale(1.0)"/>
<use href="#pls" transform="translate(212.4,1412.7) scale(1.0)"/>
<use href="#pls" transform="translate(214.3,1410.8) scale(1.0)"/>
<use href="#pls" transform="translate(216.3,1409.0) scale(1.0)"/>
<use href="#pls" transform="translate(218.3,1407.2) scale(1.0)"/>
<use href="#pls" transform="translate(220.4,1405.4) scale(1.0)"/>
<use href="#pls" transform="translate(222.4,1403.8) scale(1.0)"/>
<use href="#pls" transform="translate(224.5,1402.2) scale(1.0)"/>
<use href="#pls" transform="translate(226.7,1400.6) scale(1.0)"/>
<use href="#pls" transform="translate(228.8,1399.2) scale(1.0)"/>
<use href="#pls" transform="translate(231.0,1397.7) scale(1.0)"/>
<use href="#pls" transform="translate(233.2,1396.4) scale(1.0)"/>
<use href="#pls" transform="translate(235.5,1395.1) scale(1.0)"/>
<use href="#pls" transform="translate(237.7,1393.8) scale(1.0)"/>
<use href="#pls" transform="translate(240.0,1392.6) scale(1.0)"/>
<use href="#pls" transform="translate(243.2,1391.0) scale(1.0)"/>
<use href="#pls" transform="translate(246.4,1389.6) scale(1.0)"/>
<use href="#pls" transform="translate(249.7,1388.2) scale(1.0)"/>
<use href="#pls" transform="translate(253.0,1386.9) scale(1.0)"/>
<use href="#pls" transform="translate(256.3,1385.6) scale(1.0)"/>
<use href="#pls" transform="translate(259.6,1384.5) scale(1.0)"/>
<use href="#pls" transform="translate(263.0,1383.5) scale(1.0)"/>
<use href="#pls" transform="translate(268.6,1381.9) scale(1.0)"/>
<use href="#pls" transform="translate(274.2,1380.5) scale(1.0)"/>
<use href="#pls" transform="translate(279.8,1379.3) scale(1.0)"/>
<use href="#pls" transform="translate(285.3,1378.3) scale(1.0)"/>
<use href="#pls" transform="translate(290.9,1377.5) scale(1.0)"/>
<use href="#pls" transform="translate(296.5,1376.8) scale(1.0)"/>
<use href="#pls" transform="translate(302.1,1376.2) scale(1.0)"/>
<use href="#pls" transform="translate(307.7,1375.8) scale(1.0)"/>
<use href="#pls" transform="translate(313.2,1375.5) scale(1.0)"/>
<use href="#pls" transform="translate(318.8,1375.3) scale(1.0)"/>
<use href="#pls" transform="translate(324.4,1375.1) scale(1.0)"/>
<use href="#pls" transform="translate(330.0,1375.1) scale(1.0)"/>
<use href="#pls" transform="translate(335.5,1375.1) scale(1.0)"/>
<use href="#pls" transform="translate(341.0,1375.2) scale(1.0)"/>
<use href="#pls" transform="translate(346.5,1375.3) scale(1.0)"/>
<use href="#pls" transform="translate(352.0,1375.4) scale(1.0)"/>
<use href="#pls" transform="translate(357.5,1375.6) scale(1.0)"/>
<use href="#pls" transform="translate(363.0,1375.7) scale(1.0)"/>
<use href="#pls" transform="translate(368.5,1375.9) scale(1.0)"/>
<use href="#pls" transform="translate(374.1,1376.0) scale(1.0)"/>
<use href="#pls" transform="translate(379.6,1376.1) scale(1.0)"/>
<use href="#pls" transform="translate(385.1,1376.2) scale(1.0)"/>
<use href="#pls" transform="translate(390.6,1376.3) scale(1.0)"/>
<use href="#pls" transform="translate(396.1,1376.4) scale(1.0)"/>
<use href="#pls" transform="translate(401.6,1376.5) scale(1.0)"/>
<use href="#pls" transform="translate(407.1,1376.5) scale(1.0)"/>
<use href="#pls" transform="translate(412.6,1376.5) scale(1.0)"/>
<use href="#pls" transform="translate(418.1,1376.5) scale(1.0)"/>
<use href="#pls" transform="translate(423.6,1376.6) scale(1.0)"/>
<use href="#pls" transform="translate(429.1,1376.6) scale(1.0)"/>
<use href="#pls" transform="translate(434.6,1376.5) scale(1.0)"/>
<use href="#pls" transform="translate(440.1,1376.5) scale(1.0)"/>
<use href="#pls" transform="translate(445.6,1376.5) scale(1.0)"/>
<use href="#pls" transform="translate(451.1,1376.5) scale(1.0)"/>
<use href="#pls" transform="translate(456.7,1376.5) scale(1.0)"/>
<use href="#pls" transform="translate(462.2,1376.4) scale(1.0)"/>
<use href="#pls" transform="translate(467.7,1376.4) scale(1.0)"/>
<use href="#pls" transform="translate(473.2,1376.4) scale(1.0)"/>
<use href="#pls" transform="translate(478.7,1376.4) scale(1.0)"/>
<use href="#pls" transform="translate(484.2,1376.3) scale(1.0)"/>
<use href="#pls" transform="translate(489.7,1376.3) scale(1.0)"/>
<use href="#pls" transform="translate(495.2,1376.3) scale(1.0)"/>
<use href="#pls" transform="translate(500.7,1376.3) scale(1.0)"/>
<use href="#pls" transform="translate(506.2,1376.2) scale(1.0)"/>
<use href="#pls" transform="translate(511.7,1376.2) scale(1.0)"/>
<use href="#pls" transform="translate(517.2,1376.2) scale(1.0)"/>
<use href="#pls" transform="translate(522.7,1376.2) scale(1.0)"/>
<use href="#pls" transform="translate(528.2,1376.2) scale(1.0)"/>
<use href="#pls" transform="translate(533.7,1376.2) scale(1.0)"/>
<use href="#pls" transform="translate(539.2,1376.2) scale(1.0)"/>
<use href="#pls" transform="translate(544.8,1376.2) scale(1.0)"/>
<use href="#pls" transform="translate(550.3,1376.1) scale(1.0)"/>
<use href="#pls" transform="translate(555.8,1376.1) scale(1.0)"/>
<use href="#pls" transform="translate(561.3,1376.1) scale(1.0)"/>
<use href="#pls" transform="translate(566.8,1376.1) scale(1.0)"/>
<use href="#pls" transform="translate(572.3,1376.1) scale(1.0)"/>
<use href="#pls" transform="translate(577.8,1376.1) scale(1.0)"/>
<use href="#pls" transform="translate(583.3,1376.1) scale(1.0)"/>
<use href="#pls" transform="translate(588.8,1376.1) scale(1.0)"/>
<use href="#pls" transform="translate(594.3,1376.1) scale(1.0)"/>
<use href="#pls" transform="translate(599.8,1376.1) scale(1.0)"/>
<use href="#pls" transform="translate(605.3,1376.1) scale(1.0)"/>
<use href="#pls" transform="translate(610.8,1376.1) scale(1.0)"/>
<use href="#pls" transform="translate(616.3,1376.1) scale(1.0)"/>
<use href="#pls" transform="translate(621.8,1376.1) scale(1.0)"/>
<use href="#pls" transform="translate(627.4,1376.1) scale(1.0)"/>
<use href="#pls" transform="translate(632.9,1376.1) scale(1.0)"/>
<use href="#pls" transform="translate(638.4,1376.1) scale(1.0)"/>
<use href="#pls" transform="translate(643.9,1376.1) scale(1.0)"/>
<use href="#pls" transform="translate(649.4,1376.1) scale(1.0)"/>
<use href="#pls" transform="translate(654.9,1376.1) scale(1.0)"/>
<use href="#pls" transform="translate(660.4,1376.1) scale(1.0)"/>
<use href="#pls" transform="translate(665.9,1376.1) scale(1.0)"/>
<use href="#pls" transform="translate(671.4,1376.1) scale(1.0)"/>
<use href="#pls" transform="translate(676.9,1376.2) scale(1.0)"/>
<use href="#pls" transform="translate(682.4,1376.2) scale(1.0)"/>
<use href="#pls" transform="translate(687.9,1376.2) scale(1.0)"/>
<use href="#pls" transform="translate(693.4,1376.2) scale(1.0)"/>
<use href="#pls" transform="translate(698.9,1376.2) scale(1.0)"/>
<use href="#pls" transform="translate(704.4,1376.2) scale(1.0)"/>
<use href="#pls" transform="translate(710.0,1376.2) scale(1.0)"/>
<use href="#pls" transform="translate(715.5,1376.2) scale(1.0)"/>
<use href="#pls" transform="translate(721.0,1376.2) scale(1.0)"/>
<use href="#pls" transform="translate(726.5,1376.2) scale(1.0)"/>
<use href="#pls" transform="translate(732.0,1376.2) scale(1.0)"/>
<use href="#pls" transform="translate(737.5,1376.2) scale(1.0)"/>
<use href="#pls" transform="translate(743.0,1376.2) scale(1.0)"/>
<use href="#pls" transform="translate(748.5,1376.2) scale(1.0)"/>
<use href="#pls" transform="translate(754.0,1376.2) scale(1.0)"/>
<use href="#pls" transform="translate(759.5,1376.2) scale(1.0)"/>
<use href="#pls" transform="translate(765.0,1376.2) scale(1.0)"/>
<use href="#pls" transform="translate(770.5,1376.2) scale(1.0)"/>
<use href="#pls" transform="translate(776.0,1376.3) scale(1.0)"/>
<use href="#pls" transform="translate(781.5,1376.3) scale(1.0)"/>
<use href="#pls" transform="translate(787.0,1376.3) scale(1.0)"/>
<use href="#pls" transform="translate(792.5,1376.3) scale(1.0)"/>
<use href="#pls" transform="translate(798.1,1376.3) scale(1.0)"/>
<use href="#pls" transform="translate(803.6,1376.3) scale(1.0)"/>
<use href="#pls" transform="translate(809.1,1376.3) scale(1.0)"/>
<use href="#pls" transform="translate(814.6,1376.3) scale(1.0)"/>
<use href="#pls" transform="translate(820.1,1376.3) scale(1.0)"/>
<use href="#pls" transform="translate(825.6,1376.3) scale(1.0)"/>
<use href="#pls" transform="translate(831.1,1376.3) scale(1.0)"/>
<use href="#pls" transform="translate(836.6,1376.3) scale(1.0)"/>
<use href="#pls" transform="translate(842.1,1376.2) scale(1.0)"/>
<use href="#pls" transform="translate(847.6,1376.2) scale(1.0)"/>
<use href="#pls" transform="translate(853.1,1376.2) scale(1.0)"/>
<use href="#pls" transform="translate(858.6,1376.2) scale(1.0)"/>
<use href="#pls" transform="translate(864.1,1376.2) scale(1.0)"/>
<use href="#pls" transform="translate(869.6,1376.2) scale(1.0)"/>
<use href="#pls" transform="translate(875.1,1376.2) scale(1.0)"/>
<use href="#pls" transform="translate(880.7,1376.2) scale(1.0)"/>
<use href="#pls" transform="translate(886.2,1376.2) scale(1.0)"/>
<use href="#pls" transform="translate(891.7,1376.2) scale(1.0)"/>
<use href="#pls" transform="translate(897.2,1376.1) scale(1.0)"/>
<use href="#pls" transform="translate(902.7,1376.1) scale(1.0)"/>
<use href="#pls" transform="translate(908.2,1376.1) scale(1.0)"/>
<use href="#pls" transform="translate(913.7,1376.1) scale(1.0)"/>
<use href="#pls" transform="translate(919.2,1376.1) scale(1.0)"/>
</g>
<path d="M111.4,1552.8 L112.1,1552.4 L112.7,1551.8 L113.4,1551.2 L114.1,1550.6 L114.8,1550.0 L115.4,1549.4 L116.1,1548.8 L116.8,1548.2 L117.5,1547.6 L118.1,1547.0 L118.8,1546.4 L119.5,1545.8 L120.2,1545.2 L120.8,1544.6 L121.5,1544.0 L122.2,1543.3 L122.9,1542.7 L123.5,1542.1 L124.2,1541.5 L124.9,1540.9 L125.5,1540.2 L126.2,1539.6 L126.9,1539.0 L127.6,1538.3 L128.2,1537.7 L128.9,1537.1 L129.6,1536.4 L130.3,1535.8 L130.9,1535.1 L131.6,1534.5 L132.3,1533.8 L133.0,1533.2 L133.6,1532.5 L134.3,1531.9 L135.0,1531.2 L135.7,1530.6 L136.3,1529.9 L137.0,1529.2 L137.7,1528.5 L138.3,1527.9 L139.0,1527.2 L139.7,1526.5 L140.4,1525.8 L141.0,1525.1 L141.7,1524.5 L142.4,1523.8 L143.1,1523.1 L143.7,1522.4 L144.4,1521.7 L145.1,1521.0 L145.8,1520.3 L146.4,1519.5 L147.1,1518.8 L147.8,1518.1 L148.5,1517.4 L149.1,1516.6 L149.8,1515.9 L150.5,1515.2 L151.1,1514.4 L151.8,1513.7 L152.5,1512.9 L153.2,1512.2 L153.8,1511.4 L154.5,1510.7 L155.2,1509.9 L155.9,1509.1 L156.5,1508.4 L157.2,1507.6 L157.9,1506.8 L158.6,1506.0 L159.2,1505.2 L159.9,1504.4 L160.6,1503.6 L161.3,1502.8 L161.9,1502.0 L162.6,1501.2 L163.3,1500.3 L164.0,1499.5 L164.6,1498.7 L165.3,1497.8 L166.0,1497.0 L166.6,1496.1 L167.3,1495.3 L168.0,1494.4 L168.7,1493.5 L169.3,1492.7 L170.0,1491.8 L170.7,1490.9 L171.4,1490.0 L172.0,1489.1 L172.7,1488.2 L173.4,1487.3 L174.1,1486.4 L174.7,1485.5 L175.4,1484.6 L176.1,1483.6 L176.8,1482.7 L177.4,1481.8 L178.1,1480.9 L178.8,1480.0 L179.4,1479.0 L180.1,1478.1 L180.8,1477.2 L181.5,1476.3 L182.1,1475.3 L182.8,1474.4 L183.5,1473.5 L184.2,1472.6 L184.8,1471.7 L185.5,1470.8 L186.2,1469.9 L186.9,1468.9 L187.5,1468.0 L188.2,1467.1 L188.9,1466.3 L189.6,1465.4 L190.2,1464.5 L190.9,1463.6 L191.6,1462.7 L192.2,1461.9 L192.9,1461.0 L193.6,1460.2 L194.3,1459.3 L194.9,1458.5 L195.6,1457.7 L196.3,1456.8 L197.0,1456.0 L197.6,1455.2 L198.3,1454.4 L199.0,1453.6 L199.7,1452.8 L200.3,1452.1 L201.0,1451.3 L201.7,1450.5 L202.4,1449.8 L203.0,1449.0 L203.7,1448.3 L204.4,1447.6 L205.0,1446.9 L205.7,1446.2 L206.4,1445.5 L207.1,1444.8 L207.7,1444.1 L208.4,1443.5 L209.1,1442.8 L209.8,1442.2 L210.4,1441.5 L211.1,1440.9 L211.8,1440.3 L212.5,1439.6 L213.1,1439.0 L213.8,1438.4 L214.5,1437.8 L215.2,1437.2 L215.8,1436.7 L216.5,1436.1 L217.2,1435.5 L217.8,1434.9 L218.5,1434.4 L219.2,1433.8 L219.9,1433.3 L220.5,1432.7 L221.2,1432.2 L221.9,1431.7 L222.6,1431.2 L223.2,1430.6 L223.9,1430.1 L224.6,1429.6 L225.3,1429.1 L225.9,1428.6 L226.6,1428.1 L227.3,1427.7 L228.0,1427.2 L228.6,1426.7 L229.3,1426.2 L230.0,1425.8 L230.6,1425.3 L231.3,1424.9 L232.0,1424.4 L232.7,1424.0 L233.3,1423.5 L234.0,1423.1 L234.7,1422.6 L235.4,1422.2 L236.0,1421.8 L236.7,1421.4 L237.4,1421.0 L238.1,1420.5 L238.7,1420.1 L239.4,1419.7 L240.1,1419.3 L240.8,1418.9 L241.4,1418.5 L242.1,1418.1 L242.8,1417.8 L243.5,1417.4 L244.1,1417.0 L244.8,1416.6 L245.5,1416.2 L246.1,1415.9 L246.8,1415.5 L247.5,1415.1 L248.2,1414.8 L248.8,1414.4 L249.5,1414.1 L250.2,1413.7 L250.9,1413.4 L251.5,1413.0 L252.2,1412.7 L252.9,1412.4 L253.6,1412.0 L254.2,1411.7 L254.9,1411.4 L255.6,1411.0 L256.3,1410.7 L256.9,1410.4 L257.6,1410.1 L258.3,1409.8 L258.9,1409.4 L259.6,1409.1 L260.3,1408.8 L261.0,1408.5 L261.6,1408.2 L262.3,1407.9 L263.0,1407.6 L263.7,1407.3 L264.3,1407.0 L265.0,1406.8 L265.7,1406.5 L266.4,1406.2 L267.0,1405.9 L267.7,1405.6 L268.4,1405.3 L269.1,1405.1 L269.7,1404.8 L270.4,1404.5 L271.1,1404.2 L271.7,1404.0 L272.4,1403.7 L273.1,1403.5 L273.8,1403.2 L274.4,1402.9 L275.1,1402.7 L275.8,1402.4 L276.5,1402.2 L277.1,1401.9 L277.8,1401.7 L278.5,1401.4 L279.2,1401.2 L279.8,1400.9 L280.5,1400.7 L281.2,1400.5 L281.9,1400.2 L282.5,1400.0 L283.2,1399.7 L283.9,1399.5 L284.5,1399.3 L285.2,1399.1 L285.9,1398.8 L286.6,1398.6 L287.2,1398.4 L287.9,1398.2 L288.6,1397.9 L289.3,1397.7 L289.9,1397.5 L290.6,1397.3 L291.3,1397.1 L292.0,1396.9 L292.6,1396.6 L293.3,1396.4 L294.0,1396.2 L294.7,1396.0 L295.3,1395.8 L296.0,1395.6 L296.7,1395.4 L297.3,1395.2 L298.0,1395.0 L298.7,1394.8 L299.4,1394.6 L300.0,1394.4 L300.7,1394.2 L301.4,1394.0 L302.1,1393.8 L302.7,1393.7 L303.4,1393.5 L304.1,1393.3 L304.8,1393.1 L305.4,1392.9 L306.1,1392.7 L306.8,1392.5 L307.5,1392.4 L308.1,1392.2 L308.8,1392.0 L309.5,1391.8 L310.1,1391.7 L310.8,1391.5 L311.5,1391.3 L312.2,1391.1 L312.8,1391.0 L313.5,1390.8 L314.2,1390.6 L314.9,1390.5 L315.5,1390.3 L316.2,1390.1 L316.9,1390.0 L317.6,1389.8 L318.2,1389.6 L318.9,1389.5 L319.6,1389.3 L320.3,1389.2 L320.9,1389.0 L321.6,1388.9 L322.3,1388.7 L323.0,1388.5 L323.6,1388.4 L324.3,1388.2 L325.0,1388.1 L325.6,1387.9 L326.3,1387.8 L327.0,1387.6 L327.7,1387.5 L328.3,1387.4 L329.0,1387.2 L329.7,1387.1 L330.4,1386.9 L331.0,1386.8 L331.7,1386.7 L332.4,1386.5 L333.1,1386.4 L333.7,1386.2 L334.4,1386.1 L335.1,1386.0 L335.8,1385.8 L336.4,1385.7 L337.1,1385.6 L337.8,1385.4 L338.4,1385.3 L339.1,1385.2 L339.8,1385.1 L340.5,1384.9 L341.1,1384.8 L341.8,1384.7 L342.5,1384.6 L343.2,1384.4 L343.8,1384.3 L344.5,1384.2 L345.2,1384.1 L345.9,1384.0 L346.5,1383.9 L347.2,1383.7 L347.9,1383.6 L348.6,1383.5 L349.2,1383.4 L349.9,1383.3 L350.6,1383.2 L351.2,1383.1 L351.9,1383.0 L352.6,1382.8 L353.3,1382.7 L353.9,1382.6 L354.6,1382.5 L355.3,1382.4 L356.0,1382.3 L356.6,1382.2 L357.3,1382.1 L358.0,1382.0 L358.7,1381.9 L359.3,1381.8 L360.0,1381.7 L360.7,1381.6 L361.4,1381.5 L362.0,1381.4 L362.7,1381.3 L363.4,1381.2 L364.0,1381.2 L364.7,1381.1 L365.4,1381.0 L366.1,1380.9 L366.7,1380.8 L367.4,1380.7 L368.1,1380.6 L368.8,1380.5 L369.4,1380.4 L370.1,1380.4 L370.8,1380.3 L371.5,1380.2 L372.1,1380.1 L372.8,1380.0 L373.5,1380.0 L374.2,1379.9 L374.8,1379.8 L375.5,1379.7 L376.2,1379.6 L376.8,1379.6 L377.5,1379.5 L378.2,1379.4 L378.9,1379.3 L379.5,1379.3 L380.2,1379.2 L380.9,1379.1 L381.6,1379.0 L382.2,1379.0 L382.9,1378.9 L383.6,1378.8 L384.3,1378.8 L384.9,1378.7 L385.6,1378.6 L386.3,1378.6 L387.0,1378.5 L387.6,1378.4 L388.3,1378.4 L389.0,1378.3 L389.6,1378.3 L390.3,1378.2 L391.0,1378.1 L391.7,1378.1 L392.3,1378.0 L393.0,1378.0 L393.7,1377.9 L394.4,1377.8 L395.0,1377.8 L395.7,1377.7 L396.4,1377.7 L397.1,1377.6 L397.7,1377.6 L398.4,1377.5 L399.1,1377.5 L399.8,1377.4 L400.4,1377.4 L401.1,1377.3 L401.8,1377.3 L402.5,1377.2 L403.1,1377.2 L403.8,1377.1 L404.5,1377.1 L405.1,1377.0 L405.8,1377.0 L406.5,1376.9 L407.2,1376.9 L407.8,1376.8 L408.5,1376.8 L409.2,1376.7 L409.9,1376.7 L410.5,1376.7 L411.2,1376.6 L411.9,1376.6 L412.6,1376.5 L413.2,1376.5 L413.9,1376.5 L414.6,1376.4 L415.3,1376.4 L415.9,1376.4 L416.6,1376.3 L417.3,1376.3 L417.9,1376.2 L418.6,1376.2 L419.3,1376.2 L420.0,1376.1 L420.6,1376.1 L421.3,1376.1 L422.0,1376.1 L422.7,1376.0 L423.3,1376.0 L424.0,1376.0 L424.7,1375.9 L425.4,1375.9 L426.0,1375.9 L426.7,1375.8 L427.4,1375.8 L428.1,1375.8 L428.7,1375.8 L429.4,1375.7 L430.1,1375.7 L430.7,1375.7 L431.4,1375.7 L432.1,1375.6 L432.8,1375.6 L433.4,1375.6 L434.1,1375.6 L434.8,1375.6 L435.5,1375.5 L436.1,1375.5 L436.8,1375.5 L437.5,1375.5 L438.2,1375.5 L438.8,1375.4 L439.5,1375.4 L440.2,1375.4 L440.9,1375.4 L441.5,1375.4 L442.2,1375.3 L442.9,1375.3 L443.5,1375.3 L444.2,1375.3 L444.9,1375.3 L445.6,1375.3 L446.2,1375.3 L446.9,1375.2 L447.6,1375.2 L448.3,1375.2 L448.9,1375.2 L449.6,1375.2 L450.3,1375.2 L451.0,1375.2 L451.6,1375.2 L452.3,1375.2 L453.0,1375.1 L453.7,1375.1 L454.3,1375.1 L455.0,1375.1 L455.7,1375.1 L456.3,1375.1 L457.0,1375.1 L457.7,1375.1 L458.4,1375.1 L459.0,1375.1 L459.7,1375.1 L460.4,1375.1 L461.1,1375.1 L461.7,1375.1 L462.4,1375.1 L463.1,1375.1 L463.8,1375.0 L464.4,1375.0 L465.1,1375.0 L465.8,1375.0 L466.5,1375.0 L467.1,1375.0 L467.8,1375.0 L468.5,1375.0 L469.1,1375.0 L469.8,1375.0 L470.5,1375.0 L471.2,1375.0 L471.8,1375.0 L472.5,1375.0 L473.2,1375.0 L473.9,1375.0 L474.5,1375.0 L475.2,1375.0 L475.9,1375.0 L476.6,1375.0 L477.2,1375.0 L477.9,1375.1 L478.6,1375.1 L479.3,1375.1 L479.9,1375.1 L480.6,1375.1 L481.3,1375.1 L482.0,1375.1 L482.6,1375.1 L483.3,1375.1 L484.0,1375.1 L484.6,1375.1 L485.3,1375.1 L486.0,1375.1 L486.7,1375.1 L487.3,1375.1 L488.0,1375.1 L488.7,1375.1 L489.4,1375.1 L490.0,1375.2 L490.7,1375.2 L491.4,1375.2 L492.1,1375.2 L492.7,1375.2 L493.4,1375.2 L494.1,1375.2 L494.8,1375.2 L495.4,1375.2 L496.1,1375.2 L496.8,1375.2 L497.4,1375.3 L498.1,1375.3 L498.8,1375.3 L499.5,1375.3 L500.1,1375.3 L500.8,1375.3 L501.5,1375.3 L502.2,1375.3 L502.8,1375.3 L503.5,1375.4 L504.2,1375.4 L504.9,1375.4 L505.5,1375.4 L506.2,1375.4 L506.9,1375.4 L507.6,1375.4 L508.2,1375.4 L508.9,1375.5 L509.6,1375.5 L510.2,1375.5 L510.9,1375.5 L511.6,1375.5 L512.3,1375.5 L512.9,1375.5 L513.6,1375.6 L514.3,1375.6 L515.0,1375.6 L515.6,1375.6 L516.3,1375.6 L517.0,1375.6 L517.7,1375.6 L518.3,1375.7 L519.0,1375.7 L519.7,1375.7 L520.4,1375.7 L521.0,1375.7 L521.7,1375.7 L522.4,1375.8 L523.0,1375.8 L523.7,1375.8 L524.4,1375.8 L525.1,1375.8 L525.7,1375.8 L526.4,1375.8 L527.1,1375.9 L527.8,1375.9 L528.4,1375.9 L529.1,1375.9 L529.8,1375.9 L530.5,1375.9 L531.1,1376.0 L531.8,1376.0 L532.5,1376.0 L533.2,1376.0 L533.8,1376.0 L534.5,1376.0 L535.2,1376.1 L535.8,1376.1 L536.5,1376.1 L537.2,1376.1 L537.9,1376.1 L538.5,1376.1 L539.2,1376.2 L539.9,1376.2 L540.6,1376.2 L541.2,1376.2 L541.9,1376.2 L542.6,1376.2 L543.3,1376.3 L543.9,1376.3 L544.6,1376.3 L545.3,1376.3 L546.0,1376.3 L546.6,1376.3 L547.3,1376.4 L548.0,1376.4 L548.6,1376.4 L549.3,1376.4 L550.0,1376.4 L550.7,1376.4 L551.3,1376.5 L552.0,1376.5 L552.7,1376.5 L553.4,1376.5 L554.0,1376.5 L554.7,1376.5 L555.4,1376.6 L556.1,1376.6 L556.7,1376.6 L557.4,1376.6 L558.1,1376.6 L558.8,1376.6 L559.4,1376.7 L560.1,1376.7 L560.8,1376.7 L561.5,1376.7 L562.1,1376.7 L562.8,1376.7 L563.5,1376.7 L564.1,1376.8 L564.8,1376.8 L565.5,1376.8 L566.2,1376.8 L566.8,1376.8 L567.5,1376.8 L568.2,1376.8 L568.9,1376.9 L569.5,1376.9 L570.2,1376.9 L570.9,1376.9 L571.6,1376.9 L572.2,1376.9 L572.9,1376.9 L573.6,1377.0 L574.3,1377.0 L574.9,1377.0 L575.6,1377.0 L576.3,1377.0 L576.9,1377.0 L577.6,1377.0 L578.3,1377.0 L579.0,1377.1 L579.6,1377.1 L580.3,1377.1 L581.0,1377.1 L581.7,1377.1 L582.3,1377.1 L583.0,1377.1 L583.7,1377.1 L584.4,1377.1 L585.0,1377.2 L585.7,1377.2 L586.4,1377.2 L587.1,1377.2 L587.7,1377.2 L588.4,1377.2 L589.1,1377.2 L589.7,1377.2 L590.4,1377.2 L591.1,1377.2 L591.8,1377.3 L592.4,1377.3 L593.1,1377.3 L593.8,1377.3 L594.5,1377.3 L595.1,1377.3 L595.8,1377.3 L596.5,1377.3 L597.2,1377.3 L597.8,1377.3 L598.5,1377.3 L599.2,1377.3 L599.9,1377.3 L600.5,1377.4 L601.2,1377.4 L601.9,1377.4 L602.5,1377.4 L603.2,1377.4 L603.9,1377.4 L604.6,1377.4 L605.2,1377.4 L605.9,1377.4 L606.6,1377.4 L607.3,1377.4 L607.9,1377.4 L608.6,1377.4 L609.3,1377.4 L610.0,1377.4 L610.6,1377.4 L611.3,1377.4 L612.0,1377.4 L612.7,1377.4 L613.3,1377.5 L614.0,1377.5 L614.7,1377.5 L615.3,1377.5 L616.0,1377.5 L616.7,1377.5 L617.4,1377.5 L618.0,1377.5 L618.7,1377.5 L619.4,1377.5 L620.1,1377.5 L620.7,1377.5 L621.4,1377.5 L622.1,1377.5 L622.8,1377.5 L623.4,1377.5 L624.1,1377.5 L624.8,1377.5 L625.5,1377.5 L626.1,1377.5 L626.8,1377.5 L627.5,1377.5 L628.1,1377.5 L628.8,1377.5 L629.5,1377.5 L630.2,1377.5 L630.8,1377.5 L631.5,1377.5 L632.2,1377.5 L632.9,1377.5 L633.5,1377.5 L634.2,1377.5 L634.9,1377.5 L635.6,1377.5 L636.2,1377.5 L636.9,1377.5 L637.6,1377.5 L638.3,1377.5 L638.9,1377.5 L639.6,1377.5 L640.3,1377.5 L641.0,1377.5 L641.6,1377.5 L642.3,1377.5 L643.0,1377.5 L643.6,1377.5 L644.3,1377.5 L645.0,1377.5 L645.7,1377.5 L646.3,1377.5 L647.0,1377.5 L647.7,1377.5 L648.4,1377.5 L649.0,1377.5 L649.7,1377.5 L650.4,1377.5 L651.1,1377.5 L651.7,1377.5 L652.4,1377.5 L653.1,1377.5 L653.8,1377.5 L654.4,1377.5 L655.1,1377.5 L655.8,1377.5 L656.4,1377.4 L657.1,1377.4 L657.8,1377.4 L658.5,1377.4 L659.1,1377.4 L659.8,1377.4 L660.5,1377.4 L661.2,1377.4 L661.8,1377.4 L662.5,1377.4 L663.2,1377.4 L663.9,1377.4 L664.5,1377.4 L665.2,1377.4 L665.9,1377.4 L666.6,1377.4 L667.2,1377.4 L667.9,1377.4 L668.6,1377.4 L669.2,1377.4 L669.9,1377.4 L670.6,1377.4 L671.3,1377.4 L671.9,1377.3 L672.6,1377.3 L673.3,1377.3 L674.0,1377.3 L674.6,1377.3 L675.3,1377.3 L676.0,1377.3 L676.7,1377.3 L677.3,1377.3 L678.0,1377.3 L678.7,1377.3 L679.4,1377.3 L680.0,1377.3 L680.7,1377.3 L681.4,1377.3 L682.0,1377.3 L682.7,1377.3 L683.4,1377.2 L684.1,1377.2 L684.7,1377.2 L685.4,1377.2 L686.1,1377.2 L686.8,1377.2 L687.4,1377.2 L688.1,1377.2 L688.8,1377.2 L689.5,1377.2 L690.1,1377.2 L690.8,1377.2 L691.5,1377.2 L692.2,1377.2 L692.8,1377.2 L693.5,1377.1 L694.2,1377.1 L694.8,1377.1 L695.5,1377.1 L696.2,1377.1 L696.9,1377.1 L697.5,1377.1 L698.2,1377.1 L698.9,1377.1 L699.6,1377.1 L700.2,1377.1 L700.9,1377.1 L701.6,1377.1 L702.3,1377.0 L702.9,1377.0 L703.6,1377.0 L704.3,1377.0 L705.0,1377.0 L705.6,1377.0 L706.3,1377.0 L707.0,1377.0 L707.6,1377.0 L708.3,1377.0 L709.0,1377.0 L709.7,1377.0 L710.3,1377.0 L711.0,1376.9 L711.7,1376.9 L712.4,1376.9 L713.0,1376.9 L713.7,1376.9 L714.4,1376.9 L715.1,1376.9 L715.7,1376.9 L716.4,1376.9 L717.1,1376.9 L717.8,1376.9 L718.4,1376.9 L719.1,1376.9 L719.8,1376.8 L720.5,1376.8 L721.1,1376.8 L721.8,1376.8 L722.5,1376.8 L723.1,1376.8 L723.8,1376.8 L724.5,1376.8 L725.2,1376.8 L725.8,1376.8 L726.5,1376.8 L727.2,1376.8 L727.9,1376.7 L728.5,1376.7 L729.2,1376.7 L729.9,1376.7 L730.6,1376.7 L731.2,1376.7 L731.9,1376.7 L732.6,1376.7 L733.3,1376.7 L733.9,1376.7 L734.6,1376.7 L735.3,1376.7 L735.9,1376.6 L736.6,1376.6 L737.3,1376.6 L738.0,1376.6 L738.6,1376.6 L739.3,1376.6 L740.0,1376.6 L740.7,1376.6 L741.3,1376.6 L742.0,1376.6 L742.7,1376.6 L743.4,1376.6 L744.0,1376.5 L744.7,1376.5 L745.4,1376.5 L746.1,1376.5 L746.7,1376.5 L747.4,1376.5 L748.1,1376.5 L748.7,1376.5 L749.4,1376.5 L750.1,1376.5 L750.8,1376.5 L751.4,1376.5 L752.1,1376.5 L752.8,1376.4 L753.5,1376.4 L754.1,1376.4 L754.8,1376.4 L755.5,1376.4 L756.2,1376.4 L756.8,1376.4 L757.5,1376.4 L758.2,1376.4 L758.9,1376.4 L759.5,1376.4 L760.2,1376.4 L760.9,1376.4 L761.5,1376.3 L762.2,1376.3 L762.9,1376.3 L763.6,1376.3 L764.2,1376.3 L764.9,1376.3 L765.6,1376.3 L766.3,1376.3 L766.9,1376.3 L767.6,1376.3 L768.3,1376.3 L769.0,1376.3 L769.6,1376.3 L770.3,1376.3 L771.0,1376.3 L771.7,1376.2 L772.3,1376.2 L773.0,1376.2 L773.7,1376.2 L774.3,1376.2 L775.0,1376.2 L775.7,1376.2 L776.4,1376.2 L777.0,1376.2 L777.7,1376.2 L778.4,1376.2 L779.1,1376.2 L779.7,1376.2 L780.4,1376.2 L781.1,1376.2 L781.8,1376.2 L782.4,1376.1 L783.1,1376.1 L783.8,1376.1 L784.5,1376.1 L785.1,1376.1 L785.8,1376.1 L786.5,1376.1 L787.1,1376.1 L787.8,1376.1 L788.5,1376.1 L789.2,1376.1 L789.8,1376.1 L790.5,1376.1 L791.2,1376.1 L791.9,1376.1 L792.5,1376.1 L793.2,1376.1 L793.9,1376.1 L794.6,1376.1 L795.2,1376.1 L795.9,1376.0 L796.6,1376.0 L797.3,1376.0 L797.9,1376.0 L798.6,1376.0 L799.3,1376.0 L800.0,1376.0 L800.6,1376.0 L801.3,1376.0 L802.0,1376.0 L802.6,1376.0 L803.3,1376.0 L804.0,1376.0 L804.7,1376.0 L805.3,1376.0 L806.0,1376.0 L806.7,1376.0 L807.4,1376.0 L808.0,1376.0 L808.7,1376.0 L809.4,1376.0 L810.1,1376.0 L810.7,1376.0 L811.4,1376.0 L812.1,1376.0 L812.8,1376.0 L813.4,1376.0 L814.1,1376.0 L814.8,1376.0 L815.4,1376.0 L816.1,1376.0 L816.8,1376.0 L817.5,1376.0 L818.1,1376.0 L818.8,1376.0 L819.5,1376.0 L820.2,1376.0 L820.8,1376.0 L821.5,1376.0 L822.2,1376.0 L822.9,1376.0 L823.5,1376.0 L824.2,1376.0 L824.9,1376.0 L825.6,1376.0 L826.2,1376.0 L826.9,1376.0 L827.6,1376.0 L828.2,1376.0 L828.9,1376.0 L829.6,1376.0 L830.3,1376.0 L830.9,1376.0 L831.6,1376.0 L832.3,1376.0 L833.0,1376.0 L833.6,1376.0 L834.3,1376.0 L835.0,1376.0 L835.7,1376.0 L836.3,1376.0 L837.0,1376.0 L837.7,1376.0 L838.4,1376.0 L839.0,1376.0 L839.7,1376.0 L840.4,1376.0 L841.0,1376.0 L841.7,1376.0 L842.4,1376.0 L843.1,1376.0 L843.7,1376.0 L844.4,1376.0 L845.1,1376.0 L845.8,1376.0 L846.4,1376.0 L847.1,1376.0 L847.8,1376.0 L848.5,1376.0 L849.1,1376.0 L849.8,1376.0 L850.5,1376.0 L851.2,1376.0 L851.8,1376.1 L852.5,1376.1 L853.2,1376.1 L853.8,1376.1 L854.5,1376.1 L855.2,1376.1 L855.9,1376.1 L856.5,1376.1 L857.2,1376.1 L857.9,1376.1 L858.6,1376.1 L859.2,1376.1 L859.9,1376.1 L860.6,1376.1 L861.3,1376.1 L861.9,1376.2 L862.6,1376.2 L863.3,1376.2 L864.0,1376.2 L864.6,1376.2 L865.3,1376.2 L866.0,1376.2 L866.6,1376.2 L867.3,1376.2 L868.0,1376.2 L868.7,1376.2 L869.3,1376.2 L870.0,1376.3 L870.7,1376.3 L871.4,1376.3 L872.0,1376.3 L872.7,1376.3 L873.4,1376.3 L874.1,1376.3 L874.7,1376.3 L875.4,1376.3 L876.1,1376.3 L876.8,1376.4 L877.4,1376.4 L878.1,1376.4 L878.8,1376.4 L879.5,1376.4 L880.1,1376.4 L880.8,1376.4 L881.5,1376.4 L882.1,1376.5 L882.8,1376.5 L883.5,1376.5 L884.2,1376.5 L884.8,1376.5 L885.5,1376.5 L886.2,1376.5 L886.9,1376.5 L887.5,1376.6 L888.2,1376.6 L888.9,1376.6 L889.6,1376.6 L890.2,1376.6 L890.9,1376.6 L891.6,1376.6 L892.3,1376.7 L892.9,1376.7 L893.6,1376.7 L894.3,1376.7 L894.9,1376.7 L895.6,1376.7 L896.3,1376.8 L897.0,1376.8 L897.6,1376.8 L898.3,1376.8 L899.0,1376.8 L899.7,1376.8 L900.3,1376.9 L901.0,1376.9 L901.7,1376.9 L902.4,1376.9 L903.0,1376.9 L903.7,1377.0 L904.4,1377.0 L905.1,1377.0 L905.7,1377.0 L906.4,1377.0 L907.1,1377.1 L907.7,1377.1 L908.4,1377.1 L909.1,1377.1 L909.8,1377.1 L910.4,1377.2 L911.1,1377.2 L911.8,1377.2 L912.5,1377.2 L913.1,1377.2 L913.8,1377.3 L914.5,1377.3 L915.2,1377.3 L915.8,1377.3 L916.5,1377.4 L917.2,1377.4 L917.9,1377.4 L918.5,1377.4 L919.2,1377.4" fill="none" stroke="#77AC30" stroke-width="6.43" stroke-dasharray="28.560 28.560" stroke-dashoffset="0.61"/>
<text x="99.0" y="1833.0" class="tl" style="font-size:35.15px" text-anchor="end">0</text>
<text x="99.0" y="1744.2" class="tl" style="font-size:35.15px" text-anchor="end">0.2</text>
<text x="99.0" y="1655.5" class="tl" style="font-size:35.15px" text-anchor="end">0.4</text>
<text x="99.0" y="1566.7" class="tl" style="font-size:35.15px" text-anchor="end">0.6</text>
<text x="99.0" y="1478.0" class="tl" style="font-size:35.15px" text-anchor="end">0.8</text>
<text x="99.0" y="1389.3" class="tl" style="font-size:35.15px" text-anchor="end">1</text>
<text x="111.4" y="1864.4" class="tl" style="font-size:35.15px" text-anchor="middle">0</text>
<text x="380.6" y="1864.4" class="tl" style="font-size:35.15px" text-anchor="middle">5</text>
<text x="649.9" y="1864.4" class="tl" style="font-size:35.15px" text-anchor="middle">10</text>
<text x="919.1" y="1864.4" class="tl" style="font-size:35.15px" text-anchor="middle">15</text>
<rect x="476.6" y="180.6" width="437.19999999999993" height="151.79999999999998" fill="#fff" stroke="#262626" stroke-width="4.6"/>
<path d="M483,202.4H558" stroke="#0072BD" stroke-width="4"/>
<use href="#ast" x="520.7" y="239.0"/>
<use href="#pls" x="520.7" y="275.9"/>
<path d="M483,312.3H512M540.6,312.3H558.5" stroke="#77AC30" stroke-width="6.5"/>
<text x="564.2" y="212.6" class="lg">Local government</text>
<text x="564.2" y="249.5" class="lg">Drug enterprise</text>
<text x="564.2" y="286.4" class="lg">Third-party testing agency</text>
<text x="564.2" y="323.3" class="lg">New media</text>
<text x="501" y="605.1" class="al" text-anchor="middle">Time</text>
<text x="515.9" y="1262.5" class="al" style="font-size:37.3px" text-anchor="middle">Time</text>
<text x="506.2" y="1880.6" class="al" text-anchor="middle">Time</text>
<text transform="translate(34.6,275.4) rotate(-90)" class="al" text-anchor="middle">Strategic choice</text>
<text transform="translate(39.5,913.0) rotate(-90)" class="al" style="font-size:37.2px" text-anchor="middle">Strategic choice</text>
<text transform="translate(41.3,1554.3) rotate(-90)" class="al" text-anchor="middle">Strategic choice</text>
<text x="9.2" y="31.7" class="pl">A</text>
<text x="7.7" y="649.0" class="pl">B</text>
<text x="8.1" y="1288.3" class="pl">C</text>
</svg>
</body></html>
